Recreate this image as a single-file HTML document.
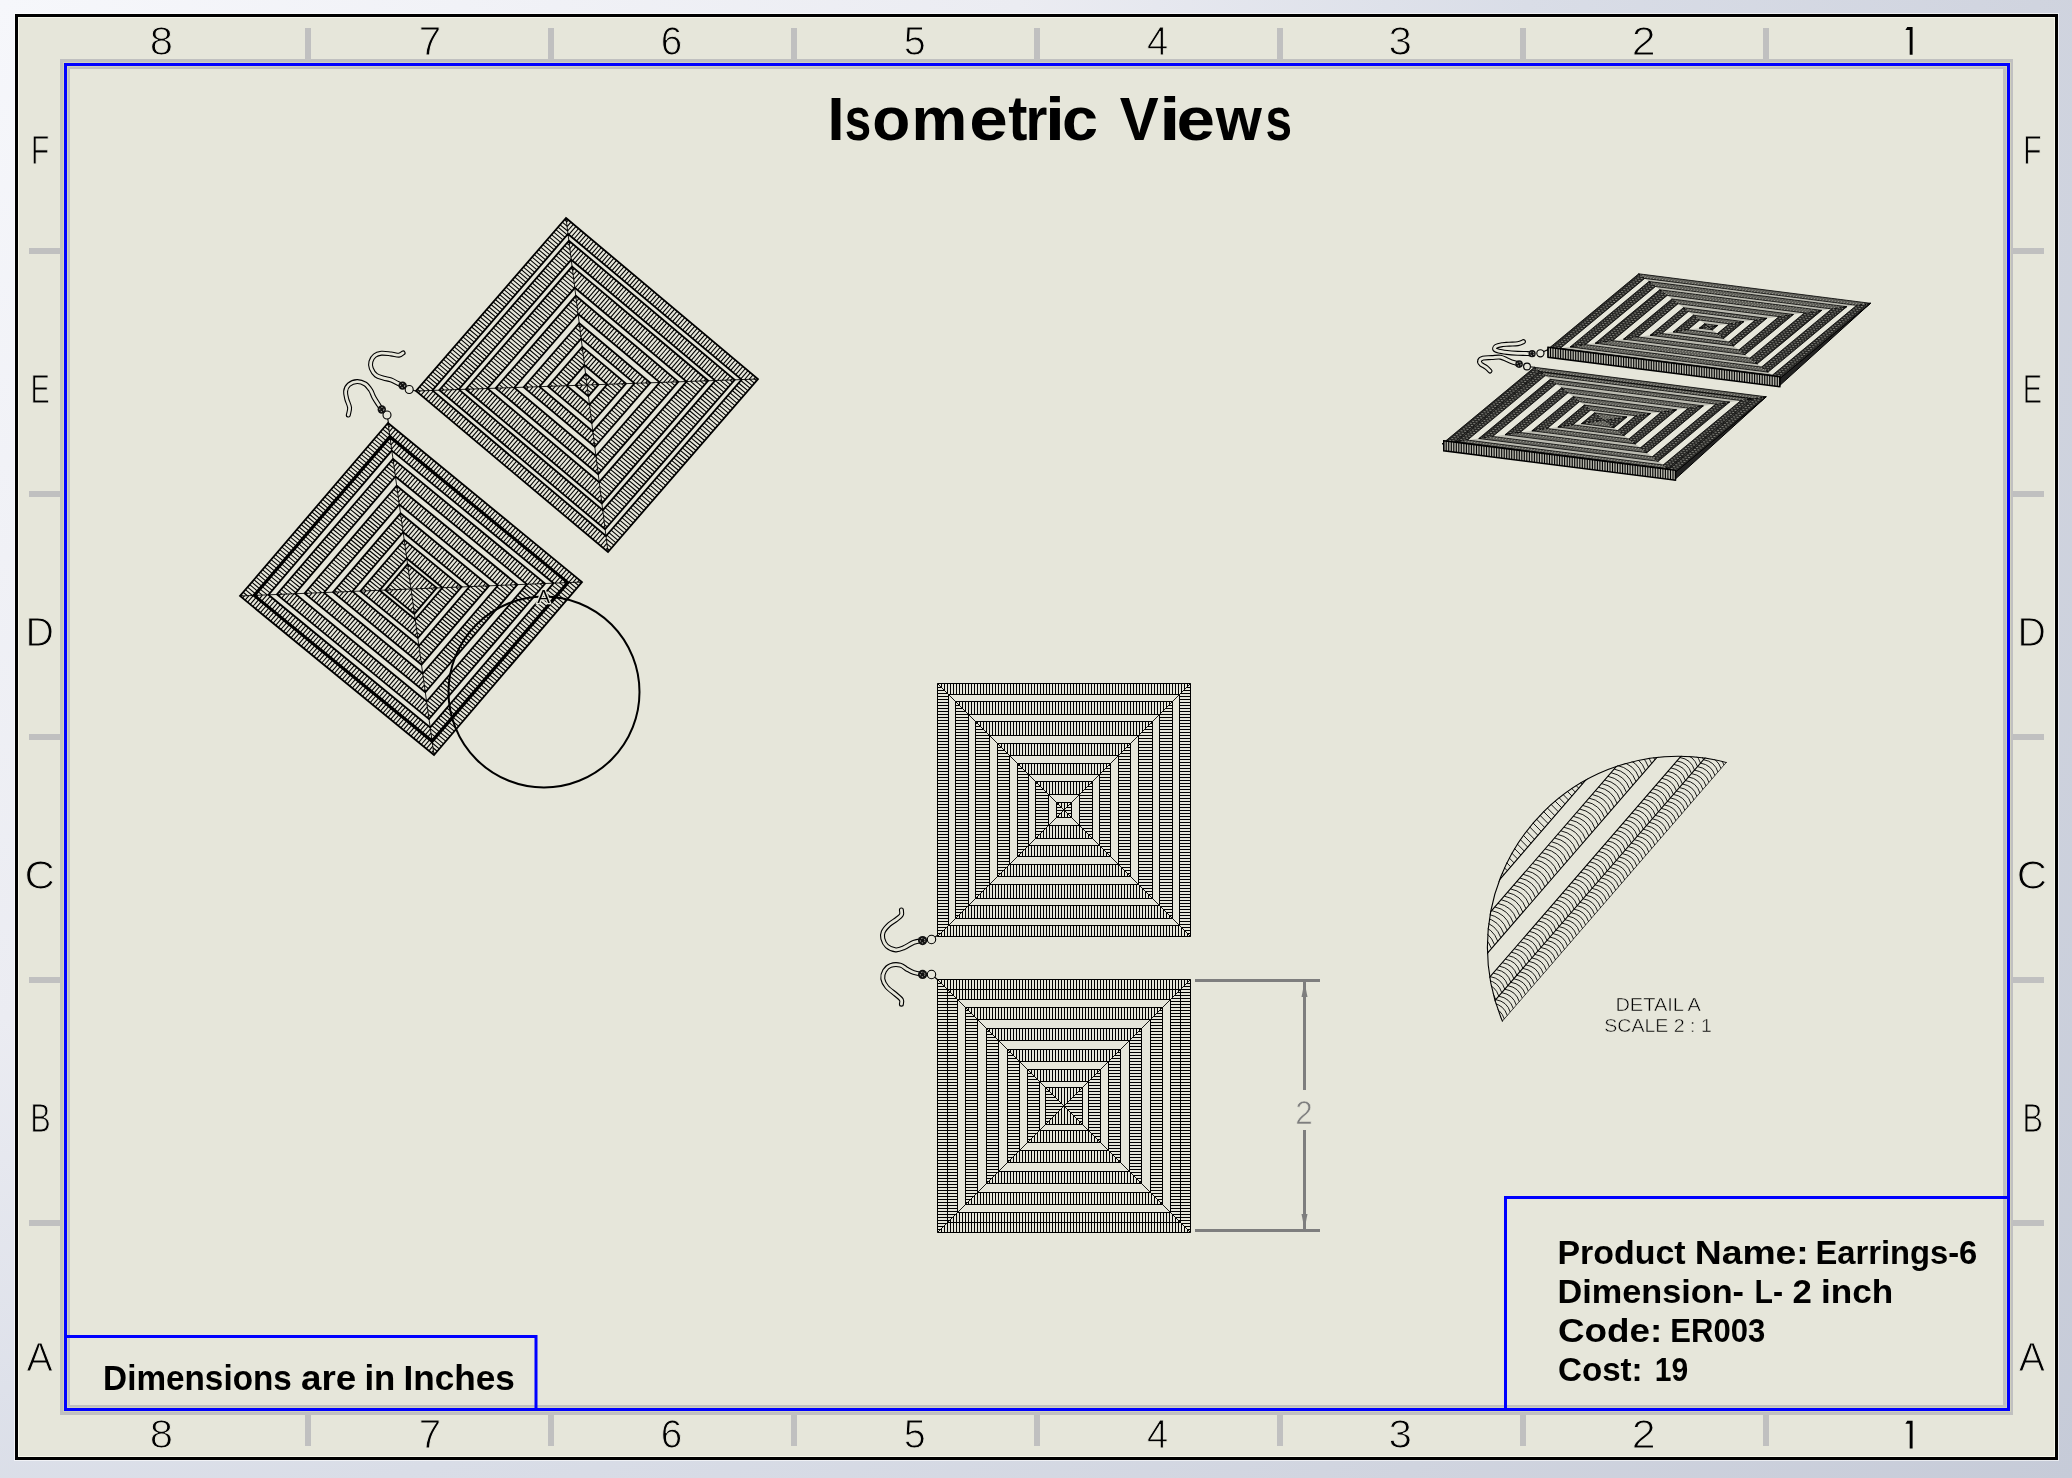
<!DOCTYPE html>
<html><head><meta charset="utf-8"><title>Isometric Views</title>
<style>
html,body{margin:0;padding:0;width:2072px;height:1478px;overflow:hidden}
body{background:radial-gradient(circle farthest-corner at 0 0,#f6f7fb 0%,#ebecf2 40%,#d9dde7 60%,#d0d4df 80%,#c6cbd8 100%)}
svg{position:absolute;left:0;top:0;font-family:"Liberation Sans",sans-serif;will-change:transform}
</style></head><body>
<svg width="2072" height="1478" viewBox="0 0 2072 1478">
<rect x="14" y="13" width="2045" height="1448" fill="#ffffff" opacity="0.6"/>
<rect x="15" y="14" width="2043" height="1446" fill="#000"/>
<rect x="18" y="17" width="2037" height="1440" fill="#f6f6ea"/>
<rect x="19" y="18" width="2035" height="1438" fill="#e6e6da"/>
<rect x="60" y="59" width="1953" height="1356" fill="#c0c0c0"/>
<rect x="63" y="62" width="1948" height="1350" fill="#d0d0bc"/>
<rect x="64" y="63" width="1946" height="1348" fill="#0000ff"/>
<rect x="67" y="66" width="1940" height="1342" fill="#d0d0bc"/>
<rect x="68" y="67" width="1938" height="1340" fill="#c0c0c0"/>
<rect x="70" y="69" width="1933" height="1336" fill="#e6e6da"/>
<rect x="305" y="28" width="6" height="31" fill="#c0c0c0"/>
<rect x="305" y="1415" width="6" height="31" fill="#c0c0c0"/>
<rect x="548" y="28" width="6" height="31" fill="#c0c0c0"/>
<rect x="548" y="1415" width="6" height="31" fill="#c0c0c0"/>
<rect x="791" y="28" width="6" height="31" fill="#c0c0c0"/>
<rect x="791" y="1415" width="6" height="31" fill="#c0c0c0"/>
<rect x="1034" y="28" width="6" height="31" fill="#c0c0c0"/>
<rect x="1034" y="1415" width="6" height="31" fill="#c0c0c0"/>
<rect x="1277" y="28" width="6" height="31" fill="#c0c0c0"/>
<rect x="1277" y="1415" width="6" height="31" fill="#c0c0c0"/>
<rect x="1520" y="28" width="6" height="31" fill="#c0c0c0"/>
<rect x="1520" y="1415" width="6" height="31" fill="#c0c0c0"/>
<rect x="1763" y="28" width="6" height="31" fill="#c0c0c0"/>
<rect x="1763" y="1415" width="6" height="31" fill="#c0c0c0"/>
<rect x="29" y="248" width="31" height="6" fill="#c0c0c0"/>
<rect x="2013" y="248" width="31" height="6" fill="#c0c0c0"/>
<rect x="29" y="491" width="31" height="6" fill="#c0c0c0"/>
<rect x="2013" y="491" width="31" height="6" fill="#c0c0c0"/>
<rect x="29" y="734" width="31" height="6" fill="#c0c0c0"/>
<rect x="2013" y="734" width="31" height="6" fill="#c0c0c0"/>
<rect x="29" y="977" width="31" height="6" fill="#c0c0c0"/>
<rect x="2013" y="977" width="31" height="6" fill="#c0c0c0"/>
<rect x="29" y="1220" width="31" height="6" fill="#c0c0c0"/>
<rect x="2013" y="1220" width="31" height="6" fill="#c0c0c0"/>
<text x="161.3" y="55" font-size="40.5" text-anchor="middle" fill="#000" stroke="#e6e6da" stroke-width="1" transform="translate(161.3 0) scale(1.034 1) translate(-161.3 0)">8</text>
<text x="161.3" y="1448.4" font-size="40.5" text-anchor="middle" fill="#000" stroke="#e6e6da" stroke-width="1" transform="translate(161.3 0) scale(1.034 1) translate(-161.3 0)">8</text>
<text x="430.1" y="55" font-size="40.5" text-anchor="middle" fill="#000" stroke="#e6e6da" stroke-width="1" transform="translate(430.1 0) scale(0.997 1) translate(-430.1 0)">7</text>
<text x="430.1" y="1448.4" font-size="40.5" text-anchor="middle" fill="#000" stroke="#e6e6da" stroke-width="1" transform="translate(430.1 0) scale(0.997 1) translate(-430.1 0)">7</text>
<text x="671.5" y="55" font-size="40.5" text-anchor="middle" fill="#000" stroke="#e6e6da" stroke-width="1" transform="translate(671.5 0) scale(0.954 1) translate(-671.5 0)">6</text>
<text x="671.5" y="1448.4" font-size="40.5" text-anchor="middle" fill="#000" stroke="#e6e6da" stroke-width="1" transform="translate(671.5 0) scale(0.954 1) translate(-671.5 0)">6</text>
<text x="914.7" y="55" font-size="40.5" text-anchor="middle" fill="#000" stroke="#e6e6da" stroke-width="1" transform="translate(914.7 0) scale(0.976 1) translate(-914.7 0)">5</text>
<text x="914.7" y="1448.4" font-size="40.5" text-anchor="middle" fill="#000" stroke="#e6e6da" stroke-width="1" transform="translate(914.7 0) scale(0.976 1) translate(-914.7 0)">5</text>
<text x="1157.5" y="55" font-size="40.5" text-anchor="middle" fill="#000" stroke="#e6e6da" stroke-width="1" transform="translate(1157.5 0) scale(0.941 1) translate(-1157.5 0)">4</text>
<text x="1157.5" y="1448.4" font-size="40.5" text-anchor="middle" fill="#000" stroke="#e6e6da" stroke-width="1" transform="translate(1157.5 0) scale(0.941 1) translate(-1157.5 0)">4</text>
<text x="1400.2" y="55" font-size="40.5" text-anchor="middle" fill="#000" stroke="#e6e6da" stroke-width="1" transform="translate(1400.2 0) scale(1.042 1) translate(-1400.2 0)">3</text>
<text x="1400.2" y="1448.4" font-size="40.5" text-anchor="middle" fill="#000" stroke="#e6e6da" stroke-width="1" transform="translate(1400.2 0) scale(1.042 1) translate(-1400.2 0)">3</text>
<text x="1643.7" y="55" font-size="40.5" text-anchor="middle" fill="#000" stroke="#e6e6da" stroke-width="1" transform="translate(1643.7 0) scale(1.062 1) translate(-1643.7 0)">2</text>
<text x="1643.7" y="1448.4" font-size="40.5" text-anchor="middle" fill="#000" stroke="#e6e6da" stroke-width="1" transform="translate(1643.7 0) scale(1.062 1) translate(-1643.7 0)">2</text>
<path d="M1907.3 27L1912.6 27L1912.6 54.7L1909.7 54.7L1909.7 29.9L1905.4 29.9Z" fill="#000"/>
<path d="M1907.3 1420.8L1912.6 1420.8L1912.6 1448.5L1909.7 1448.5L1909.7 1423.7L1905.4 1423.7Z" fill="#000"/>
<text x="40.1" y="164.2" font-size="40.5" text-anchor="middle" fill="#000" stroke="#e6e6da" stroke-width="1" transform="translate(40.1 0) scale(0.753 1) translate(-40.1 0)">F</text>
<text x="2032.3" y="164.2" font-size="40.5" text-anchor="middle" fill="#000" stroke="#e6e6da" stroke-width="1" transform="translate(2032.3 0) scale(0.753 1) translate(-2032.3 0)">F</text>
<text x="40.2" y="402.6" font-size="40.5" text-anchor="middle" fill="#000" stroke="#e6e6da" stroke-width="1" transform="translate(40.2 0) scale(0.716 1) translate(-40.2 0)">E</text>
<text x="2032.4" y="402.6" font-size="40.5" text-anchor="middle" fill="#000" stroke="#e6e6da" stroke-width="1" transform="translate(2032.4 0) scale(0.716 1) translate(-2032.4 0)">E</text>
<text x="39.6" y="645.6" font-size="40.5" text-anchor="middle" fill="#000" stroke="#e6e6da" stroke-width="1" transform="translate(39.6 0) scale(0.971 1) translate(-39.6 0)">D</text>
<text x="2031.8" y="645.6" font-size="40.5" text-anchor="middle" fill="#000" stroke="#e6e6da" stroke-width="1" transform="translate(2031.8 0) scale(0.971 1) translate(-2031.8 0)">D</text>
<text x="39.7" y="888.6" font-size="40.5" text-anchor="middle" fill="#000" stroke="#e6e6da" stroke-width="1" transform="translate(39.7 0) scale(1.041 1) translate(-39.7 0)">C</text>
<text x="2031.9" y="888.6" font-size="40.5" text-anchor="middle" fill="#000" stroke="#e6e6da" stroke-width="1" transform="translate(2031.9 0) scale(1.041 1) translate(-2031.9 0)">C</text>
<text x="40.6" y="1131.7" font-size="40.5" text-anchor="middle" fill="#000" stroke="#e6e6da" stroke-width="1" transform="translate(40.6 0) scale(0.759 1) translate(-40.6 0)">B</text>
<text x="2032.8" y="1131.7" font-size="40.5" text-anchor="middle" fill="#000" stroke="#e6e6da" stroke-width="1" transform="translate(2032.8 0) scale(0.759 1) translate(-2032.8 0)">B</text>
<text x="39.7" y="1371" font-size="40.5" text-anchor="middle" fill="#000" stroke="#e6e6da" stroke-width="1" transform="translate(39.7 0) scale(0.972 1) translate(-39.7 0)">A</text>
<text x="2031.9" y="1371" font-size="40.5" text-anchor="middle" fill="#000" stroke="#e6e6da" stroke-width="1" transform="translate(2031.9 0) scale(0.972 1) translate(-2031.9 0)">A</text>
<g><path d="M419.4 390.9l-1.9 -1.6M424.3 390.7l-4.7 -3.9M429.3 390.5l-7.5 -6.2M433.2 389.5l-9.2 -7.7M435.4 387l-9.2 -7.7M437.5 384.5l-9.2 -7.7M439.7 382l-9.2 -7.7M441.8 379.5l-9.2 -7.7M444 377.1l-9.2 -7.7M446.2 374.6l-9.2 -7.7M448.3 372.1l-9.2 -7.7M450.5 369.6l-9.2 -7.7M452.7 367.1l-9.2 -7.7M454.8 364.6l-9.2 -7.7M457 362.1l-9.2 -7.7M459.1 359.6l-9.2 -7.7M461.3 357.1l-9.2 -7.7M463.5 354.6l-9.2 -7.7M465.6 352.1l-9.2 -7.7M467.8 349.6l-9.2 -7.7M470 347.1l-9.2 -7.7M472.1 344.6l-9.2 -7.7M474.3 342.1l-9.2 -7.7M476.4 339.7l-9.2 -7.7M478.6 337.2l-9.2 -7.7M480.8 334.7l-9.2 -7.7M482.9 332.2l-9.2 -7.7M485.1 329.7l-9.2 -7.7M487.2 327.2l-9.2 -7.7M489.4 324.7l-9.2 -7.7M491.6 322.2l-9.2 -7.7M493.7 319.7l-9.2 -7.7M495.9 317.2l-9.2 -7.7M498.1 314.7l-9.2 -7.7M500.2 312.2l-9.2 -7.7M502.4 309.7l-9.2 -7.7M504.5 307.2l-9.2 -7.7M506.7 304.7l-9.2 -7.7M508.9 302.3l-9.2 -7.7M511 299.8l-9.2 -7.7M513.2 297.3l-9.2 -7.7M515.3 294.8l-9.2 -7.7M517.5 292.3l-9.2 -7.7M519.7 289.8l-9.2 -7.7M521.8 287.3l-9.2 -7.7M524 284.8l-9.2 -7.7M526.2 282.3l-9.2 -7.7M528.3 279.8l-9.2 -7.7M530.5 277.3l-9.2 -7.7M532.6 274.8l-9.2 -7.7M534.8 272.3l-9.2 -7.7M537 269.8l-9.2 -7.7M539.1 267.3l-9.2 -7.7M541.3 264.9l-9.2 -7.7M543.5 262.4l-9.2 -7.7M545.6 259.9l-9.2 -7.7M547.8 257.4l-9.2 -7.7M549.9 254.9l-9.2 -7.7M552.1 252.4l-9.2 -7.7M554.3 249.9l-9.2 -7.7M556.4 247.4l-9.2 -7.7M558.6 244.9l-9.2 -7.7M560.7 242.4l-9.2 -7.7M562.9 239.9l-9.2 -7.7M565.1 237.4l-9.2 -7.7M567.2 234.9l-9.2 -7.7M567.6 231l-7.5 -6.2M567 226.1l-4.7 -3.9M566.4 221.3l-1.9 -1.6M753.7 379.2l1.9 -2.2M749.1 379.3l3.9 -4.5M744.6 379.5l5.9 -6.8M740.8 378.9l7.2 -8.3M738.2 376.8l7.2 -8.3M735.7 374.7l7.2 -8.3M733.2 372.5l7.2 -8.3M730.7 370.4l7.2 -8.3M728.1 368.3l7.2 -8.3M725.6 366.2l7.2 -8.3M723.1 364.1l7.2 -8.3M720.5 361.9l7.2 -8.3M718 359.8l7.2 -8.3M715.5 357.7l7.2 -8.3M713 355.6l7.2 -8.3M710.4 353.5l7.2 -8.3M707.9 351.3l7.2 -8.3M705.4 349.2l7.2 -8.3M702.8 347.1l7.2 -8.3M700.3 345l7.2 -8.3M697.8 342.9l7.2 -8.3M695.3 340.7l7.2 -8.3M692.7 338.6l7.2 -8.3M690.2 336.5l7.2 -8.3M687.7 334.4l7.2 -8.3M685.1 332.2l7.2 -8.3M682.6 330.1l7.2 -8.3M680.1 328l7.2 -8.3M677.6 325.9l7.2 -8.3M675 323.8l7.2 -8.3M672.5 321.6l7.2 -8.3M670 319.5l7.2 -8.3M667.4 317.4l7.2 -8.3M664.9 315.3l7.2 -8.3M662.4 313.2l7.2 -8.3M659.9 311l7.2 -8.3M657.3 308.9l7.2 -8.3M654.8 306.8l7.2 -8.3M652.3 304.7l7.2 -8.3M649.7 302.6l7.2 -8.3M647.2 300.4l7.2 -8.3M644.7 298.3l7.2 -8.3M642.2 296.2l7.2 -8.3M639.6 294.1l7.2 -8.3M637.1 292l7.2 -8.3M634.6 289.8l7.2 -8.3M632 287.7l7.2 -8.3M629.5 285.6l7.2 -8.3M627 283.5l7.2 -8.3M624.5 281.4l7.2 -8.3M621.9 279.2l7.2 -8.3M619.4 277.1l7.2 -8.3M616.9 275l7.2 -8.3M614.3 272.9l7.2 -8.3M611.8 270.8l7.2 -8.3M609.3 268.6l7.2 -8.3M606.8 266.5l7.2 -8.3M604.2 264.4l7.2 -8.3M601.7 262.3l7.2 -8.3M599.2 260.2l7.2 -8.3M596.6 258l7.2 -8.3M594.1 255.9l7.2 -8.3M591.6 253.8l7.2 -8.3M589.1 251.7l7.2 -8.3M586.5 249.6l7.2 -8.3M584 247.4l7.2 -8.3M581.5 245.3l7.2 -8.3M578.9 243.2l7.2 -8.3M576.4 241.1l7.2 -8.3M573.9 239l7.2 -8.3M571.4 236.8l7.2 -8.3M568.8 234.7l7.2 -8.3M567.6 231l5.9 -6.8M567.1 226.6l3.9 -4.5M566.5 222.2l1.9 -2.2M607.6 548.7l1.9 1.6M607 543.9l4.7 3.9M606.4 539l7.5 6.2M606.8 535.1l9.2 7.7M608.9 532.6l9.2 7.7M611.1 530.1l9.2 7.7M613.3 527.6l9.2 7.7M615.4 525.1l9.2 7.7M617.6 522.6l9.2 7.7M619.7 520.1l9.2 7.7M621.9 517.6l9.2 7.7M624.1 515.1l9.2 7.7M626.2 512.6l9.2 7.7M628.4 510.1l9.2 7.7M630.5 507.6l9.2 7.7M632.7 505.1l9.2 7.7M634.9 502.7l9.2 7.7M637 500.2l9.2 7.7M639.2 497.7l9.2 7.7M641.4 495.2l9.2 7.7M643.5 492.7l9.2 7.7M645.7 490.2l9.2 7.7M647.8 487.7l9.2 7.7M650 485.2l9.2 7.7M652.2 482.7l9.2 7.7M654.3 480.2l9.2 7.7M656.5 477.7l9.2 7.7M658.7 475.2l9.2 7.7M660.8 472.7l9.2 7.7M663 470.2l9.2 7.7M665.1 467.7l9.2 7.7M667.3 465.3l9.2 7.7M669.5 462.8l9.2 7.7M671.6 460.3l9.2 7.7M673.8 457.8l9.2 7.7M675.9 455.3l9.2 7.7M678.1 452.8l9.2 7.7M680.3 450.3l9.2 7.7M682.4 447.8l9.2 7.7M684.6 445.3l9.2 7.7M686.8 442.8l9.2 7.7M688.9 440.3l9.2 7.7M691.1 437.8l9.2 7.7M693.2 435.3l9.2 7.7M695.4 432.8l9.2 7.7M697.6 430.3l9.2 7.7M699.7 427.9l9.2 7.7M701.9 425.4l9.2 7.7M704 422.9l9.2 7.7M706.2 420.4l9.2 7.7M708.4 417.9l9.2 7.7M710.5 415.4l9.2 7.7M712.7 412.9l9.2 7.7M714.9 410.4l9.2 7.7M717 407.9l9.2 7.7M719.2 405.4l9.2 7.7M721.3 402.9l9.2 7.7M723.5 400.4l9.2 7.7M725.7 397.9l9.2 7.7M727.8 395.4l9.2 7.7M730 392.9l9.2 7.7M732.2 390.5l9.2 7.7M734.3 388l9.2 7.7M736.5 385.5l9.2 7.7M738.6 383l9.2 7.7M740.8 380.5l9.2 7.7M744.7 379.5l7.5 6.2M749.7 379.3l4.7 3.9M754.6 379.1l1.9 1.6M607.5 547.8l-1.9 2.2M606.9 543.4l-3.9 4.5M606.4 539l-5.9 6.8M605.2 535.3l-7.2 8.3M602.6 533.2l-7.2 8.3M600.1 531l-7.2 8.3M597.6 528.9l-7.2 8.3M595.1 526.8l-7.2 8.3M592.5 524.7l-7.2 8.3M590 522.6l-7.2 8.3M587.5 520.4l-7.2 8.3M584.9 518.3l-7.2 8.3M582.4 516.2l-7.2 8.3M579.9 514.1l-7.2 8.3M577.4 512l-7.2 8.3M574.8 509.8l-7.2 8.3M572.3 507.7l-7.2 8.3M569.8 505.6l-7.2 8.3M567.2 503.5l-7.2 8.3M564.7 501.4l-7.2 8.3M562.2 499.2l-7.2 8.3M559.7 497.1l-7.2 8.3M557.1 495l-7.2 8.3M554.6 492.9l-7.2 8.3M552.1 490.8l-7.2 8.3M549.5 488.6l-7.2 8.3M547 486.5l-7.2 8.3M544.5 484.4l-7.2 8.3M542 482.3l-7.2 8.3M539.4 480.2l-7.2 8.3M536.9 478l-7.2 8.3M534.4 475.9l-7.2 8.3M531.8 473.8l-7.2 8.3M529.3 471.7l-7.2 8.3M526.8 469.6l-7.2 8.3M524.3 467.4l-7.2 8.3M521.7 465.3l-7.2 8.3M519.2 463.2l-7.2 8.3M516.7 461.1l-7.2 8.3M514.1 459l-7.2 8.3M511.6 456.8l-7.2 8.3M509.1 454.7l-7.2 8.3M506.6 452.6l-7.2 8.3M504 450.5l-7.2 8.3M501.5 448.4l-7.2 8.3M499 446.2l-7.2 8.3M496.4 444.1l-7.2 8.3M493.9 442l-7.2 8.3M491.4 439.9l-7.2 8.3M488.9 437.8l-7.2 8.3M486.3 435.6l-7.2 8.3M483.8 433.5l-7.2 8.3M481.3 431.4l-7.2 8.3M478.7 429.3l-7.2 8.3M476.2 427.1l-7.2 8.3M473.7 425l-7.2 8.3M471.2 422.9l-7.2 8.3M468.6 420.8l-7.2 8.3M466.1 418.7l-7.2 8.3M463.6 416.5l-7.2 8.3M461 414.4l-7.2 8.3M458.5 412.3l-7.2 8.3M456 410.2l-7.2 8.3M453.5 408.1l-7.2 8.3M450.9 405.9l-7.2 8.3M448.4 403.8l-7.2 8.3M445.9 401.7l-7.2 8.3M443.3 399.6l-7.2 8.3M440.8 397.5l-7.2 8.3M438.3 395.3l-7.2 8.3M435.8 393.2l-7.2 8.3M433.2 391.1l-7.2 8.3M429.4 390.5l-5.9 6.8M424.9 390.7l-3.9 4.5M420.3 390.8l-1.9 2.2M444.1 390l-2.7 -2.3M449 389.8l-5.5 -4.6M453.9 389.7l-8.2 -6.9M458.8 389.5l-10.9 -9.2M461 387l-10.9 -9.2M463.1 384.5l-10.9 -9.2M465.3 382l-10.9 -9.2M467.4 379.5l-10.9 -9.2M469.6 377l-10.9 -9.2M471.8 374.5l-10.9 -9.2M473.9 372l-10.9 -9.2M476.1 369.5l-10.9 -9.2M478.2 367l-10.9 -9.2M480.4 364.5l-10.9 -9.2M482.6 362l-10.9 -9.2M484.7 359.5l-10.9 -9.2M486.9 357l-10.9 -9.2M489.1 354.5l-10.9 -9.2M491.2 352.1l-10.9 -9.2M493.4 349.6l-10.9 -9.2M495.5 347.1l-10.9 -9.2M497.7 344.6l-10.9 -9.2M499.9 342.1l-10.9 -9.2M502 339.6l-10.9 -9.2M504.2 337.1l-10.9 -9.2M506.4 334.6l-10.9 -9.2M508.5 332.1l-10.9 -9.2M510.7 329.6l-10.9 -9.2M512.8 327.1l-10.9 -9.2M515 324.6l-10.9 -9.2M517.2 322.1l-10.9 -9.2M519.3 319.6l-10.9 -9.2M521.5 317.1l-10.9 -9.2M523.6 314.7l-10.9 -9.2M525.8 312.2l-10.9 -9.2M528 309.7l-10.9 -9.2M530.1 307.2l-10.9 -9.2M532.3 304.7l-10.9 -9.2M534.5 302.2l-10.9 -9.2M536.6 299.7l-10.9 -9.2M538.8 297.2l-10.9 -9.2M540.9 294.7l-10.9 -9.2M543.1 292.2l-10.9 -9.2M545.3 289.7l-10.9 -9.2M547.4 287.2l-10.9 -9.2M549.6 284.7l-10.9 -9.2M551.8 282.2l-10.9 -9.2M553.9 279.7l-10.9 -9.2M556.1 277.3l-10.9 -9.2M558.2 274.8l-10.9 -9.2M560.4 272.3l-10.9 -9.2M562.6 269.8l-10.9 -9.2M564.7 267.3l-10.9 -9.2M566.9 264.8l-10.9 -9.2M569 262.3l-10.9 -9.2M571.2 259.8l-10.9 -9.2M570.7 255l-8.2 -6.9M570.1 250.2l-5.5 -4.6M569.4 245.4l-2.7 -2.3M731.1 379.9l1.6 -1.8M726.6 380.1l3.6 -4.1M722.1 380.3l5.5 -6.4M717.6 380.4l7.5 -8.7M714.1 379.5l8.5 -9.9M711.5 377.4l8.5 -9.9M709 375.3l8.5 -9.9M706.5 373.1l8.5 -9.9M703.9 371l8.5 -9.9M701.4 368.9l8.5 -9.9M698.9 366.8l8.5 -9.9M696.4 364.7l8.5 -9.9M693.8 362.5l8.5 -9.9M691.3 360.4l8.5 -9.9M688.8 358.3l8.5 -9.9M686.2 356.2l8.5 -9.9M683.7 354.1l8.5 -9.9M681.2 351.9l8.5 -9.9M678.7 349.8l8.5 -9.9M676.1 347.7l8.5 -9.9M673.6 345.6l8.5 -9.9M671.1 343.4l8.5 -9.9M668.5 341.3l8.5 -9.9M666 339.2l8.5 -9.9M663.5 337.1l8.5 -9.9M661 335l8.5 -9.9M658.4 332.8l8.5 -9.9M655.9 330.7l8.5 -9.9M653.4 328.6l8.5 -9.9M650.8 326.5l8.5 -9.9M648.3 324.4l8.5 -9.9M645.8 322.2l8.5 -9.9M643.2 320.1l8.5 -9.9M640.7 318l8.5 -9.9M638.2 315.9l8.5 -9.9M635.7 313.8l8.5 -9.9M633.1 311.6l8.5 -9.9M630.6 309.5l8.5 -9.9M628.1 307.4l8.5 -9.9M625.5 305.3l8.5 -9.9M623 303.2l8.5 -9.9M620.5 301l8.5 -9.9M618 298.9l8.5 -9.9M615.4 296.8l8.5 -9.9M612.9 294.7l8.5 -9.9M610.4 292.6l8.5 -9.9M607.8 290.4l8.5 -9.9M605.3 288.3l8.5 -9.9M602.8 286.2l8.5 -9.9M600.3 284.1l8.5 -9.9M597.7 282l8.5 -9.9M595.2 279.8l8.5 -9.9M592.7 277.7l8.5 -9.9M590.1 275.6l8.5 -9.9M587.6 273.5l8.5 -9.9M585.1 271.4l8.5 -9.9M582.6 269.2l8.5 -9.9M580 267.1l8.5 -9.9M577.5 265l8.5 -9.9M575 262.9l8.5 -9.9M572.4 260.8l8.5 -9.9M571 257.4l7.5 -8.7M570.4 253l5.5 -6.4M569.9 248.6l3.6 -4.1M569.3 244.2l1.6 -1.8M604.6 524.6l2.7 2.3M603.9 519.8l5.5 4.6M603.3 515l8.2 6.9M602.8 510.2l10.9 9.2M605 507.7l10.9 9.2M607.1 505.2l10.9 9.2M609.3 502.7l10.9 9.2M611.4 500.2l10.9 9.2M613.6 497.7l10.9 9.2M615.8 495.2l10.9 9.2M617.9 492.7l10.9 9.2M620.1 490.3l10.9 9.2M622.2 487.8l10.9 9.2M624.4 485.3l10.9 9.2M626.6 482.8l10.9 9.2M628.7 480.3l10.9 9.2M630.9 477.8l10.9 9.2M633.1 475.3l10.9 9.2M635.2 472.8l10.9 9.2M637.4 470.3l10.9 9.2M639.5 467.8l10.9 9.2M641.7 465.3l10.9 9.2M643.9 462.8l10.9 9.2M646 460.3l10.9 9.2M648.2 457.8l10.9 9.2M650.4 455.3l10.9 9.2M652.5 452.9l10.9 9.2M654.7 450.4l10.9 9.2M656.8 447.9l10.9 9.2M659 445.4l10.9 9.2M661.2 442.9l10.9 9.2M663.3 440.4l10.9 9.2M665.5 437.9l10.9 9.2M667.6 435.4l10.9 9.2M669.8 432.9l10.9 9.2M672 430.4l10.9 9.2M674.1 427.9l10.9 9.2M676.3 425.4l10.9 9.2M678.5 422.9l10.9 9.2M680.6 420.4l10.9 9.2M682.8 417.9l10.9 9.2M684.9 415.5l10.9 9.2M687.1 413l10.9 9.2M689.3 410.5l10.9 9.2M691.4 408l10.9 9.2M693.6 405.5l10.9 9.2M695.8 403l10.9 9.2M697.9 400.5l10.9 9.2M700.1 398l10.9 9.2M702.2 395.5l10.9 9.2M704.4 393l10.9 9.2M706.6 390.5l10.9 9.2M708.7 388l10.9 9.2M710.9 385.5l10.9 9.2M713 383l10.9 9.2M715.2 380.5l10.9 9.2M720.1 380.3l8.2 6.9M725 380.2l5.5 4.6M729.9 380l2.7 2.3M604.7 525.8l-1.6 1.8M604.1 521.4l-3.6 4.1M603.6 517l-5.5 6.4M603 512.6l-7.5 8.7M601.6 509.2l-8.5 9.9M599 507.1l-8.5 9.9M596.5 505l-8.5 9.9M594 502.9l-8.5 9.9M591.4 500.8l-8.5 9.9M588.9 498.6l-8.5 9.9M586.4 496.5l-8.5 9.9M583.9 494.4l-8.5 9.9M581.3 492.3l-8.5 9.9M578.8 490.2l-8.5 9.9M576.3 488l-8.5 9.9M573.7 485.9l-8.5 9.9M571.2 483.8l-8.5 9.9M568.7 481.7l-8.5 9.9M566.2 479.6l-8.5 9.9M563.6 477.4l-8.5 9.9M561.1 475.3l-8.5 9.9M558.6 473.2l-8.5 9.9M556 471.1l-8.5 9.9M553.5 469l-8.5 9.9M551 466.8l-8.5 9.9M548.5 464.7l-8.5 9.9M545.9 462.6l-8.5 9.9M543.4 460.5l-8.5 9.9M540.9 458.4l-8.5 9.9M538.3 456.2l-8.5 9.9M535.8 454.1l-8.5 9.9M533.3 452l-8.5 9.9M530.8 449.9l-8.5 9.9M528.2 447.8l-8.5 9.9M525.7 445.6l-8.5 9.9M523.2 443.5l-8.5 9.9M520.6 441.4l-8.5 9.9M518.1 439.3l-8.5 9.9M515.6 437.2l-8.5 9.9M513 435l-8.6 9.9M510.5 432.9l-8.5 9.9M508 430.8l-8.5 9.9M505.5 428.7l-8.5 9.9M502.9 426.6l-8.5 9.9M500.4 424.4l-8.5 9.9M497.9 422.3l-8.5 9.9M495.3 420.2l-8.5 9.9M492.8 418.1l-8.5 9.9M490.3 415.9l-8.5 9.9M487.8 413.8l-8.5 9.9M485.2 411.7l-8.5 9.9M482.7 409.6l-8.5 9.9M480.2 407.5l-8.5 9.9M477.6 405.3l-8.5 9.9M475.1 403.2l-8.5 9.9M472.6 401.1l-8.5 9.9M470.1 399l-8.5 9.9M467.5 396.9l-8.5 9.9M465 394.7l-8.5 9.9M462.5 392.6l-8.5 9.9M459.9 390.5l-8.5 9.9M456.4 389.6l-7.5 8.7M451.9 389.7l-5.5 6.4M447.4 389.9l-3.6 4.1M442.9 390.1l-1.6 1.8M468.7 389.2l-1.7 -1.4M473.6 389l-4.4 -3.7M478.6 388.8l-7.2 -6M483.5 388.6l-10 -8.3M487.9 388l-12.2 -10.2M490.1 385.5l-12.2 -10.2M492.2 383l-12.2 -10.2M494.4 380.5l-12.2 -10.2M496.5 378l-12.2 -10.2M498.7 375.5l-12.2 -10.2M500.9 373.1l-12.2 -10.2M503 370.6l-12.2 -10.2M505.2 368.1l-12.2 -10.2M507.3 365.6l-12.2 -10.2M509.5 363.1l-12.2 -10.2M511.7 360.6l-12.2 -10.2M513.8 358.1l-12.2 -10.2M516 355.6l-12.2 -10.2M518.2 353.1l-12.2 -10.2M520.3 350.6l-12.2 -10.2M522.5 348.1l-12.2 -10.2M524.6 345.6l-12.2 -10.2M526.8 343.1l-12.2 -10.2M529 340.6l-12.2 -10.2M531.1 338.1l-12.2 -10.2M533.3 335.7l-12.2 -10.2M535.5 333.2l-12.2 -10.2M537.6 330.7l-12.2 -10.2M539.8 328.2l-12.2 -10.2M541.9 325.7l-12.2 -10.2M544.1 323.2l-12.2 -10.2M546.3 320.7l-12.2 -10.2M548.4 318.2l-12.2 -10.2M550.6 315.7l-12.2 -10.2M552.7 313.2l-12.2 -10.2M554.9 310.7l-12.2 -10.2M557.1 308.2l-12.2 -10.2M559.2 305.7l-12.2 -10.2M561.4 303.2l-12.2 -10.2M563.6 300.7l-12.2 -10.2M565.7 298.3l-12.2 -10.2M567.9 295.8l-12.2 -10.2M570 293.3l-12.2 -10.2M572.2 290.8l-12.2 -10.2M574.4 288.3l-12.2 -10.2M574.3 283.9l-10 -8.3M573.7 279.1l-7.2 -6M573.1 274.3l-4.4 -3.7M572.5 269.5l-1.7 -1.4M704.1 380.9l1.8 -2.1M699.6 381l3.8 -4.4M695.1 381.2l5.8 -6.6M690.6 381.4l7.7 -8.9M686.3 381.3l9.5 -11M683.8 379.2l9.5 -11M681.2 377.1l9.5 -11M678.7 374.9l9.5 -11M676.2 372.8l9.5 -11M673.6 370.7l9.5 -11M671.1 368.6l9.5 -11M668.6 366.5l9.5 -11M666.1 364.3l9.5 -11M663.5 362.2l9.5 -11M661 360.1l9.5 -11M658.5 358l9.5 -11M655.9 355.9l9.5 -11M653.4 353.7l9.5 -11M650.9 351.6l9.5 -11M648.4 349.5l9.5 -11M645.8 347.4l9.5 -11M643.3 345.3l9.5 -11M640.8 343.1l9.5 -11M638.2 341l9.5 -11M635.7 338.9l9.5 -11M633.2 336.8l9.5 -11M630.6 334.7l9.5 -11M628.1 332.5l9.5 -11M625.6 330.4l9.5 -11M623.1 328.3l9.5 -11M620.5 326.2l9.5 -11M618 324.1l9.5 -11M615.5 321.9l9.5 -11M612.9 319.8l9.5 -11M610.4 317.7l9.5 -11M607.9 315.6l9.5 -11M605.4 313.5l9.5 -11M602.8 311.3l9.5 -11M600.3 309.2l9.5 -11M597.8 307.1l9.5 -11M595.2 305l9.5 -11M592.7 302.9l9.5 -11M590.2 300.7l9.5 -11M587.7 298.6l9.5 -11M585.1 296.5l9.5 -11M582.6 294.4l9.5 -11M580.1 292.2l9.5 -11M577.5 290.1l9.5 -11M575 288l9.5 -11M574.3 283.8l7.7 -8.9M573.7 279.4l5.8 -6.6M573.2 275l3.8 -4.4M572.6 270.6l1.8 -2.1M601.5 500.5l1.7 1.4M600.9 495.7l4.4 3.7M600.3 490.9l7.2 6M599.7 486.1l10 8.3M599.6 481.7l12.2 10.2M601.8 479.2l12.2 10.2M604 476.7l12.2 10.2M606.1 474.2l12.2 10.2M608.3 471.7l12.2 10.2M610.4 469.3l12.2 10.2M612.6 466.8l12.2 10.2M614.8 464.3l12.2 10.2M616.9 461.8l12.2 10.2M619.1 459.3l12.2 10.2M621.3 456.8l12.2 10.2M623.4 454.3l12.2 10.2M625.6 451.8l12.2 10.2M627.7 449.3l12.2 10.2M629.9 446.8l12.2 10.2M632.1 444.3l12.2 10.2M634.2 441.8l12.2 10.2M636.4 439.3l12.2 10.2M638.5 436.8l12.2 10.2M640.7 434.3l12.2 10.2M642.9 431.9l12.2 10.2M645 429.4l12.2 10.2M647.2 426.9l12.2 10.2M649.4 424.4l12.2 10.2M651.5 421.9l12.2 10.2M653.7 419.4l12.2 10.2M655.8 416.9l12.2 10.2M658 414.4l12.2 10.2M660.2 411.9l12.2 10.2M662.3 409.4l12.2 10.2M664.5 406.9l12.2 10.2M666.7 404.4l12.2 10.2M668.8 401.9l12.2 10.2M671 399.4l12.2 10.2M673.1 396.9l12.2 10.2M675.3 394.5l12.2 10.2M677.5 392l12.2 10.2M679.6 389.5l12.2 10.2M681.8 387l12.2 10.2M683.9 384.5l12.2 10.2M686.1 382l12.2 10.2M690.5 381.4l10 8.3M695.4 381.2l7.2 6M700.4 381l4.4 3.7M705.3 380.8l1.7 1.4M601.4 499.4l-1.8 2.1M600.8 495l-3.8 4.4M600.3 490.6l-5.8 6.6M599.7 486.2l-7.7 8.9M599 482l-9.5 11M596.5 479.9l-9.5 11M593.9 477.8l-9.5 11M591.4 475.6l-9.5 11M588.9 473.5l-9.5 11M586.3 471.4l-9.5 11M583.8 469.3l-9.5 11M581.3 467.1l-9.5 11M578.8 465l-9.5 11M576.2 462.9l-9.5 11M573.7 460.8l-9.5 11M571.2 458.7l-9.5 11M568.6 456.5l-9.5 11M566.1 454.4l-9.5 11M563.6 452.3l-9.5 11M561.1 450.2l-9.5 11M558.5 448.1l-9.5 11M556 445.9l-9.5 11M553.5 443.8l-9.5 11M550.9 441.7l-9.5 11M548.4 439.6l-9.5 11M545.9 437.5l-9.5 11M543.4 435.3l-9.5 11M540.8 433.2l-9.5 11M538.3 431.1l-9.5 11M535.8 429l-9.5 11M533.2 426.9l-9.5 11M530.7 424.7l-9.5 11M528.2 422.6l-9.5 11M525.6 420.5l-9.5 11M523.1 418.4l-9.5 11M520.6 416.3l-9.5 11M518.1 414.1l-9.5 11M515.5 412l-9.5 11M513 409.9l-9.5 11M510.5 407.8l-9.5 11M507.9 405.7l-9.5 11M505.4 403.5l-9.5 11M502.9 401.4l-9.5 11M500.4 399.3l-9.5 11M497.8 397.2l-9.5 11M495.3 395.1l-9.5 11M492.8 392.9l-9.5 11M490.2 390.8l-9.5 11M487.7 388.7l-9.5 11M483.4 388.6l-7.7 8.9M478.9 388.8l-5.8 6.6M474.4 389l-3.8 4.4M469.9 389.1l-1.8 2.1M498.3 388.1l-1.5 -1.2M503.2 387.9l-4.2 -3.5M508.1 387.8l-7 -5.9M513.1 387.6l-9.8 -8.2M515.9 385.7l-10.5 -8.8M518.1 383.2l-10.5 -8.8M520.3 380.7l-10.5 -8.8M522.4 378.2l-10.5 -8.8M524.6 375.7l-10.5 -8.8M526.7 373.2l-10.5 -8.8M528.9 370.7l-10.5 -8.8M531.1 368.2l-10.5 -8.8M533.2 365.7l-10.5 -8.8M535.4 363.3l-10.5 -8.8M537.6 360.8l-10.5 -8.8M539.7 358.3l-10.5 -8.8M541.9 355.8l-10.5 -8.8M544 353.3l-10.5 -8.8M546.2 350.8l-10.5 -8.8M548.4 348.3l-10.5 -8.8M550.5 345.8l-10.5 -8.8M552.7 343.3l-10.5 -8.8M554.8 340.8l-10.5 -8.8M557 338.3l-10.5 -8.8M559.2 335.8l-10.5 -8.8M561.3 333.3l-10.5 -8.8M563.5 330.8l-10.5 -8.8M565.7 328.3l-10.5 -8.8M567.8 325.9l-10.5 -8.8M570 323.4l-10.5 -8.8M572.1 320.9l-10.5 -8.8M574.3 318.4l-10.5 -8.8M576.5 315.9l-10.5 -8.8M577.9 312.8l-9.8 -8.2M577.3 308l-7 -5.9M576.7 303.2l-4.2 -3.5M576.1 298.4l-1.5 -1.2M677.1 381.8l0.5 -0.6M672.6 382l2.5 -2.9M668.1 382.2l4.5 -5.2M663.6 382.3l6.5 -7.5M659.3 382.2l8.2 -9.4M656.8 380l8.2 -9.4M654.3 377.9l8.2 -9.4M651.7 375.8l8.2 -9.4M649.2 373.7l8.2 -9.4M646.7 371.6l8.2 -9.4M644.2 369.4l8.2 -9.4M641.6 367.3l8.2 -9.4M639.1 365.2l8.2 -9.4M636.6 363.1l8.2 -9.4M634 361l8.2 -9.4M631.5 358.8l8.2 -9.4M629 356.7l8.2 -9.4M626.5 354.6l8.2 -9.4M623.9 352.5l8.2 -9.4M621.4 350.4l8.2 -9.4M618.9 348.2l8.2 -9.4M616.3 346.1l8.2 -9.4M613.8 344l8.2 -9.4M611.3 341.9l8.2 -9.4M608.8 339.8l8.2 -9.4M606.2 337.6l8.2 -9.4M603.7 335.5l8.2 -9.4M601.2 333.4l8.2 -9.4M598.6 331.3l8.2 -9.4M596.1 329.2l8.2 -9.4M593.6 327l8.2 -9.4M591.1 324.9l8.2 -9.4M588.5 322.8l8.2 -9.4M586 320.7l8.2 -9.4M583.5 318.6l8.2 -9.4M580.9 316.4l8.2 -9.4M578.4 314.3l8.2 -9.4M577.6 310.2l6.5 -7.5M577 305.8l4.5 -5.2M576.5 301.4l2.5 -2.9M575.9 297l0.5 -0.6M597.9 471.6l1.5 1.2M597.3 466.8l4.2 3.5M596.7 462l7 5.9M596.1 457.2l9.8 8.2M597.5 454.1l10.5 8.8M599.7 451.6l10.5 8.8M601.9 449.1l10.5 8.8M604 446.6l10.5 8.8M606.2 444.1l10.5 8.8M608.3 441.7l10.5 8.8M610.5 439.2l10.5 8.8M612.7 436.7l10.5 8.8M614.8 434.2l10.5 8.8M617 431.7l10.5 8.8M619.2 429.2l10.5 8.8M621.3 426.7l10.5 8.8M623.5 424.2l10.5 8.8M625.6 421.7l10.5 8.8M627.8 419.2l10.5 8.8M630 416.7l10.5 8.8M632.1 414.2l10.5 8.8M634.3 411.7l10.5 8.8M636.4 409.2l10.5 8.8M638.6 406.7l10.5 8.8M640.8 404.3l10.5 8.8M642.9 401.8l10.5 8.8M645.1 399.3l10.5 8.8M647.3 396.8l10.5 8.8M649.4 394.3l10.5 8.8M651.6 391.8l10.5 8.8M653.7 389.3l10.5 8.8M655.9 386.8l10.5 8.8M658.1 384.3l10.5 8.8M660.9 382.4l9.8 8.2M665.9 382.2l7 5.9M670.8 382.1l4.2 3.5M675.7 381.9l1.5 1.2M598.1 473l-0.5 0.6M597.5 468.6l-2.5 2.9M597 464.2l-4.5 5.2M596.4 459.8l-6.5 7.5M595.6 455.7l-8.2 9.4M593.1 453.6l-8.2 9.4M590.5 451.4l-8.2 9.4M588 449.3l-8.2 9.4M585.5 447.2l-8.2 9.4M582.9 445.1l-8.2 9.4M580.4 443l-8.2 9.4M577.9 440.8l-8.2 9.4M575.4 438.7l-8.2 9.4M572.8 436.6l-8.2 9.4M570.3 434.5l-8.2 9.4M567.8 432.4l-8.2 9.4M565.2 430.2l-8.2 9.4M562.7 428.1l-8.2 9.4M560.2 426l-8.2 9.4M557.7 423.9l-8.2 9.4M555.1 421.8l-8.2 9.4M552.6 419.6l-8.2 9.4M550.1 417.5l-8.2 9.4M547.5 415.4l-8.2 9.4M545 413.3l-8.2 9.4M542.5 411.2l-8.2 9.4M540 409l-8.2 9.4M537.4 406.9l-8.2 9.4M534.9 404.8l-8.2 9.4M532.4 402.7l-8.2 9.4M529.8 400.6l-8.2 9.4M527.3 398.4l-8.2 9.4M524.8 396.3l-8.2 9.4M522.3 394.2l-8.2 9.4M519.7 392.1l-8.2 9.4M517.2 390l-8.2 9.4M514.7 387.8l-8.2 9.4M510.4 387.7l-6.5 7.5M505.9 387.8l-4.5 5.2M501.4 388l-2.5 2.9M496.9 388.2l-0.5 0.6M527.9 387.1l-2.3 -1.9M532.8 386.9l-5.1 -4.3M537.7 386.7l-7.8 -6.6M540.9 385.1l-8.8 -7.4M543 382.6l-8.8 -7.4M545.2 380.1l-8.8 -7.4M547.3 377.6l-8.8 -7.4M549.5 375.1l-8.8 -7.4M551.7 372.6l-8.8 -7.4M553.8 370.1l-8.8 -7.4M556 367.6l-8.8 -7.4M558.2 365.1l-8.8 -7.4M560.3 362.6l-8.8 -7.4M562.5 360.1l-8.8 -7.4M564.6 357.6l-8.8 -7.4M566.8 355.1l-8.8 -7.4M569 352.6l-8.8 -7.4M571.1 350.2l-8.8 -7.4M573.3 347.7l-8.8 -7.4M575.4 345.2l-8.8 -7.4M577.6 342.7l-8.8 -7.4M579.8 340.2l-8.8 -7.4M580.9 336.9l-7.8 -6.6M580.3 332l-5.1 -4.3M579.7 327.2l-2.3 -1.9M650.1 382.8l0.1 -0.1M645.6 382.9l2.1 -2.4M641 383.1l4 -4.7M636.5 383.3l6 -6.9M633.1 382.2l6.9 -8M630.6 380l6.9 -8M628.1 377.9l6.9 -8M625.6 375.8l6.9 -8M623 373.7l6.9 -8M620.5 371.6l6.9 -8M618 369.4l6.9 -8M615.4 367.3l6.9 -8M612.9 365.2l6.9 -8M610.4 363.1l6.9 -8M607.9 361l6.9 -8M605.3 358.8l6.9 -8M602.8 356.7l6.9 -8M600.3 354.6l6.9 -8M597.7 352.5l6.9 -8M595.2 350.4l6.9 -8M592.7 348.2l6.9 -8M590.1 346.1l6.9 -8M587.6 344l6.9 -8M585.1 341.9l6.9 -8M582.6 339.7l6.9 -8M580.9 336.6l6 -6.9M580.4 332.2l4 -4.7M579.8 327.8l2.1 -2.4M579.3 323.4l0.1 -0.1M594.3 442.8l2.3 1.9M593.7 438l5.1 4.3M593.1 433.1l7.8 6.6M594.2 429.8l8.8 7.4M596.4 427.3l8.8 7.4M598.6 424.8l8.8 7.4M600.7 422.3l8.8 7.4M602.9 419.8l8.8 7.4M605 417.4l8.8 7.4M607.2 414.9l8.8 7.4M609.4 412.4l8.8 7.4M611.5 409.9l8.8 7.4M613.7 407.4l8.8 7.4M615.8 404.9l8.8 7.4M618 402.4l8.8 7.4M620.2 399.9l8.8 7.4M622.3 397.4l8.8 7.4M624.5 394.9l8.8 7.4M626.7 392.4l8.8 7.4M628.8 389.9l8.8 7.4M631 387.4l8.8 7.4M633.1 384.9l8.8 7.4M636.3 383.3l7.8 6.6M641.2 383.1l5.1 4.3M646.1 382.9l2.3 1.9M594.7 446.6l-0.1 0.1M594.2 442.2l-2.1 2.4M593.6 437.8l-4 4.7M593.1 433.4l-6 6.9M591.4 430.3l-6.9 8M588.9 428.1l-6.9 8M586.4 426l-6.9 8M583.9 423.9l-6.9 8M581.3 421.8l-6.9 8M578.8 419.6l-6.9 8M576.3 417.5l-6.9 8M573.7 415.4l-6.9 8M571.2 413.3l-6.9 8M568.7 411.2l-6.9 8M566.1 409l-6.9 8M563.6 406.9l-6.9 8M561.1 404.8l-6.9 8M558.6 402.7l-6.9 8M556 400.6l-6.9 8M553.5 398.4l-6.9 8M551 396.3l-6.9 8M548.4 394.2l-6.9 8M545.9 392.1l-6.9 8M543.4 390l-6.9 8M540.9 387.8l-6.9 8M537.5 386.7l-6 6.9M533 386.9l-4 4.7M528.4 387.1l-2.1 2.4M523.9 387.2l-0.1 0.1M552.5 386.2l-2.5 -2.1M557.4 386l-5.3 -4.4M562.4 385.9l-8.1 -6.8M567 385.5l-10.6 -8.9M569.2 383l-10.6 -8.9M571.3 380.5l-10.6 -8.9M573.5 378l-10.6 -8.9M575.7 375.5l-10.6 -8.9M577.8 373l-10.6 -8.9M580 370.5l-10.6 -8.9M582.2 368l-10.6 -8.9M584.3 365.5l-10.6 -8.9M584 360.9l-8.1 -6.8M583.4 356.1l-5.3 -4.4M582.8 351.3l-2.5 -2.1M623 383.7l1.3 -1.5M618.5 383.9l3.3 -3.8M614 384.1l5.2 -6.1M609.5 384.2l7.2 -8.3M606 383.3l8.2 -9.5M603.4 381.2l8.2 -9.5M600.9 379l8.2 -9.5M598.4 376.9l8.2 -9.5M595.9 374.8l8.2 -9.5M593.3 372.7l8.2 -9.5M590.8 370.6l8.2 -9.5M588.3 368.4l8.2 -9.5M585.7 366.3l8.2 -9.5M584.2 363l7.2 -8.3M583.7 358.6l5.2 -6.1M583.1 354.2l3.3 -3.8M582.6 349.8l1.3 -1.5M591.2 418.7l2.5 2.1M590.6 413.9l5.3 4.4M590 409.1l8.1 6.8M589.7 404.5l10.6 8.9M591.8 402l10.6 8.9M594 399.5l10.6 8.9M596.2 397l10.6 8.9M598.3 394.5l10.6 8.9M600.5 392l10.6 8.9M602.7 389.5l10.6 8.9M604.8 387l10.6 8.9M607 384.5l10.6 8.9M611.6 384.1l8.1 6.8M616.6 384l5.3 4.4M621.5 383.8l2.5 2.1M591.4 420.2l-1.3 1.5M590.9 415.8l-3.3 3.8M590.3 411.4l-5.2 6.1M589.8 407l-7.2 8.3M588.3 403.7l-8.2 9.5M585.7 401.6l-8.2 9.5M583.2 399.4l-8.2 9.5M580.7 397.3l-8.2 9.5M578.1 395.2l-8.2 9.5M575.6 393.1l-8.2 9.5M573.1 391l-8.2 9.5M570.6 388.8l-8.2 9.5M568 386.7l-8.2 9.5M564.5 385.8l-7.2 8.3M560 385.9l-5.2 6.1M555.5 386.1l-3.3 3.8M551 386.3l-1.3 1.5M577.1 385.3l-0.9 -0.8M582.1 385.2l-3.7 -3.1M587 385l-6.4 -5.4M586.4 380.2l-3.7 -3.1M585.8 375.4l-0.9 -0.8M596 384.7l1.1 -1.2M591.5 384.8l3 -3.5M587 385l5 -5.8M586.4 380.6l3 -3.5M585.9 376.2l1.1 -1.2M588.2 394.6l0.9 0.8M587.6 389.8l3.7 3.1M587 385l6.4 5.4M591.9 384.8l3.7 3.1M596.9 384.7l0.9 0.8M588.1 393.8l-1.1 1.2M587.6 389.4l-3 3.5M587 385l-5 5.8M582.5 385.2l-3 3.5M578 385.3l-1.1 1.2" stroke="#000" stroke-width="1.1" fill="none"/><path d="M566 218L758 379L608 552L416 391ZM568 234L741.6 379.6L606 536L432.4 390.4ZM568.9 240.7L734.7 379.8L605.1 529.3L439.3 390.2ZM571.2 259.8L715.2 380.5L602.8 510.2L458.8 389.5ZM572.1 266.6L708.2 380.7L601.9 503.4L465.8 389.3ZM574.8 287.8L686.5 381.5L599.2 482.2L487.5 388.5ZM575.8 295.8L678.3 381.8L598.2 474.2L495.7 388.2ZM578.1 314L659.7 382.4L595.9 456L514.3 387.6ZM579.2 323.2L650.3 382.8L594.8 446.8L523.7 387.2ZM581.2 338.6L634.5 383.3L592.8 431.4L539.5 386.7ZM582.2 346.9L626 383.6L591.8 423.1L548 386.4ZM584.5 365.3L607.2 384.3L589.5 404.7L566.8 385.7ZM585.6 373.8L598.5 384.6L588.4 396.2L575.5 385.4Z" stroke="#000" stroke-width="1.8" fill="none"/><path d="M566 218L587 385M758 379L587 385M608 552L587 385M416 391L587 385" stroke="#000" stroke-width="0.9" fill="none"/></g>
<g><path d="M242.5 595.9l-1.4 -1.1M247.4 595.7l-4.2 -3.4M252.4 595.5l-7 -5.8M256.1 594.3l-8.6 -7.1M258.3 591.8l-8.6 -7.1M260.4 589.3l-8.6 -7.1M262.6 586.8l-8.6 -7.1M264.7 584.3l-8.6 -7.1M266.9 581.8l-8.6 -7.1M269 579.3l-8.6 -7.1M271.1 576.8l-8.6 -7.1M273.3 574.3l-8.6 -7.1M275.4 571.7l-8.6 -7.1M277.6 569.2l-8.6 -7.1M279.7 566.7l-8.6 -7.1M281.9 564.2l-8.6 -7.1M284 561.7l-8.6 -7.1M286.2 559.2l-8.6 -7.1M288.3 556.7l-8.6 -7.1M290.5 554.2l-8.6 -7.1M292.6 551.7l-8.6 -7.1M294.7 549.2l-8.6 -7.1M296.9 546.7l-8.6 -7.1M299 544.2l-8.6 -7.1M301.2 541.7l-8.6 -7.1M303.3 539.1l-8.6 -7.1M305.5 536.6l-8.6 -7.1M307.6 534.1l-8.6 -7.1M309.8 531.6l-8.6 -7.1M311.9 529.1l-8.6 -7.1M314.1 526.6l-8.6 -7.1M316.2 524.1l-8.6 -7.1M318.3 521.6l-8.6 -7.1M320.5 519.1l-8.6 -7.1M322.6 516.6l-8.6 -7.1M324.8 514.1l-8.6 -7.1M326.9 511.6l-8.6 -7.1M329.1 509.1l-8.6 -7.1M331.2 506.5l-8.6 -7.1M333.4 504l-8.6 -7.1M335.5 501.5l-8.6 -7.1M337.6 499l-8.6 -7.1M339.8 496.5l-8.6 -7.1M341.9 494l-8.6 -7.1M344.1 491.5l-8.6 -7.1M346.2 489l-8.6 -7.1M348.4 486.5l-8.6 -7.1M350.5 484l-8.6 -7.1M352.7 481.5l-8.6 -7.1M354.8 479l-8.6 -7.1M357 476.5l-8.6 -7.1M359.1 473.9l-8.6 -7.1M361.2 471.4l-8.6 -7.1M363.4 468.9l-8.6 -7.1M365.5 466.4l-8.6 -7.1M367.7 463.9l-8.6 -7.1M369.8 461.4l-8.6 -7.1M372 458.9l-8.6 -7.1M374.1 456.4l-8.6 -7.1M376.3 453.9l-8.6 -7.1M378.4 451.4l-8.6 -7.1M380.6 448.9l-8.6 -7.1M382.7 446.4l-8.6 -7.1M384.8 443.9l-8.6 -7.1M387 441.3l-8.6 -7.1M389.1 438.8l-8.6 -7.1M389.7 435l-7 -5.8M389 430.2l-4.2 -3.4M388.3 425.4l-1.4 -1.1M582 582l0 0M577.5 582.2l2 -2.3M573 582.4l3.9 -4.6M568.5 582.6l5.9 -6.8M565.2 581.3l6.6 -7.7M562.6 579.2l6.6 -7.7M560.1 577.1l6.6 -7.7M557.5 575l6.6 -7.7M555 573l6.6 -7.7M552.4 570.9l6.6 -7.7M549.9 568.8l6.6 -7.7M547.3 566.7l6.6 -7.7M544.8 564.6l6.6 -7.7M542.2 562.5l6.6 -7.7M539.7 560.4l6.6 -7.7M537.1 558.3l6.6 -7.7M534.6 556.2l6.6 -7.7M532 554.1l6.6 -7.7M529.5 552l6.6 -7.7M526.9 549.9l6.6 -7.7M524.4 547.9l6.6 -7.7M521.8 545.8l6.6 -7.7M519.3 543.7l6.6 -7.7M516.7 541.6l6.6 -7.7M514.1 539.5l6.6 -7.7M511.6 537.4l6.6 -7.7M509 535.3l6.6 -7.7M506.5 533.2l6.6 -7.7M503.9 531.1l6.6 -7.7M501.4 529l6.6 -7.7M498.8 526.9l6.6 -7.7M496.3 524.8l6.6 -7.7M493.7 522.7l6.6 -7.7M491.2 520.7l6.6 -7.7M488.6 518.6l6.6 -7.7M486.1 516.5l6.6 -7.7M483.5 514.4l6.6 -7.7M481 512.3l6.6 -7.7M478.4 510.2l6.6 -7.7M475.9 508.1l6.6 -7.7M473.3 506l6.6 -7.7M470.8 503.9l6.6 -7.7M468.2 501.8l6.6 -7.7M465.7 499.7l6.6 -7.7M463.1 497.6l6.6 -7.7M460.5 495.6l6.6 -7.7M458 493.5l6.6 -7.7M455.4 491.4l6.6 -7.7M452.9 489.3l6.6 -7.7M450.3 487.2l6.6 -7.7M447.8 485.1l6.6 -7.7M445.2 483l6.6 -7.7M442.7 480.9l6.6 -7.7M440.1 478.8l6.6 -7.7M437.6 476.7l6.6 -7.7M435 474.6l6.6 -7.7M432.5 472.5l6.6 -7.7M429.9 470.5l6.6 -7.7M427.4 468.4l6.6 -7.7M424.8 466.3l6.6 -7.7M422.3 464.2l6.6 -7.7M419.7 462.1l6.6 -7.7M417.2 460l6.6 -7.7M414.6 457.9l6.6 -7.7M412.1 455.8l6.6 -7.7M409.5 453.7l6.6 -7.7M406.9 451.6l6.6 -7.7M404.4 449.5l6.6 -7.7M401.8 447.4l6.6 -7.7M399.3 445.4l6.6 -7.7M396.7 443.3l6.6 -7.7M394.2 441.2l6.6 -7.7M391.6 439.1l6.6 -7.7M389.8 436.1l5.9 -6.8M389.2 431.8l3.9 -4.6M388.6 427.4l2 -2.3M388 423l0 0M433.7 752.6l1.4 1.1M433 747.8l4.2 3.4M432.3 743l7 5.8M432.9 739.2l8.6 7.1M435 736.7l8.6 7.1M437.2 734.1l8.6 7.1M439.3 731.6l8.6 7.1M441.4 729.1l8.6 7.1M443.6 726.6l8.6 7.1M445.7 724.1l8.6 7.1M447.9 721.6l8.6 7.1M450 719.1l8.6 7.1M452.2 716.6l8.6 7.1M454.3 714.1l8.6 7.1M456.5 711.6l8.6 7.1M458.6 709.1l8.6 7.1M460.8 706.6l8.6 7.1M462.9 704.1l8.6 7.1M465 701.5l8.6 7.1M467.2 699l8.6 7.1M469.3 696.5l8.6 7.1M471.5 694l8.6 7.1M473.6 691.5l8.6 7.1M475.8 689l8.6 7.1M477.9 686.5l8.6 7.1M480.1 684l8.6 7.1M482.2 681.5l8.6 7.1M484.4 679l8.6 7.1M486.5 676.5l8.6 7.1M488.6 674l8.6 7.1M490.8 671.5l8.6 7.1M492.9 668.9l8.6 7.1M495.1 666.4l8.6 7.1M497.2 663.9l8.6 7.1M499.4 661.4l8.6 7.1M501.5 658.9l8.6 7.1M503.7 656.4l8.6 7.1M505.8 653.9l8.6 7.1M507.9 651.4l8.6 7.1M510.1 648.9l8.6 7.1M512.2 646.4l8.6 7.1M514.4 643.9l8.6 7.1M516.5 641.4l8.6 7.1M518.7 638.9l8.6 7.1M520.8 636.3l8.6 7.1M523 633.8l8.6 7.1M525.1 631.3l8.6 7.1M527.3 628.8l8.6 7.1M529.4 626.3l8.6 7.1M531.5 623.8l8.6 7.1M533.7 621.3l8.6 7.1M535.8 618.8l8.6 7.1M538 616.3l8.6 7.1M540.1 613.8l8.6 7.1M542.3 611.3l8.6 7.1M544.4 608.8l8.6 7.1M546.6 606.3l8.6 7.1M548.7 603.7l8.6 7.1M550.9 601.2l8.6 7.1M553 598.7l8.6 7.1M555.1 596.2l8.6 7.1M557.3 593.7l8.6 7.1M559.4 591.2l8.6 7.1M561.6 588.7l8.6 7.1M563.7 586.2l8.6 7.1M565.9 583.7l8.6 7.1M569.6 582.5l7 5.8M574.6 582.3l4.2 3.4M579.5 582.1l1.4 1.1M434 755l0 0M433.4 750.6l-2 2.3M432.8 746.2l-3.9 4.6M432.2 741.9l-5.9 6.8M430.4 738.9l-6.6 7.7M427.8 736.8l-6.6 7.7M425.3 734.7l-6.6 7.7M422.7 732.6l-6.6 7.7M420.2 730.6l-6.6 7.7M417.6 728.5l-6.6 7.7M415.1 726.4l-6.6 7.7M412.5 724.3l-6.6 7.7M409.9 722.2l-6.6 7.7M407.4 720.1l-6.6 7.7M404.8 718l-6.6 7.7M402.3 715.9l-6.6 7.7M399.7 713.8l-6.6 7.7M397.2 711.7l-6.6 7.7M394.6 709.6l-6.6 7.7M392.1 707.5l-6.6 7.7M389.5 705.5l-6.6 7.7M387 703.4l-6.6 7.7M384.4 701.3l-6.6 7.7M381.9 699.2l-6.6 7.7M379.3 697.1l-6.6 7.7M376.8 695l-6.6 7.7M374.2 692.9l-6.6 7.7M371.7 690.8l-6.6 7.7M369.1 688.7l-6.6 7.7M366.6 686.6l-6.6 7.7M364 684.5l-6.6 7.7M361.5 682.4l-6.6 7.7M358.9 680.4l-6.6 7.7M356.3 678.3l-6.6 7.7M353.8 676.2l-6.6 7.7M351.2 674.1l-6.6 7.7M348.7 672l-6.6 7.7M346.1 669.9l-6.6 7.7M343.6 667.8l-6.6 7.7M341 665.7l-6.6 7.7M338.5 663.6l-6.6 7.7M335.9 661.5l-6.6 7.7M333.4 659.4l-6.6 7.7M330.8 657.3l-6.6 7.7M328.3 655.3l-6.6 7.7M325.7 653.2l-6.6 7.7M323.2 651.1l-6.6 7.7M320.6 649l-6.6 7.7M318.1 646.9l-6.6 7.7M315.5 644.8l-6.6 7.7M313 642.7l-6.6 7.7M310.4 640.6l-6.6 7.7M307.9 638.5l-6.6 7.7M305.3 636.4l-6.6 7.7M302.7 634.3l-6.6 7.7M300.2 632.2l-6.6 7.7M297.6 630.1l-6.6 7.7M295.1 628.1l-6.6 7.7M292.5 626l-6.6 7.7M290 623.9l-6.6 7.7M287.4 621.8l-6.6 7.7M284.9 619.7l-6.6 7.7M282.3 617.6l-6.6 7.7M279.8 615.5l-6.6 7.7M277.2 613.4l-6.6 7.7M274.7 611.3l-6.6 7.7M272.1 609.2l-6.6 7.7M269.6 607.1l-6.6 7.7M267 605l-6.6 7.7M264.5 603l-6.6 7.7M261.9 600.9l-6.6 7.7M259.4 598.8l-6.6 7.7M256.8 596.7l-6.6 7.7M253.5 595.4l-5.9 6.8M249 595.6l-3.9 4.6M244.5 595.8l-2 2.3M240 596l0 0M257.3 595.3l-2.4 -1.9M262.3 595.1l-5.2 -4.2M267.2 594.9l-8 -6.5M270 592.9l-8.6 -7.1M272.2 590.4l-8.6 -7.1M274.3 587.9l-8.6 -7.1M276.5 585.4l-8.6 -7.1M278.6 582.9l-8.6 -7.1M280.8 580.4l-8.6 -7.1M282.9 577.9l-8.6 -7.1M285.1 575.4l-8.6 -7.1M287.2 572.8l-8.6 -7.1M289.3 570.3l-8.6 -7.1M291.5 567.8l-8.6 -7.1M293.6 565.3l-8.6 -7.1M295.8 562.8l-8.6 -7.1M297.9 560.3l-8.6 -7.1M300.1 557.8l-8.6 -7.1M302.2 555.3l-8.6 -7.1M304.4 552.8l-8.6 -7.1M306.5 550.3l-8.6 -7.1M308.6 547.8l-8.6 -7.1M310.8 545.3l-8.6 -7.1M312.9 542.8l-8.6 -7.1M315.1 540.3l-8.6 -7.1M317.2 537.7l-8.6 -7.1M319.4 535.2l-8.6 -7.1M321.5 532.7l-8.6 -7.1M323.7 530.2l-8.6 -7.1M325.8 527.7l-8.6 -7.1M328 525.2l-8.6 -7.1M330.1 522.7l-8.6 -7.1M332.2 520.2l-8.6 -7.1M334.4 517.7l-8.6 -7.1M336.5 515.2l-8.6 -7.1M338.7 512.7l-8.6 -7.1M340.8 510.2l-8.6 -7.1M343 507.7l-8.6 -7.1M345.1 505.1l-8.6 -7.1M347.3 502.6l-8.6 -7.1M349.4 500.1l-8.6 -7.1M351.6 497.6l-8.6 -7.1M353.7 495.1l-8.6 -7.1M355.8 492.6l-8.6 -7.1M358 490.1l-8.6 -7.1M360.1 487.6l-8.6 -7.1M362.3 485.1l-8.6 -7.1M364.4 482.6l-8.6 -7.1M366.6 480.1l-8.6 -7.1M368.7 477.6l-8.6 -7.1M370.9 475.1l-8.6 -7.1M373 472.5l-8.6 -7.1M375.2 470l-8.6 -7.1M377.3 467.5l-8.6 -7.1M379.4 465l-8.6 -7.1M381.6 462.5l-8.6 -7.1M383.7 460l-8.6 -7.1M385.9 457.5l-8.6 -7.1M388 455l-8.6 -7.1M390.2 452.5l-8.6 -7.1M391.7 449.4l-8 -6.5M391 444.6l-5.2 -4.2M390.3 439.8l-2.4 -1.9M568.5 582.6l0.2 -0.2M564 582.7l2.1 -2.5M559.5 582.9l4 -4.7M555 583.1l6 -7M551.8 581.7l6.6 -7.7M549.3 579.6l6.6 -7.7M546.7 577.5l6.6 -7.7M544.2 575.4l6.6 -7.7M541.6 573.3l6.6 -7.7M539.1 571.2l6.6 -7.7M536.5 569.2l6.6 -7.7M534 567.1l6.6 -7.7M531.4 565l6.6 -7.7M528.9 562.9l6.6 -7.7M526.3 560.8l6.6 -7.7M523.8 558.7l6.6 -7.7M521.2 556.6l6.6 -7.7M518.7 554.5l6.6 -7.7M516.1 552.4l6.6 -7.7M513.6 550.3l6.6 -7.7M511 548.2l6.6 -7.7M508.4 546.1l6.6 -7.7M505.9 544.1l6.6 -7.7M503.3 542l6.6 -7.7M500.8 539.9l6.6 -7.7M498.2 537.8l6.6 -7.7M495.7 535.7l6.6 -7.7M493.1 533.6l6.6 -7.7M490.6 531.5l6.6 -7.7M488 529.4l6.6 -7.7M485.5 527.3l6.6 -7.7M482.9 525.2l6.6 -7.7M480.4 523.1l6.6 -7.7M477.8 521l6.6 -7.7M475.3 519l6.6 -7.7M472.7 516.9l6.6 -7.7M470.2 514.8l6.6 -7.7M467.6 512.7l6.6 -7.7M465.1 510.6l6.6 -7.7M462.5 508.5l6.6 -7.7M460 506.4l6.6 -7.7M457.4 504.3l6.6 -7.7M454.8 502.2l6.6 -7.7M452.3 500.1l6.6 -7.7M449.7 498l6.6 -7.7M447.2 495.9l6.6 -7.7M444.6 493.8l6.6 -7.7M442.1 491.8l6.6 -7.7M439.5 489.7l6.6 -7.7M437 487.6l6.6 -7.7M434.4 485.5l6.6 -7.7M431.9 483.4l6.6 -7.7M429.3 481.3l6.6 -7.7M426.8 479.2l6.6 -7.7M424.2 477.1l6.6 -7.7M421.7 475l6.6 -7.7M419.1 472.9l6.6 -7.7M416.6 470.8l6.6 -7.7M414 468.7l6.6 -7.7M411.5 466.7l6.6 -7.7M408.9 464.6l6.6 -7.7M406.4 462.5l6.6 -7.7M403.8 460.4l6.6 -7.7M401.3 458.3l6.6 -7.7M398.7 456.2l6.6 -7.7M396.1 454.1l6.6 -7.7M393.6 452l6.6 -7.7M391.6 449.2l6 -7M391 444.9l4 -4.7M390.4 440.5l2.1 -2.5M389.8 436.1l0.2 -0.2M431.7 738.2l2.4 1.9M431 733.4l5.2 4.2M430.3 728.6l8 6.5M431.8 725.5l8.6 7.1M434 723l8.6 7.1M436.1 720.5l8.6 7.1M438.3 718l8.6 7.1M440.4 715.5l8.6 7.1M442.6 713l8.6 7.1M444.7 710.5l8.6 7.1M446.8 708l8.6 7.1M449 705.5l8.6 7.1M451.1 702.9l8.6 7.1M453.3 700.4l8.6 7.1M455.4 697.9l8.6 7.1M457.6 695.4l8.6 7.1M459.7 692.9l8.6 7.1M461.9 690.4l8.6 7.1M464 687.9l8.6 7.1M466.2 685.4l8.6 7.1M468.3 682.9l8.6 7.1M470.4 680.4l8.6 7.1M472.6 677.9l8.6 7.1M474.7 675.4l8.6 7.1M476.9 672.9l8.6 7.1M479 670.3l8.6 7.1M481.2 667.8l8.6 7.1M483.3 665.3l8.6 7.1M485.5 662.8l8.6 7.1M487.6 660.3l8.6 7.1M489.8 657.8l8.6 7.1M491.9 655.3l8.6 7.1M494 652.8l8.6 7.1M496.2 650.3l8.6 7.1M498.3 647.8l8.6 7.1M500.5 645.3l8.6 7.1M502.6 642.8l8.6 7.1M504.8 640.3l8.6 7.1M506.9 637.7l8.6 7.1M509.1 635.2l8.6 7.1M511.2 632.7l8.6 7.1M513.4 630.2l8.6 7.1M515.5 627.7l8.6 7.1M517.6 625.2l8.6 7.1M519.8 622.7l8.6 7.1M521.9 620.2l8.6 7.1M524.1 617.7l8.6 7.1M526.2 615.2l8.6 7.1M528.4 612.7l8.6 7.1M530.5 610.2l8.6 7.1M532.7 607.7l8.6 7.1M534.8 605.2l8.6 7.1M536.9 602.6l8.6 7.1M539.1 600.1l8.6 7.1M541.2 597.6l8.6 7.1M543.4 595.1l8.6 7.1M545.5 592.6l8.6 7.1M547.7 590.1l8.6 7.1M549.8 587.6l8.6 7.1M552 585.1l8.6 7.1M554.8 583.1l8 6.5M559.7 582.9l5.2 4.2M564.7 582.7l2.4 1.9M432.2 741.9l-0.2 0.2M431.6 737.5l-2.1 2.5M431 733.1l-4 4.7M430.4 728.8l-6 7M428.4 726l-6.6 7.7M425.9 723.9l-6.6 7.7M423.3 721.8l-6.6 7.7M420.7 719.7l-6.6 7.7M418.2 717.6l-6.6 7.7M415.6 715.5l-6.6 7.7M413.1 713.4l-6.6 7.7M410.5 711.3l-6.6 7.7M408 709.3l-6.6 7.7M405.4 707.2l-6.6 7.7M402.9 705.1l-6.6 7.7M400.3 703l-6.6 7.7M397.8 700.9l-6.6 7.7M395.2 698.8l-6.6 7.7M392.7 696.7l-6.6 7.7M390.1 694.6l-6.6 7.7M387.6 692.5l-6.6 7.7M385 690.4l-6.6 7.7M382.5 688.3l-6.6 7.7M379.9 686.2l-6.6 7.7M377.4 684.2l-6.6 7.7M374.8 682.1l-6.6 7.7M372.3 680l-6.6 7.7M369.7 677.9l-6.6 7.7M367.2 675.8l-6.6 7.7M364.6 673.7l-6.6 7.7M362 671.6l-6.6 7.7M359.5 669.5l-6.6 7.7M356.9 667.4l-6.6 7.7M354.4 665.3l-6.6 7.7M351.8 663.2l-6.6 7.7M349.3 661.1l-6.6 7.7M346.7 659l-6.6 7.7M344.2 657l-6.6 7.7M341.6 654.9l-6.6 7.7M339.1 652.8l-6.6 7.7M336.5 650.7l-6.6 7.7M334 648.6l-6.6 7.7M331.4 646.5l-6.6 7.7M328.9 644.4l-6.6 7.7M326.3 642.3l-6.6 7.7M323.8 640.2l-6.6 7.7M321.2 638.1l-6.6 7.7M318.7 636l-6.6 7.7M316.1 633.9l-6.6 7.7M313.6 631.9l-6.6 7.7M311 629.8l-6.6 7.7M308.4 627.7l-6.6 7.7M305.9 625.6l-6.6 7.7M303.3 623.5l-6.6 7.7M300.8 621.4l-6.6 7.7M298.2 619.3l-6.6 7.7M295.7 617.2l-6.6 7.7M293.1 615.1l-6.6 7.7M290.6 613l-6.6 7.7M288 610.9l-6.6 7.7M285.5 608.8l-6.6 7.7M282.9 606.8l-6.6 7.7M280.4 604.7l-6.6 7.7M277.8 602.6l-6.6 7.7M275.3 600.5l-6.6 7.7M272.7 598.4l-6.6 7.7M270.2 596.3l-6.6 7.7M267 594.9l-6 7M262.5 595.1l-4 4.7M258 595.3l-2.1 2.5M253.5 595.4l-0.2 0.2M277.2 594.5l-0.1 -0.1M282.1 594.3l-2.9 -2.4M287.1 594.1l-5.7 -4.7M292 593.9l-8.6 -7M295.9 592.8l-10.3 -8.4M298 590.3l-10.3 -8.4M300.2 587.8l-10.3 -8.4M302.3 585.3l-10.3 -8.4M304.5 582.7l-10.3 -8.4M306.6 580.2l-10.3 -8.4M308.8 577.7l-10.3 -8.4M310.9 575.2l-10.3 -8.4M313.1 572.7l-10.3 -8.4M315.2 570.2l-10.3 -8.4M317.3 567.7l-10.3 -8.4M319.5 565.2l-10.3 -8.4M321.6 562.7l-10.3 -8.4M323.8 560.2l-10.3 -8.4M325.9 557.7l-10.3 -8.4M328.1 555.2l-10.3 -8.4M330.2 552.7l-10.3 -8.4M332.4 550.1l-10.3 -8.4M334.5 547.6l-10.3 -8.4M336.7 545.1l-10.3 -8.4M338.8 542.6l-10.3 -8.4M340.9 540.1l-10.3 -8.4M343.1 537.6l-10.3 -8.4M345.2 535.1l-10.3 -8.4M347.4 532.6l-10.3 -8.4M349.5 530.1l-10.3 -8.4M351.7 527.6l-10.3 -8.4M353.8 525.1l-10.3 -8.4M356 522.6l-10.3 -8.4M358.1 520.1l-10.3 -8.4M360.3 517.5l-10.3 -8.4M362.4 515l-10.3 -8.4M364.5 512.5l-10.3 -8.4M366.7 510l-10.3 -8.4M368.8 507.5l-10.3 -8.4M371 505l-10.3 -8.4M373.1 502.5l-10.3 -8.4M375.3 500l-10.3 -8.4M377.4 497.5l-10.3 -8.4M379.6 495l-10.3 -8.4M381.7 492.5l-10.3 -8.4M383.8 490l-10.3 -8.4M386 487.5l-10.3 -8.4M388.1 484.9l-10.3 -8.4M390.3 482.4l-10.3 -8.4M392.4 479.9l-10.3 -8.4M394.6 477.4l-10.3 -8.4M395 473.5l-8.6 -7M394.3 468.7l-5.7 -4.7M393.7 463.9l-2.9 -2.4M393 459.1l-0.1 -0.1M541.5 583.7l1.5 -1.8M537 583.8l3.5 -4.1M532.5 584l5.4 -6.4M528 584.2l7.4 -8.6M525 582.6l7.8 -9.2M522.4 580.6l7.8 -9.2M519.9 578.5l7.8 -9.2M517.3 576.4l7.8 -9.2M514.8 574.3l7.8 -9.2M512.2 572.2l7.8 -9.2M509.7 570.1l7.8 -9.2M507.1 568l7.8 -9.2M504.6 565.9l7.8 -9.2M502 563.8l7.8 -9.2M499.5 561.7l7.8 -9.2M496.9 559.6l7.8 -9.2M494.4 557.5l7.8 -9.2M491.8 555.5l7.8 -9.2M489.2 553.4l7.8 -9.2M486.7 551.3l7.8 -9.2M484.1 549.2l7.8 -9.2M481.6 547.1l7.8 -9.2M479 545l7.8 -9.2M476.5 542.9l7.8 -9.2M473.9 540.8l7.8 -9.2M471.4 538.7l7.8 -9.2M468.8 536.6l7.8 -9.2M466.3 534.5l7.8 -9.2M463.7 532.4l7.8 -9.2M461.2 530.4l7.8 -9.2M458.6 528.3l7.8 -9.2M456.1 526.2l7.8 -9.2M453.5 524.1l7.8 -9.2M451 522l7.8 -9.2M448.4 519.9l7.8 -9.2M445.9 517.8l7.8 -9.2M443.3 515.7l7.8 -9.2M440.8 513.6l7.8 -9.2M438.2 511.5l7.8 -9.2M435.6 509.4l7.8 -9.2M433.1 507.3l7.8 -9.2M430.5 505.3l7.8 -9.2M428 503.2l7.8 -9.2M425.4 501.1l7.8 -9.2M422.9 499l7.8 -9.2M420.3 496.9l7.8 -9.2M417.8 494.8l7.8 -9.2M415.2 492.7l7.8 -9.2M412.7 490.6l7.8 -9.2M410.1 488.5l7.8 -9.2M407.6 486.4l7.8 -9.2M405 484.3l7.8 -9.2M402.5 482.2l7.8 -9.2M399.9 480.1l7.8 -9.2M397.4 478.1l7.8 -9.2M395.3 475.4l7.4 -8.6M394.7 471.1l5.4 -6.4M394.1 466.7l3.5 -4.1M393.4 462.3l1.5 -1.8M429 718.9l0.1 0.1M428.3 714.1l2.9 2.4M427.7 709.3l5.7 4.7M427 704.5l8.6 7M427.4 700.6l10.3 8.4M429.6 698.1l10.3 8.4M431.7 695.6l10.3 8.4M433.9 693.1l10.3 8.4M436 690.5l10.3 8.4M438.2 688l10.3 8.4M440.3 685.5l10.3 8.4M442.4 683l10.3 8.4M444.6 680.5l10.3 8.4M446.7 678l10.3 8.4M448.9 675.5l10.3 8.4M451 673l10.3 8.4M453.2 670.5l10.3 8.4M455.3 668l10.3 8.4M457.5 665.5l10.3 8.4M459.6 663l10.3 8.4M461.7 660.5l10.3 8.4M463.9 657.9l10.3 8.4M466 655.4l10.3 8.4M468.2 652.9l10.3 8.4M470.3 650.4l10.3 8.4M472.5 647.9l10.3 8.4M474.6 645.4l10.3 8.4M476.8 642.9l10.3 8.4M478.9 640.4l10.3 8.4M481.1 637.9l10.3 8.4M483.2 635.4l10.3 8.4M485.3 632.9l10.3 8.4M487.5 630.4l10.3 8.4M489.6 627.9l10.3 8.4M491.8 625.3l10.3 8.4M493.9 622.8l10.3 8.4M496.1 620.3l10.3 8.4M498.2 617.8l10.3 8.4M500.4 615.3l10.3 8.4M502.5 612.8l10.3 8.4M504.7 610.3l10.3 8.4M506.8 607.8l10.3 8.4M508.9 605.3l10.3 8.4M511.1 602.8l10.3 8.4M513.2 600.3l10.3 8.4M515.4 597.8l10.3 8.4M517.5 595.3l10.3 8.4M519.7 592.7l10.3 8.4M521.8 590.2l10.3 8.4M524 587.7l10.3 8.4M526.1 585.2l10.3 8.4M530 584.1l8.6 7M534.9 583.9l5.7 4.7M539.9 583.7l2.9 2.4M544.8 583.5l0.1 0.1M428.6 715.7l-1.5 1.8M427.9 711.3l-3.5 4.1M427.3 706.9l-5.4 6.4M426.7 702.6l-7.4 8.6M424.6 699.9l-7.8 9.2M422.1 697.9l-7.8 9.2M419.5 695.8l-7.8 9.2M417 693.7l-7.8 9.2M414.4 691.6l-7.8 9.2M411.9 689.5l-7.8 9.2M409.3 687.4l-7.8 9.2M406.8 685.3l-7.8 9.2M404.2 683.2l-7.8 9.2M401.7 681.1l-7.8 9.2M399.1 679l-7.8 9.2M396.6 676.9l-7.8 9.2M394 674.8l-7.8 9.2M391.5 672.7l-7.8 9.2M388.9 670.7l-7.8 9.2M386.4 668.6l-7.8 9.2M383.8 666.5l-7.8 9.2M381.2 664.4l-7.8 9.2M378.7 662.3l-7.8 9.2M376.1 660.2l-7.8 9.2M373.6 658.1l-7.8 9.2M371 656l-7.8 9.2M368.5 653.9l-7.8 9.2M365.9 651.8l-7.8 9.2M363.4 649.7l-7.8 9.2M360.8 647.6l-7.8 9.2M358.3 645.6l-7.8 9.2M355.7 643.5l-7.8 9.2M353.2 641.4l-7.8 9.2M350.6 639.3l-7.8 9.2M348.1 637.2l-7.8 9.2M345.5 635.1l-7.8 9.2M343 633l-7.8 9.2M340.4 630.9l-7.8 9.2M337.9 628.8l-7.8 9.2M335.3 626.7l-7.8 9.2M332.8 624.6l-7.8 9.2M330.2 622.5l-7.8 9.2M327.6 620.5l-7.8 9.2M325.1 618.4l-7.8 9.2M322.5 616.3l-7.8 9.2M320 614.2l-7.8 9.2M317.4 612.1l-7.8 9.2M314.9 610l-7.8 9.2M312.3 607.9l-7.8 9.2M309.8 605.8l-7.8 9.2M307.2 603.7l-7.8 9.2M304.7 601.6l-7.8 9.2M302.1 599.5l-7.8 9.2M299.6 597.4l-7.8 9.2M297 595.4l-7.8 9.2M294 593.8l-7.4 8.6M289.5 594l-5.4 6.4M285 594.2l-3.5 4.1M280.5 594.3l-1.5 1.8M306.9 593.3l-1.3 -1.1M311.9 593.1l-4.1 -3.4M316.8 592.9l-6.9 -5.7M321.8 592.7l-9.7 -8M325.2 591.2l-11 -9M327.3 588.7l-11 -9M329.4 586.1l-11 -9M331.6 583.6l-11 -9M333.7 581.1l-11 -9M335.9 578.6l-11 -9M338 576.1l-11 -9M340.2 573.6l-11 -9M342.3 571.1l-11 -9M344.5 568.6l-11 -9M346.6 566.1l-11 -9M348.8 563.6l-11 -9M350.9 561.1l-11 -9M353 558.6l-11 -9M355.2 556.1l-11 -9M357.3 553.5l-11 -9M359.5 551l-11 -9M361.6 548.5l-11 -9M363.8 546l-11 -9M365.9 543.5l-11 -9M368.1 541l-11 -9M370.2 538.5l-11 -9M372.4 536l-11 -9M374.5 533.5l-11 -9M376.6 531l-11 -9M378.8 528.5l-11 -9M380.9 526l-11 -9M383.1 523.5l-11 -9M385.2 521l-11 -9M387.4 518.4l-11 -9M389.5 515.9l-11 -9M391.7 513.4l-11 -9M393.8 510.9l-11 -9M396 508.4l-11 -9M398.1 505.9l-11 -9M399 502.4l-9.7 -8M398.3 497.6l-6.9 -5.7M397.7 492.8l-4.1 -3.4M397 487.9l-1.3 -1.1M514.5 584.8l1.2 -1.5M510 584.9l3.2 -3.7M505.5 585.1l5.1 -6M501 585.3l7.1 -8.3M497.2 584.7l8.4 -9.8M494.6 582.6l8.4 -9.8M492.1 580.5l8.4 -9.8M489.5 578.4l8.4 -9.8M487 576.3l8.4 -9.8M484.4 574.3l8.4 -9.8M481.8 572.2l8.4 -9.8M479.3 570.1l8.4 -9.8M476.7 568l8.4 -9.8M474.2 565.9l8.4 -9.8M471.6 563.8l8.4 -9.8M469.1 561.7l8.4 -9.8M466.5 559.6l8.4 -9.8M464 557.5l8.4 -9.8M461.4 555.4l8.4 -9.8M458.9 553.3l8.4 -9.8M456.3 551.2l8.4 -9.8M453.8 549.2l8.4 -9.8M451.2 547.1l8.4 -9.8M448.7 545l8.4 -9.8M446.1 542.9l8.4 -9.8M443.6 540.8l8.4 -9.8M441 538.7l8.4 -9.8M438.5 536.6l8.4 -9.8M435.9 534.5l8.4 -9.8M433.4 532.4l8.4 -9.8M430.8 530.3l8.4 -9.8M428.2 528.2l8.4 -9.8M425.7 526.1l8.4 -9.8M423.1 524.1l8.4 -9.8M420.6 522l8.4 -9.8M418 519.9l8.4 -9.8M415.5 517.8l8.4 -9.8M412.9 515.7l8.4 -9.8M410.4 513.6l8.4 -9.8M407.8 511.5l8.4 -9.8M405.3 509.4l8.4 -9.8M402.7 507.3l8.4 -9.8M400.2 505.2l8.4 -9.8M398.9 501.6l7.1 -8.3M398.3 497.3l5.1 -6M397.7 492.9l3.2 -3.7M397.1 488.5l1.2 -1.5M425 690.1l1.3 1.1M424.3 685.2l4.1 3.4M423.7 680.4l6.9 5.7M423 675.6l9.7 8M423.9 672.1l11 9M426 669.6l11 9M428.2 667.1l11 9M430.3 664.6l11 9M432.5 662.1l11 9M434.6 659.6l11 9M436.8 657l11 9M438.9 654.5l11 9M441.1 652l11 9M443.2 649.5l11 9M445.4 647l11 9M447.5 644.5l11 9M449.6 642l11 9M451.8 639.5l11 9M453.9 637l11 9M456.1 634.5l11 9M458.2 632l11 9M460.4 629.5l11 9M462.5 627l11 9M464.7 624.5l11 9M466.8 621.9l11 9M469 619.4l11 9M471.1 616.9l11 9M473.2 614.4l11 9M475.4 611.9l11 9M477.5 609.4l11 9M479.7 606.9l11 9M481.8 604.4l11 9M484 601.9l11 9M486.1 599.4l11 9M488.3 596.9l11 9M490.4 594.4l11 9M492.6 591.9l11 9M494.7 589.3l11 9M496.8 586.8l11 9M500.2 585.3l9.7 8M505.2 585.1l6.9 5.7M510.1 584.9l4.1 3.4M515.1 584.7l1.3 1.1M424.9 689.5l-1.2 1.5M424.3 685.1l-3.2 3.7M423.7 680.7l-5.1 6M423.1 676.4l-7.1 8.3M421.8 672.8l-8.4 9.8M419.3 670.7l-8.4 9.8M416.7 668.6l-8.4 9.8M414.2 666.5l-8.4 9.8M411.6 664.4l-8.4 9.8M409.1 662.3l-8.4 9.8M406.5 660.2l-8.4 9.8M404 658.1l-8.4 9.8M401.4 656l-8.4 9.8M398.9 653.9l-8.4 9.8M396.3 651.9l-8.4 9.8M393.8 649.8l-8.4 9.8M391.2 647.7l-8.4 9.8M388.6 645.6l-8.4 9.8M386.1 643.5l-8.4 9.8M383.5 641.4l-8.4 9.8M381 639.3l-8.4 9.8M378.4 637.2l-8.4 9.8M375.9 635.1l-8.4 9.8M373.3 633l-8.4 9.8M370.8 630.9l-8.4 9.8M368.2 628.8l-8.4 9.8M365.7 626.8l-8.4 9.8M363.1 624.7l-8.4 9.8M360.6 622.6l-8.4 9.8M358 620.5l-8.4 9.8M355.5 618.4l-8.4 9.8M352.9 616.3l-8.4 9.8M350.4 614.2l-8.4 9.8M347.8 612.1l-8.4 9.8M345.3 610l-8.4 9.8M342.7 607.9l-8.4 9.8M340.2 605.8l-8.4 9.8M337.6 603.7l-8.4 9.8M335 601.7l-8.4 9.8M332.5 599.6l-8.4 9.8M329.9 597.5l-8.4 9.8M327.4 595.4l-8.4 9.8M324.8 593.3l-8.4 9.8M321 592.7l-7.1 8.3M316.5 592.9l-5.1 6M312 593.1l-3.2 3.7M307.5 593.2l-1.2 1.5M336.6 592l-2.1 -1.7M341.6 591.8l-4.9 -4M346.6 591.6l-7.7 -6.3M351.5 591.4l-10.5 -8.6M354.2 589.4l-11.1 -9.1M356.4 586.9l-11.1 -9.1M358.5 584.4l-11.1 -9.1M360.7 581.9l-11.1 -9.1M362.8 579.4l-11.1 -9.1M365 576.9l-11.1 -9.1M367.1 574.3l-11.1 -9.1M369.2 571.8l-11.1 -9.1M371.4 569.3l-11.1 -9.1M373.5 566.8l-11.1 -9.1M375.7 564.3l-11.1 -9.1M377.8 561.8l-11.1 -9.1M380 559.3l-11.1 -9.1M382.1 556.8l-11.1 -9.1M384.3 554.3l-11.1 -9.1M386.4 551.8l-11.1 -9.1M388.6 549.3l-11.1 -9.1M390.7 546.8l-11.1 -9.1M392.8 544.3l-11.1 -9.1M395 541.8l-11.1 -9.1M397.1 539.2l-11.1 -9.1M399.3 536.7l-11.1 -9.1M401.4 534.2l-11.1 -9.1M403 531.3l-10.5 -8.6M402.3 526.4l-7.7 -6.3M401.7 521.6l-4.9 -4M401 516.8l-2.1 -1.7M487.5 585.9l0.6 -0.8M483 586.1l2.6 -3M478.5 586.2l4.5 -5.3M474 586.4l6.5 -7.6M469.5 586.6l8.4 -9.9M466.9 584.5l8.4 -9.9M464.4 582.4l8.4 -9.9M461.8 580.3l8.4 -9.9M459.3 578.2l8.4 -9.9M456.7 576.2l8.4 -9.9M454.2 574.1l8.4 -9.9M451.6 572l8.4 -9.9M449.1 569.9l8.4 -9.9M446.5 567.8l8.4 -9.9M444 565.7l8.4 -9.9M441.4 563.6l8.4 -9.9M438.9 561.5l8.4 -9.9M436.3 559.4l8.4 -9.9M433.8 557.3l8.4 -9.9M431.2 555.2l8.4 -9.9M428.7 553.1l8.4 -9.9M426.1 551l8.4 -9.9M423.5 549l8.4 -9.9M421 546.9l8.4 -9.9M418.4 544.8l8.4 -9.9M415.9 542.7l8.4 -9.9M413.3 540.6l8.4 -9.9M410.8 538.5l8.4 -9.9M408.2 536.4l8.4 -9.9M405.7 534.3l8.4 -9.9M403.1 532.2l8.4 -9.9M402.5 527.9l6.5 -7.6M401.9 523.5l4.5 -5.3M401.3 519.1l2.6 -3M400.7 514.7l0.6 -0.8M421 661.2l2.1 1.7M420.3 656.4l4.9 4M419.7 651.6l7.7 6.3M419 646.7l10.5 8.6M420.6 643.8l11.1 9.1M422.7 641.3l11.1 9.1M424.9 638.8l11.1 9.1M427 636.2l11.1 9.1M429.2 633.7l11.1 9.1M431.3 631.2l11.1 9.1M433.4 628.7l11.1 9.1M435.6 626.2l11.1 9.1M437.7 623.7l11.1 9.1M439.9 621.2l11.1 9.1M442 618.7l11.1 9.1M444.2 616.2l11.1 9.1M446.3 613.7l11.1 9.1M448.5 611.2l11.1 9.1M450.6 608.7l11.1 9.1M452.8 606.2l11.1 9.1M454.9 603.7l11.1 9.1M457 601.1l11.1 9.1M459.2 598.6l11.1 9.1M461.3 596.1l11.1 9.1M463.5 593.6l11.1 9.1M465.6 591.1l11.1 9.1M467.8 588.6l11.1 9.1M470.5 586.6l10.5 8.6M475.4 586.4l7.7 6.3M480.4 586.2l4.9 4M485.4 586l2.1 1.7M421.3 663.3l-0.6 0.8M420.7 658.9l-2.6 3M420.1 654.5l-4.5 5.3M419.5 650.1l-6.5 7.6M418.9 645.8l-8.4 9.9M416.3 643.7l-8.4 9.9M413.8 641.6l-8.4 9.9M411.2 639.5l-8.4 9.9M408.7 637.4l-8.4 9.9M406.1 635.3l-8.4 9.9M403.6 633.2l-8.4 9.9M401 631.1l-8.4 9.9M398.5 629l-8.4 9.9M395.9 627l-8.4 9.9M393.3 624.9l-8.4 9.9M390.8 622.8l-8.4 9.9M388.2 620.7l-8.4 9.9M385.7 618.6l-8.4 9.9M383.1 616.5l-8.4 9.9M380.6 614.4l-8.4 9.9M378 612.3l-8.4 9.9M375.5 610.2l-8.4 9.9M372.9 608.1l-8.4 9.9M370.4 606l-8.4 9.9M367.8 603.9l-8.4 9.9M365.3 601.8l-8.4 9.9M362.7 599.8l-8.4 9.9M360.2 597.7l-8.4 9.9M357.6 595.6l-8.4 9.9M355.1 593.5l-8.4 9.9M352.5 591.4l-8.4 9.9M348 591.6l-6.5 7.6M343.5 591.8l-4.5 5.3M339 591.9l-2.6 3M334.5 592.1l-0.6 0.8M361.4 591l-0.6 -0.5M366.4 590.8l-3.4 -2.8M371.3 590.6l-6.2 -5.1M376.3 590.4l-9 -7.4M380.3 589.4l-10.9 -8.9M382.4 586.9l-10.9 -8.9M384.6 584.4l-10.9 -8.9M386.7 581.9l-10.9 -8.9M388.9 579.4l-10.9 -8.9M391 576.9l-10.9 -8.9M393.2 574.4l-10.9 -8.9M395.3 571.9l-10.9 -8.9M397.4 569.4l-10.9 -8.9M399.6 566.8l-10.9 -8.9M401.7 564.3l-10.9 -8.9M403.9 561.8l-10.9 -8.9M406 559.3l-10.9 -8.9M406.3 555.3l-9 -7.4M405.7 550.5l-6.2 -5.1M405 545.7l-3.4 -2.8M404.3 540.9l-0.6 -0.5M460.5 587l0.5 -0.6M456 587.2l2.4 -2.8M451.5 587.3l4.4 -5.1M447 587.5l6.3 -7.4M442.5 587.7l8.3 -9.7M439.9 585.6l8.3 -9.7M437.4 583.5l8.3 -9.7M434.8 581.5l8.3 -9.7M432.3 579.4l8.3 -9.7M429.7 577.3l8.3 -9.7M427.2 575.2l8.3 -9.7M424.6 573.1l8.3 -9.7M422.1 571l8.3 -9.7M419.5 568.9l8.3 -9.7M417 566.8l8.3 -9.7M414.4 564.7l8.3 -9.7M411.9 562.6l8.3 -9.7M409.3 560.5l8.3 -9.7M406.8 558.4l8.3 -9.7M406.2 554.1l6.3 -7.4M405.6 549.7l4.4 -5.1M404.9 545.3l2.4 -2.8M404.3 541l0.5 -0.6M417.7 637.1l0.6 0.5M417 632.3l3.4 2.8M416.3 627.5l6.2 5.1M415.7 622.7l9 7.4M416 618.7l10.9 8.9M418.1 616.2l10.9 8.9M420.3 613.7l10.9 8.9M422.4 611.2l10.9 8.9M424.6 608.6l10.9 8.9M426.7 606.1l10.9 8.9M428.8 603.6l10.9 8.9M431 601.1l10.9 8.9M433.1 598.6l10.9 8.9M435.3 596.1l10.9 8.9M437.4 593.6l10.9 8.9M439.6 591.1l10.9 8.9M441.7 588.6l10.9 8.9M445.7 587.6l9 7.4M450.7 587.4l6.2 5.1M455.6 587.2l3.4 2.8M460.6 587l0.6 0.5M417.7 637l-0.5 0.6M417.1 632.7l-2.4 2.8M416.4 628.3l-4.4 5.1M415.8 623.9l-6.3 7.4M415.2 619.6l-8.3 9.7M412.7 617.5l-8.3 9.7M410.1 615.4l-8.3 9.7M407.6 613.3l-8.3 9.7M405 611.2l-8.3 9.7M402.5 609.1l-8.3 9.7M399.9 607l-8.3 9.7M397.4 604.9l-8.3 9.7M394.8 602.8l-8.3 9.7M392.3 600.7l-8.3 9.7M389.7 598.6l-8.3 9.7M387.2 596.5l-8.3 9.7M384.6 594.5l-8.3 9.7M382.1 592.4l-8.3 9.7M379.5 590.3l-8.3 9.7M375 590.5l-6.3 7.4M370.5 590.7l-4.4 5.1M366 590.8l-2.4 2.8M361.5 591l-0.5 0.6M386.2 590l-0.5 -0.4M391.2 589.8l-3.3 -2.7M396.1 589.6l-6.1 -5M401.1 589.4l-8.9 -7.3M406 589.2l-11.7 -9.6M411 589l-14.6 -11.9M410.3 584.2l-11.7 -9.6M409.7 579.4l-8.9 -7.3M409 574.6l-6.1 -5M408.3 569.8l-3.3 -2.7M407.7 564.9l-0.5 -0.4M433.5 588.1l1.4 -1.6M429 588.3l3.3 -3.9M424.5 588.4l5.3 -6.1M420 588.6l7.2 -8.4M415.5 588.8l9.2 -10.7M411 589l11.1 -13M410.4 584.6l9.2 -10.7M409.8 580.3l7.2 -8.4M409.2 575.9l5.3 -6.1M408.6 571.5l3.3 -3.9M408 567.2l1.4 -1.6M414.3 613.1l0.5 0.4M413.7 608.2l3.3 2.7M413 603.4l6.1 5M412.3 598.6l8.9 7.3M411.7 593.8l11.7 9.6M411 589l14.6 11.9M416 588.8l11.7 9.6M420.9 588.6l8.9 7.3M425.9 588.4l6.1 5M430.8 588.2l3.3 2.7M435.8 588l0.5 0.4M414 610.8l-1.4 1.6M413.4 606.5l-3.3 3.9M412.8 602.1l-5.3 6.1M412.2 597.7l-7.2 8.4M411.6 593.4l-9.2 10.7M411 589l-11.1 13M406.5 589.2l-9.2 10.7M402 589.4l-7.2 8.4M397.5 589.6l-5.3 6.1M393 589.7l-3.3 3.9M388.5 589.9l-1.4 1.6" stroke="#000" stroke-width="1.1" fill="none"/><path d="M388 423L582 582L434 755L240 596ZM390 437.8L566.8 582.6L432 740.2L255.2 595.4ZM389.8 435.8L568.8 582.5L432.2 742.2L253.2 595.5ZM391.8 450.6L553.6 583.2L430.2 727.4L268.4 594.8ZM393 458.9L545.1 583.5L429 719.1L276.9 594.5ZM395.4 476.5L526.9 584.3L426.6 701.5L295.1 593.7ZM396.7 485.7L517.4 584.6L425.3 692.3L304.6 593.4ZM399.3 504.5L498 585.4L422.7 673.5L324 592.6ZM400.5 513.3L489 585.8L421.5 664.7L333 592.2ZM403.1 532.2L469.5 586.6L418.9 645.8L352.5 591.4ZM404.2 539.9L461.6 586.9L417.8 638.1L360.4 591.1ZM406.8 558.5L442.5 587.7L415.2 619.5L379.5 590.3ZM407.6 564.1L436.7 587.9L414.4 613.9L385.3 590.1Z" stroke="#000" stroke-width="1.8" fill="none"/><path d="M388 423L411 589M582 582L411 589M434 755L411 589M240 596L411 589" stroke="#000" stroke-width="0.9" fill="none"/></g>
<circle cx="544" cy="692" r="95.5" fill="none" stroke="#000" stroke-width="2"/>
<text x="543.5" y="602.5" font-size="19" text-anchor="middle" fill="#000" stroke="#e6e6da" stroke-width="2.5" paint-order="stroke">A</text>
<path d="M403.1 352.9C402.4 353.3 401 355 399 355.2C397 355.4 393.8 354.2 390.9 353.9C388 353.6 384.1 352.9 381.4 353.2C378.7 353.5 376.4 354.2 374.7 355.6C372.9 357 371.5 359.5 370.9 361.6C370.3 363.7 370.4 366.1 371.3 368.4C372.2 370.7 374 373.6 376 375.2C378 376.8 381 377.4 383.5 378.2C386 379 388.5 379 390.9 379.9C393.3 380.8 395.8 382.4 397.7 383.3C399.6 384.2 401.8 385.2 402.6 385.6" stroke="#000" stroke-width="5" fill="none" stroke-linecap="round"/>
<path d="M403.1 352.9C402.4 353.3 401 355 399 355.2C397 355.4 393.8 354.2 390.9 353.9C388 353.6 384.1 352.9 381.4 353.2C378.7 353.5 376.4 354.2 374.7 355.6C372.9 357 371.5 359.5 370.9 361.6C370.3 363.7 370.4 366.1 371.3 368.4C372.2 370.7 374 373.6 376 375.2C378 376.8 381 377.4 383.5 378.2C386 379 388.5 379 390.9 379.9C393.3 380.8 395.8 382.4 397.7 383.3C399.6 384.2 401.8 385.2 402.6 385.6" stroke="#e6e6da" stroke-width="2.8" fill="none" stroke-linecap="round"/>
<path d="M409.2 389.5L416 391" stroke="#000" stroke-width="1.1" fill="none"/>
<circle cx="409.2" cy="389.5" r="4" fill="#e6e6da" stroke="#000" stroke-width="1.1"/>
<circle cx="402.6" cy="385.6" r="4.2" fill="#111"/>
<circle cx="402.6" cy="385.6" r="2.1" fill="none" stroke="#e6e6da" stroke-width="0.8" stroke-dasharray="1.2 1.6"/>
<path d="M348.3 415.1C348.5 413.9 349.8 410.3 349.6 407.7C349.4 405.1 347.6 402.2 346.9 399.5C346.2 396.8 345.3 393.9 345.6 391.4C345.9 388.9 347 386.3 348.9 384.7C350.8 383.1 354.4 381.7 357.1 381.6C359.8 381.5 362.9 382.6 365.2 384C367.4 385.4 369.1 387.9 370.6 390.1C372.1 392.4 372.6 395 374 397.5C375.4 400 377.4 403 378.7 405C380 407 381.3 408.8 381.8 409.5" stroke="#000" stroke-width="5" fill="none" stroke-linecap="round"/>
<path d="M348.3 415.1C348.5 413.9 349.8 410.3 349.6 407.7C349.4 405.1 347.6 402.2 346.9 399.5C346.2 396.8 345.3 393.9 345.6 391.4C345.9 388.9 347 386.3 348.9 384.7C350.8 383.1 354.4 381.7 357.1 381.6C359.8 381.5 362.9 382.6 365.2 384C367.4 385.4 369.1 387.9 370.6 390.1C372.1 392.4 372.6 395 374 397.5C375.4 400 377.4 403 378.7 405C380 407 381.3 408.8 381.8 409.5" stroke="#e6e6da" stroke-width="2.8" fill="none" stroke-linecap="round"/>
<path d="M387 415L388.5 423" stroke="#000" stroke-width="1.1" fill="none"/>
<circle cx="387" cy="415" r="4" fill="#e6e6da" stroke="#000" stroke-width="1.1"/>
<circle cx="381.8" cy="409.5" r="4.2" fill="#111"/>
<circle cx="381.8" cy="409.5" r="2.1" fill="none" stroke="#e6e6da" stroke-width="0.8" stroke-dasharray="1.2 1.6"/>
<g><path d="M938.5 935.5l0 1M941.5 932.5l0 4M944.5 929.5l0 7M947.5 926.5l0 10M950.5 925.1l0 11.4M953.5 925.1l0 11.4M956.5 925.1l0 11.4M959.5 925.1l0 11.4M962.5 925.1l0 11.4M965.5 925.1l0 11.4M968.5 925.1l0 11.4M971.5 925.1l0 11.4M974.5 925.1l0 11.4M977.5 925.1l0 11.4M980.5 925.1l0 11.4M983.5 925.1l0 11.4M986.5 925.1l0 11.4M989.5 925.1l0 11.4M992.5 925.1l0 11.4M995.5 925.1l0 11.4M998.5 925.1l0 11.4M1001.5 925.1l0 11.4M1004.5 925.1l0 11.4M1007.5 925.1l0 11.4M1010.5 925.1l0 11.4M1013.5 925.1l0 11.4M1016.5 925.1l0 11.4M1019.5 925.1l0 11.4M1022.5 925.1l0 11.4M1025.5 925.1l0 11.4M1028.5 925.1l0 11.4M1031.5 925.1l0 11.4M1034.5 925.1l0 11.4M1037.5 925.1l0 11.4M1040.5 925.1l0 11.4M1043.5 925.1l0 11.4M1046.5 925.1l0 11.4M1049.5 925.1l0 11.4M1052.5 925.1l0 11.4M1055.5 925.1l0 11.4M1058.5 925.1l0 11.4M1061.5 925.1l0 11.4M1064.5 925.1l0 11.4M1067.5 925.1l0 11.4M1070.5 925.1l0 11.4M1073.5 925.1l0 11.4M1076.5 925.1l0 11.4M1079.5 925.1l0 11.4M1082.5 925.1l0 11.4M1085.5 925.1l0 11.4M1088.5 925.1l0 11.4M1091.5 925.1l0 11.4M1094.5 925.1l0 11.4M1097.5 925.1l0 11.4M1100.5 925.1l0 11.4M1103.5 925.1l0 11.4M1106.5 925.1l0 11.4M1109.5 925.1l0 11.4M1112.5 925.1l0 11.4M1115.5 925.1l0 11.4M1118.5 925.1l0 11.4M1121.5 925.1l0 11.4M1124.5 925.1l0 11.4M1127.5 925.1l0 11.4M1130.5 925.1l0 11.4M1133.5 925.1l0 11.4M1136.5 925.1l0 11.4M1139.5 925.1l0 11.4M1142.5 925.1l0 11.4M1145.5 925.1l0 11.4M1148.5 925.1l0 11.4M1151.5 925.1l0 11.4M1154.5 925.1l0 11.4M1157.5 925.1l0 11.4M1160.5 925.1l0 11.4M1163.5 925.1l0 11.4M1166.5 925.1l0 11.4M1169.5 925.1l0 11.4M1172.5 925.1l0 11.4M1175.5 925.1l0 11.4M1178.5 925.1l0 11.4M1181.5 927.5l0 9M1184.5 930.5l0 6M1187.5 933.5l0 3M1190.5 936.5l0 0M1189.5 684.5l1 0M1186.5 687.5l4 0M1183.5 690.5l7 0M1180.5 693.5l10 0M1179.1 696.5l11.4 0M1179.1 699.5l11.4 0M1179.1 702.5l11.4 0M1179.1 705.5l11.4 0M1179.1 708.5l11.4 0M1179.1 711.5l11.4 0M1179.1 714.5l11.4 0M1179.1 717.5l11.4 0M1179.1 720.5l11.4 0M1179.1 723.5l11.4 0M1179.1 726.5l11.4 0M1179.1 729.5l11.4 0M1179.1 732.5l11.4 0M1179.1 735.5l11.4 0M1179.1 738.5l11.4 0M1179.1 741.5l11.4 0M1179.1 744.5l11.4 0M1179.1 747.5l11.4 0M1179.1 750.5l11.4 0M1179.1 753.5l11.4 0M1179.1 756.5l11.4 0M1179.1 759.5l11.4 0M1179.1 762.5l11.4 0M1179.1 765.5l11.4 0M1179.1 768.5l11.4 0M1179.1 771.5l11.4 0M1179.1 774.5l11.4 0M1179.1 777.5l11.4 0M1179.1 780.5l11.4 0M1179.1 783.5l11.4 0M1179.1 786.5l11.4 0M1179.1 789.5l11.4 0M1179.1 792.5l11.4 0M1179.1 795.5l11.4 0M1179.1 798.5l11.4 0M1179.1 801.5l11.4 0M1179.1 804.5l11.4 0M1179.1 807.5l11.4 0M1179.1 810.5l11.4 0M1179.1 813.5l11.4 0M1179.1 816.5l11.4 0M1179.1 819.5l11.4 0M1179.1 822.5l11.4 0M1179.1 825.5l11.4 0M1179.1 828.5l11.4 0M1179.1 831.5l11.4 0M1179.1 834.5l11.4 0M1179.1 837.5l11.4 0M1179.1 840.5l11.4 0M1179.1 843.5l11.4 0M1179.1 846.5l11.4 0M1179.1 849.5l11.4 0M1179.1 852.5l11.4 0M1179.1 855.5l11.4 0M1179.1 858.5l11.4 0M1179.1 861.5l11.4 0M1179.1 864.5l11.4 0M1179.1 867.5l11.4 0M1179.1 870.5l11.4 0M1179.1 873.5l11.4 0M1179.1 876.5l11.4 0M1179.1 879.5l11.4 0M1179.1 882.5l11.4 0M1179.1 885.5l11.4 0M1179.1 888.5l11.4 0M1179.1 891.5l11.4 0M1179.1 894.5l11.4 0M1179.1 897.5l11.4 0M1179.1 900.5l11.4 0M1179.1 903.5l11.4 0M1179.1 906.5l11.4 0M1179.1 909.5l11.4 0M1179.1 912.5l11.4 0M1179.1 915.5l11.4 0M1179.1 918.5l11.4 0M1179.1 921.5l11.4 0M1179.1 924.5l11.4 0M1181.5 927.5l9 0M1184.5 930.5l6 0M1187.5 933.5l3 0M1190.5 936.5l0 0M938.5 684.5l0 -1M941.5 687.5l0 -4M944.5 690.5l0 -7M947.5 693.5l0 -10M950.5 694.9l0 -11.4M953.5 694.9l0 -11.4M956.5 694.9l0 -11.4M959.5 694.9l0 -11.4M962.5 694.9l0 -11.4M965.5 694.9l0 -11.4M968.5 694.9l0 -11.4M971.5 694.9l0 -11.4M974.5 694.9l0 -11.4M977.5 694.9l0 -11.4M980.5 694.9l0 -11.4M983.5 694.9l0 -11.4M986.5 694.9l0 -11.4M989.5 694.9l0 -11.4M992.5 694.9l0 -11.4M995.5 694.9l0 -11.4M998.5 694.9l0 -11.4M1001.5 694.9l0 -11.4M1004.5 694.9l0 -11.4M1007.5 694.9l0 -11.4M1010.5 694.9l0 -11.4M1013.5 694.9l0 -11.4M1016.5 694.9l0 -11.4M1019.5 694.9l0 -11.4M1022.5 694.9l0 -11.4M1025.5 694.9l0 -11.4M1028.5 694.9l0 -11.4M1031.5 694.9l0 -11.4M1034.5 694.9l0 -11.4M1037.5 694.9l0 -11.4M1040.5 694.9l0 -11.4M1043.5 694.9l0 -11.4M1046.5 694.9l0 -11.4M1049.5 694.9l0 -11.4M1052.5 694.9l0 -11.4M1055.5 694.9l0 -11.4M1058.5 694.9l0 -11.4M1061.5 694.9l0 -11.4M1064.5 694.9l0 -11.4M1067.5 694.9l0 -11.4M1070.5 694.9l0 -11.4M1073.5 694.9l0 -11.4M1076.5 694.9l0 -11.4M1079.5 694.9l0 -11.4M1082.5 694.9l0 -11.4M1085.5 694.9l0 -11.4M1088.5 694.9l0 -11.4M1091.5 694.9l0 -11.4M1094.5 694.9l0 -11.4M1097.5 694.9l0 -11.4M1100.5 694.9l0 -11.4M1103.5 694.9l0 -11.4M1106.5 694.9l0 -11.4M1109.5 694.9l0 -11.4M1112.5 694.9l0 -11.4M1115.5 694.9l0 -11.4M1118.5 694.9l0 -11.4M1121.5 694.9l0 -11.4M1124.5 694.9l0 -11.4M1127.5 694.9l0 -11.4M1130.5 694.9l0 -11.4M1133.5 694.9l0 -11.4M1136.5 694.9l0 -11.4M1139.5 694.9l0 -11.4M1142.5 694.9l0 -11.4M1145.5 694.9l0 -11.4M1148.5 694.9l0 -11.4M1151.5 694.9l0 -11.4M1154.5 694.9l0 -11.4M1157.5 694.9l0 -11.4M1160.5 694.9l0 -11.4M1163.5 694.9l0 -11.4M1166.5 694.9l0 -11.4M1169.5 694.9l0 -11.4M1172.5 694.9l0 -11.4M1175.5 694.9l0 -11.4M1178.5 694.9l0 -11.4M1181.5 692.5l0 -9M1184.5 689.5l0 -6M1187.5 686.5l0 -3M1190.5 683.5l0 0M938.5 684.5l-1 0M941.5 687.5l-4 0M944.5 690.5l-7 0M947.5 693.5l-10 0M948.9 696.5l-11.4 0M948.9 699.5l-11.4 0M948.9 702.5l-11.4 0M948.9 705.5l-11.4 0M948.9 708.5l-11.4 0M948.9 711.5l-11.4 0M948.9 714.5l-11.4 0M948.9 717.5l-11.4 0M948.9 720.5l-11.4 0M948.9 723.5l-11.4 0M948.9 726.5l-11.4 0M948.9 729.5l-11.4 0M948.9 732.5l-11.4 0M948.9 735.5l-11.4 0M948.9 738.5l-11.4 0M948.9 741.5l-11.4 0M948.9 744.5l-11.4 0M948.9 747.5l-11.4 0M948.9 750.5l-11.4 0M948.9 753.5l-11.4 0M948.9 756.5l-11.4 0M948.9 759.5l-11.4 0M948.9 762.5l-11.4 0M948.9 765.5l-11.4 0M948.9 768.5l-11.4 0M948.9 771.5l-11.4 0M948.9 774.5l-11.4 0M948.9 777.5l-11.4 0M948.9 780.5l-11.4 0M948.9 783.5l-11.4 0M948.9 786.5l-11.4 0M948.9 789.5l-11.4 0M948.9 792.5l-11.4 0M948.9 795.5l-11.4 0M948.9 798.5l-11.4 0M948.9 801.5l-11.4 0M948.9 804.5l-11.4 0M948.9 807.5l-11.4 0M948.9 810.5l-11.4 0M948.9 813.5l-11.4 0M948.9 816.5l-11.4 0M948.9 819.5l-11.4 0M948.9 822.5l-11.4 0M948.9 825.5l-11.4 0M948.9 828.5l-11.4 0M948.9 831.5l-11.4 0M948.9 834.5l-11.4 0M948.9 837.5l-11.4 0M948.9 840.5l-11.4 0M948.9 843.5l-11.4 0M948.9 846.5l-11.4 0M948.9 849.5l-11.4 0M948.9 852.5l-11.4 0M948.9 855.5l-11.4 0M948.9 858.5l-11.4 0M948.9 861.5l-11.4 0M948.9 864.5l-11.4 0M948.9 867.5l-11.4 0M948.9 870.5l-11.4 0M948.9 873.5l-11.4 0M948.9 876.5l-11.4 0M948.9 879.5l-11.4 0M948.9 882.5l-11.4 0M948.9 885.5l-11.4 0M948.9 888.5l-11.4 0M948.9 891.5l-11.4 0M948.9 894.5l-11.4 0M948.9 897.5l-11.4 0M948.9 900.5l-11.4 0M948.9 903.5l-11.4 0M948.9 906.5l-11.4 0M948.9 909.5l-11.4 0M948.9 912.5l-11.4 0M948.9 915.5l-11.4 0M948.9 918.5l-11.4 0M948.9 921.5l-11.4 0M948.9 924.5l-11.4 0M946.5 927.5l-9 0M943.5 930.5l-6 0M940.5 933.5l-3 0M937.5 936.5l0 0M956.5 917.5l0 1M959.5 914.5l0 4M962.5 911.5l0 7M965.5 908.5l0 10M968.5 905.6l0 12.9M971.5 905.6l0 12.9M974.5 905.6l0 12.9M977.5 905.6l0 12.9M980.5 905.6l0 12.9M983.5 905.6l0 12.9M986.5 905.6l0 12.9M989.5 905.6l0 12.9M992.5 905.6l0 12.9M995.5 905.6l0 12.9M998.5 905.6l0 12.9M1001.5 905.6l0 12.9M1004.5 905.6l0 12.9M1007.5 905.6l0 12.9M1010.5 905.6l0 12.9M1013.5 905.6l0 12.9M1016.5 905.6l0 12.9M1019.5 905.6l0 12.9M1022.5 905.6l0 12.9M1025.5 905.6l0 12.9M1028.5 905.6l0 12.9M1031.5 905.6l0 12.9M1034.5 905.6l0 12.9M1037.5 905.6l0 12.9M1040.5 905.6l0 12.9M1043.5 905.6l0 12.9M1046.5 905.6l0 12.9M1049.5 905.6l0 12.9M1052.5 905.6l0 12.9M1055.5 905.6l0 12.9M1058.5 905.6l0 12.9M1061.5 905.6l0 12.9M1064.5 905.6l0 12.9M1067.5 905.6l0 12.9M1070.5 905.6l0 12.9M1073.5 905.6l0 12.9M1076.5 905.6l0 12.9M1079.5 905.6l0 12.9M1082.5 905.6l0 12.9M1085.5 905.6l0 12.9M1088.5 905.6l0 12.9M1091.5 905.6l0 12.9M1094.5 905.6l0 12.9M1097.5 905.6l0 12.9M1100.5 905.6l0 12.9M1103.5 905.6l0 12.9M1106.5 905.6l0 12.9M1109.5 905.6l0 12.9M1112.5 905.6l0 12.9M1115.5 905.6l0 12.9M1118.5 905.6l0 12.9M1121.5 905.6l0 12.9M1124.5 905.6l0 12.9M1127.5 905.6l0 12.9M1130.5 905.6l0 12.9M1133.5 905.6l0 12.9M1136.5 905.6l0 12.9M1139.5 905.6l0 12.9M1142.5 905.6l0 12.9M1145.5 905.6l0 12.9M1148.5 905.6l0 12.9M1151.5 905.6l0 12.9M1154.5 905.6l0 12.9M1157.5 905.6l0 12.9M1160.5 906.5l0 12M1163.5 909.5l0 9M1166.5 912.5l0 6M1169.5 915.5l0 3M1172.5 918.5l0 0M1171.5 702.5l1 0M1168.5 705.5l4 0M1165.5 708.5l7 0M1162.5 711.5l10 0M1159.6 714.5l12.9 0M1159.6 717.5l12.9 0M1159.6 720.5l12.9 0M1159.6 723.5l12.9 0M1159.6 726.5l12.9 0M1159.6 729.5l12.9 0M1159.6 732.5l12.9 0M1159.6 735.5l12.9 0M1159.6 738.5l12.9 0M1159.6 741.5l12.9 0M1159.6 744.5l12.9 0M1159.6 747.5l12.9 0M1159.6 750.5l12.9 0M1159.6 753.5l12.9 0M1159.6 756.5l12.9 0M1159.6 759.5l12.9 0M1159.6 762.5l12.9 0M1159.6 765.5l12.9 0M1159.6 768.5l12.9 0M1159.6 771.5l12.9 0M1159.6 774.5l12.9 0M1159.6 777.5l12.9 0M1159.6 780.5l12.9 0M1159.6 783.5l12.9 0M1159.6 786.5l12.9 0M1159.6 789.5l12.9 0M1159.6 792.5l12.9 0M1159.6 795.5l12.9 0M1159.6 798.5l12.9 0M1159.6 801.5l12.9 0M1159.6 804.5l12.9 0M1159.6 807.5l12.9 0M1159.6 810.5l12.9 0M1159.6 813.5l12.9 0M1159.6 816.5l12.9 0M1159.6 819.5l12.9 0M1159.6 822.5l12.9 0M1159.6 825.5l12.9 0M1159.6 828.5l12.9 0M1159.6 831.5l12.9 0M1159.6 834.5l12.9 0M1159.6 837.5l12.9 0M1159.6 840.5l12.9 0M1159.6 843.5l12.9 0M1159.6 846.5l12.9 0M1159.6 849.5l12.9 0M1159.6 852.5l12.9 0M1159.6 855.5l12.9 0M1159.6 858.5l12.9 0M1159.6 861.5l12.9 0M1159.6 864.5l12.9 0M1159.6 867.5l12.9 0M1159.6 870.5l12.9 0M1159.6 873.5l12.9 0M1159.6 876.5l12.9 0M1159.6 879.5l12.9 0M1159.6 882.5l12.9 0M1159.6 885.5l12.9 0M1159.6 888.5l12.9 0M1159.6 891.5l12.9 0M1159.6 894.5l12.9 0M1159.6 897.5l12.9 0M1159.6 900.5l12.9 0M1159.6 903.5l12.9 0M1160.5 906.5l12 0M1163.5 909.5l9 0M1166.5 912.5l6 0M1169.5 915.5l3 0M1172.5 918.5l0 0M956.5 702.5l0 -1M959.5 705.5l0 -4M962.5 708.5l0 -7M965.5 711.5l0 -10M968.5 714.4l0 -12.9M971.5 714.4l0 -12.9M974.5 714.4l0 -12.9M977.5 714.4l0 -12.9M980.5 714.4l0 -12.9M983.5 714.4l0 -12.9M986.5 714.4l0 -12.9M989.5 714.4l0 -12.9M992.5 714.4l0 -12.9M995.5 714.4l0 -12.9M998.5 714.4l0 -12.9M1001.5 714.4l0 -12.9M1004.5 714.4l0 -12.9M1007.5 714.4l0 -12.9M1010.5 714.4l0 -12.9M1013.5 714.4l0 -12.9M1016.5 714.4l0 -12.9M1019.5 714.4l0 -12.9M1022.5 714.4l0 -12.9M1025.5 714.4l0 -12.9M1028.5 714.4l0 -12.9M1031.5 714.4l0 -12.9M1034.5 714.4l0 -12.9M1037.5 714.4l0 -12.9M1040.5 714.4l0 -12.9M1043.5 714.4l0 -12.9M1046.5 714.4l0 -12.9M1049.5 714.4l0 -12.9M1052.5 714.4l0 -12.9M1055.5 714.4l0 -12.9M1058.5 714.4l0 -12.9M1061.5 714.4l0 -12.9M1064.5 714.4l0 -12.9M1067.5 714.4l0 -12.9M1070.5 714.4l0 -12.9M1073.5 714.4l0 -12.9M1076.5 714.4l0 -12.9M1079.5 714.4l0 -12.9M1082.5 714.4l0 -12.9M1085.5 714.4l0 -12.9M1088.5 714.4l0 -12.9M1091.5 714.4l0 -12.9M1094.5 714.4l0 -12.9M1097.5 714.4l0 -12.9M1100.5 714.4l0 -12.9M1103.5 714.4l0 -12.9M1106.5 714.4l0 -12.9M1109.5 714.4l0 -12.9M1112.5 714.4l0 -12.9M1115.5 714.4l0 -12.9M1118.5 714.4l0 -12.9M1121.5 714.4l0 -12.9M1124.5 714.4l0 -12.9M1127.5 714.4l0 -12.9M1130.5 714.4l0 -12.9M1133.5 714.4l0 -12.9M1136.5 714.4l0 -12.9M1139.5 714.4l0 -12.9M1142.5 714.4l0 -12.9M1145.5 714.4l0 -12.9M1148.5 714.4l0 -12.9M1151.5 714.4l0 -12.9M1154.5 714.4l0 -12.9M1157.5 714.4l0 -12.9M1160.5 713.5l0 -12M1163.5 710.5l0 -9M1166.5 707.5l0 -6M1169.5 704.5l0 -3M1172.5 701.5l0 0M956.5 702.5l-1 0M959.5 705.5l-4 0M962.5 708.5l-7 0M965.5 711.5l-10 0M968.4 714.5l-12.9 0M968.4 717.5l-12.9 0M968.4 720.5l-12.9 0M968.4 723.5l-12.9 0M968.4 726.5l-12.9 0M968.4 729.5l-12.9 0M968.4 732.5l-12.9 0M968.4 735.5l-12.9 0M968.4 738.5l-12.9 0M968.4 741.5l-12.9 0M968.4 744.5l-12.9 0M968.4 747.5l-12.9 0M968.4 750.5l-12.9 0M968.4 753.5l-12.9 0M968.4 756.5l-12.9 0M968.4 759.5l-12.9 0M968.4 762.5l-12.9 0M968.4 765.5l-12.9 0M968.4 768.5l-12.9 0M968.4 771.5l-12.9 0M968.4 774.5l-12.9 0M968.4 777.5l-12.9 0M968.4 780.5l-12.9 0M968.4 783.5l-12.9 0M968.4 786.5l-12.9 0M968.4 789.5l-12.9 0M968.4 792.5l-12.9 0M968.4 795.5l-12.9 0M968.4 798.5l-12.9 0M968.4 801.5l-12.9 0M968.4 804.5l-12.9 0M968.4 807.5l-12.9 0M968.4 810.5l-12.9 0M968.4 813.5l-12.9 0M968.4 816.5l-12.9 0M968.4 819.5l-12.9 0M968.4 822.5l-12.9 0M968.4 825.5l-12.9 0M968.4 828.5l-12.9 0M968.4 831.5l-12.9 0M968.4 834.5l-12.9 0M968.4 837.5l-12.9 0M968.4 840.5l-12.9 0M968.4 843.5l-12.9 0M968.4 846.5l-12.9 0M968.4 849.5l-12.9 0M968.4 852.5l-12.9 0M968.4 855.5l-12.9 0M968.4 858.5l-12.9 0M968.4 861.5l-12.9 0M968.4 864.5l-12.9 0M968.4 867.5l-12.9 0M968.4 870.5l-12.9 0M968.4 873.5l-12.9 0M968.4 876.5l-12.9 0M968.4 879.5l-12.9 0M968.4 882.5l-12.9 0M968.4 885.5l-12.9 0M968.4 888.5l-12.9 0M968.4 891.5l-12.9 0M968.4 894.5l-12.9 0M968.4 897.5l-12.9 0M968.4 900.5l-12.9 0M968.4 903.5l-12.9 0M967.5 906.5l-12 0M964.5 909.5l-9 0M961.5 912.5l-6 0M958.5 915.5l-3 0M955.5 918.5l0 0M977.5 896.5l0 2.4M980.5 893.5l0 5.4M983.5 890.5l0 8.4M986.5 887.5l0 11.4M989.5 884.5l0 14.4M992.5 884.4l0 14.5M995.5 884.4l0 14.5M998.5 884.4l0 14.5M1001.5 884.4l0 14.5M1004.5 884.4l0 14.5M1007.5 884.4l0 14.5M1010.5 884.4l0 14.5M1013.5 884.4l0 14.5M1016.5 884.4l0 14.5M1019.5 884.4l0 14.5M1022.5 884.4l0 14.5M1025.5 884.4l0 14.5M1028.5 884.4l0 14.5M1031.5 884.4l0 14.5M1034.5 884.4l0 14.5M1037.5 884.4l0 14.5M1040.5 884.4l0 14.5M1043.5 884.4l0 14.5M1046.5 884.4l0 14.5M1049.5 884.4l0 14.5M1052.5 884.4l0 14.5M1055.5 884.4l0 14.5M1058.5 884.4l0 14.5M1061.5 884.4l0 14.5M1064.5 884.4l0 14.5M1067.5 884.4l0 14.5M1070.5 884.4l0 14.5M1073.5 884.4l0 14.5M1076.5 884.4l0 14.5M1079.5 884.4l0 14.5M1082.5 884.4l0 14.5M1085.5 884.4l0 14.5M1088.5 884.4l0 14.5M1091.5 884.4l0 14.5M1094.5 884.4l0 14.5M1097.5 884.4l0 14.5M1100.5 884.4l0 14.5M1103.5 884.4l0 14.5M1106.5 884.4l0 14.5M1109.5 884.4l0 14.5M1112.5 884.4l0 14.5M1115.5 884.4l0 14.5M1118.5 884.4l0 14.5M1121.5 884.4l0 14.5M1124.5 884.4l0 14.5M1127.5 884.4l0 14.5M1130.5 884.4l0 14.5M1133.5 884.4l0 14.5M1136.5 884.4l0 14.5M1139.5 885.5l0 13.4M1142.5 888.5l0 10.4M1145.5 891.5l0 7.4M1148.5 894.5l0 4.4M1151.5 897.5l0 1.4M1150.5 723.5l2.4 0M1147.5 726.5l5.4 0M1144.5 729.5l8.4 0M1141.5 732.5l11.4 0M1138.5 735.5l14.4 0M1138.4 738.5l14.5 0M1138.4 741.5l14.5 0M1138.4 744.5l14.5 0M1138.4 747.5l14.5 0M1138.4 750.5l14.5 0M1138.4 753.5l14.5 0M1138.4 756.5l14.5 0M1138.4 759.5l14.5 0M1138.4 762.5l14.5 0M1138.4 765.5l14.5 0M1138.4 768.5l14.5 0M1138.4 771.5l14.5 0M1138.4 774.5l14.5 0M1138.4 777.5l14.5 0M1138.4 780.5l14.5 0M1138.4 783.5l14.5 0M1138.4 786.5l14.5 0M1138.4 789.5l14.5 0M1138.4 792.5l14.5 0M1138.4 795.5l14.5 0M1138.4 798.5l14.5 0M1138.4 801.5l14.5 0M1138.4 804.5l14.5 0M1138.4 807.5l14.5 0M1138.4 810.5l14.5 0M1138.4 813.5l14.5 0M1138.4 816.5l14.5 0M1138.4 819.5l14.5 0M1138.4 822.5l14.5 0M1138.4 825.5l14.5 0M1138.4 828.5l14.5 0M1138.4 831.5l14.5 0M1138.4 834.5l14.5 0M1138.4 837.5l14.5 0M1138.4 840.5l14.5 0M1138.4 843.5l14.5 0M1138.4 846.5l14.5 0M1138.4 849.5l14.5 0M1138.4 852.5l14.5 0M1138.4 855.5l14.5 0M1138.4 858.5l14.5 0M1138.4 861.5l14.5 0M1138.4 864.5l14.5 0M1138.4 867.5l14.5 0M1138.4 870.5l14.5 0M1138.4 873.5l14.5 0M1138.4 876.5l14.5 0M1138.4 879.5l14.5 0M1138.4 882.5l14.5 0M1139.5 885.5l13.4 0M1142.5 888.5l10.4 0M1145.5 891.5l7.4 0M1148.5 894.5l4.4 0M1151.5 897.5l1.4 0M977.5 723.5l0 -2.4M980.5 726.5l0 -5.4M983.5 729.5l0 -8.4M986.5 732.5l0 -11.4M989.5 735.5l0 -14.4M992.5 735.6l0 -14.5M995.5 735.6l0 -14.5M998.5 735.6l0 -14.5M1001.5 735.6l0 -14.5M1004.5 735.6l0 -14.5M1007.5 735.6l0 -14.5M1010.5 735.6l0 -14.5M1013.5 735.6l0 -14.5M1016.5 735.6l0 -14.5M1019.5 735.6l0 -14.5M1022.5 735.6l0 -14.5M1025.5 735.6l0 -14.5M1028.5 735.6l0 -14.5M1031.5 735.6l0 -14.5M1034.5 735.6l0 -14.5M1037.5 735.6l0 -14.5M1040.5 735.6l0 -14.5M1043.5 735.6l0 -14.5M1046.5 735.6l0 -14.5M1049.5 735.6l0 -14.5M1052.5 735.6l0 -14.5M1055.5 735.6l0 -14.5M1058.5 735.6l0 -14.5M1061.5 735.6l0 -14.5M1064.5 735.6l0 -14.5M1067.5 735.6l0 -14.5M1070.5 735.6l0 -14.5M1073.5 735.6l0 -14.5M1076.5 735.6l0 -14.5M1079.5 735.6l0 -14.5M1082.5 735.6l0 -14.5M1085.5 735.6l0 -14.5M1088.5 735.6l0 -14.5M1091.5 735.6l0 -14.5M1094.5 735.6l0 -14.5M1097.5 735.6l0 -14.5M1100.5 735.6l0 -14.5M1103.5 735.6l0 -14.5M1106.5 735.6l0 -14.5M1109.5 735.6l0 -14.5M1112.5 735.6l0 -14.5M1115.5 735.6l0 -14.5M1118.5 735.6l0 -14.5M1121.5 735.6l0 -14.5M1124.5 735.6l0 -14.5M1127.5 735.6l0 -14.5M1130.5 735.6l0 -14.5M1133.5 735.6l0 -14.5M1136.5 735.6l0 -14.5M1139.5 734.5l0 -13.4M1142.5 731.5l0 -10.4M1145.5 728.5l0 -7.4M1148.5 725.5l0 -4.4M1151.5 722.5l0 -1.4M977.5 723.5l-2.4 0M980.5 726.5l-5.4 0M983.5 729.5l-8.4 0M986.5 732.5l-11.4 0M989.5 735.5l-14.4 0M989.6 738.5l-14.5 0M989.6 741.5l-14.5 0M989.6 744.5l-14.5 0M989.6 747.5l-14.5 0M989.6 750.5l-14.5 0M989.6 753.5l-14.5 0M989.6 756.5l-14.5 0M989.6 759.5l-14.5 0M989.6 762.5l-14.5 0M989.6 765.5l-14.5 0M989.6 768.5l-14.5 0M989.6 771.5l-14.5 0M989.6 774.5l-14.5 0M989.6 777.5l-14.5 0M989.6 780.5l-14.5 0M989.6 783.5l-14.5 0M989.6 786.5l-14.5 0M989.6 789.5l-14.5 0M989.6 792.5l-14.5 0M989.6 795.5l-14.5 0M989.6 798.5l-14.5 0M989.6 801.5l-14.5 0M989.6 804.5l-14.5 0M989.6 807.5l-14.5 0M989.6 810.5l-14.5 0M989.6 813.5l-14.5 0M989.6 816.5l-14.5 0M989.6 819.5l-14.5 0M989.6 822.5l-14.5 0M989.6 825.5l-14.5 0M989.6 828.5l-14.5 0M989.6 831.5l-14.5 0M989.6 834.5l-14.5 0M989.6 837.5l-14.5 0M989.6 840.5l-14.5 0M989.6 843.5l-14.5 0M989.6 846.5l-14.5 0M989.6 849.5l-14.5 0M989.6 852.5l-14.5 0M989.6 855.5l-14.5 0M989.6 858.5l-14.5 0M989.6 861.5l-14.5 0M989.6 864.5l-14.5 0M989.6 867.5l-14.5 0M989.6 870.5l-14.5 0M989.6 873.5l-14.5 0M989.6 876.5l-14.5 0M989.6 879.5l-14.5 0M989.6 882.5l-14.5 0M988.5 885.5l-13.4 0M985.5 888.5l-10.4 0M982.5 891.5l-7.4 0M979.5 894.5l-4.4 0M976.5 897.5l-1.4 0M998.5 875.5l0 1.3M1001.5 872.5l0 4.3M1004.5 869.5l0 7.3M1007.5 866.5l0 10.3M1010.5 864.5l0 12.3M1013.5 864.5l0 12.3M1016.5 864.5l0 12.3M1019.5 864.5l0 12.3M1022.5 864.5l0 12.3M1025.5 864.5l0 12.3M1028.5 864.5l0 12.3M1031.5 864.5l0 12.3M1034.5 864.5l0 12.3M1037.5 864.5l0 12.3M1040.5 864.5l0 12.3M1043.5 864.5l0 12.3M1046.5 864.5l0 12.3M1049.5 864.5l0 12.3M1052.5 864.5l0 12.3M1055.5 864.5l0 12.3M1058.5 864.5l0 12.3M1061.5 864.5l0 12.3M1064.5 864.5l0 12.3M1067.5 864.5l0 12.3M1070.5 864.5l0 12.3M1073.5 864.5l0 12.3M1076.5 864.5l0 12.3M1079.5 864.5l0 12.3M1082.5 864.5l0 12.3M1085.5 864.5l0 12.3M1088.5 864.5l0 12.3M1091.5 864.5l0 12.3M1094.5 864.5l0 12.3M1097.5 864.5l0 12.3M1100.5 864.5l0 12.3M1103.5 864.5l0 12.3M1106.5 864.5l0 12.3M1109.5 864.5l0 12.3M1112.5 864.5l0 12.3M1115.5 864.5l0 12.3M1118.5 864.5l0 12.3M1121.5 867.5l0 9.3M1124.5 870.5l0 6.3M1127.5 873.5l0 3.3M1130.5 876.5l0 0.3M1129.5 744.5l1.3 0M1126.5 747.5l4.3 0M1123.5 750.5l7.3 0M1120.5 753.5l10.3 0M1118.5 756.5l12.3 0M1118.5 759.5l12.3 0M1118.5 762.5l12.3 0M1118.5 765.5l12.3 0M1118.5 768.5l12.3 0M1118.5 771.5l12.3 0M1118.5 774.5l12.3 0M1118.5 777.5l12.3 0M1118.5 780.5l12.3 0M1118.5 783.5l12.3 0M1118.5 786.5l12.3 0M1118.5 789.5l12.3 0M1118.5 792.5l12.3 0M1118.5 795.5l12.3 0M1118.5 798.5l12.3 0M1118.5 801.5l12.3 0M1118.5 804.5l12.3 0M1118.5 807.5l12.3 0M1118.5 810.5l12.3 0M1118.5 813.5l12.3 0M1118.5 816.5l12.3 0M1118.5 819.5l12.3 0M1118.5 822.5l12.3 0M1118.5 825.5l12.3 0M1118.5 828.5l12.3 0M1118.5 831.5l12.3 0M1118.5 834.5l12.3 0M1118.5 837.5l12.3 0M1118.5 840.5l12.3 0M1118.5 843.5l12.3 0M1118.5 846.5l12.3 0M1118.5 849.5l12.3 0M1118.5 852.5l12.3 0M1118.5 855.5l12.3 0M1118.5 858.5l12.3 0M1118.5 861.5l12.3 0M1118.5 864.5l12.3 0M1121.5 867.5l9.3 0M1124.5 870.5l6.3 0M1127.5 873.5l3.3 0M1130.5 876.5l0.3 0M998.5 744.5l0 -1.3M1001.5 747.5l0 -4.3M1004.5 750.5l0 -7.3M1007.5 753.5l0 -10.3M1010.5 755.5l0 -12.3M1013.5 755.5l0 -12.3M1016.5 755.5l0 -12.3M1019.5 755.5l0 -12.3M1022.5 755.5l0 -12.3M1025.5 755.5l0 -12.3M1028.5 755.5l0 -12.3M1031.5 755.5l0 -12.3M1034.5 755.5l0 -12.3M1037.5 755.5l0 -12.3M1040.5 755.5l0 -12.3M1043.5 755.5l0 -12.3M1046.5 755.5l0 -12.3M1049.5 755.5l0 -12.3M1052.5 755.5l0 -12.3M1055.5 755.5l0 -12.3M1058.5 755.5l0 -12.3M1061.5 755.5l0 -12.3M1064.5 755.5l0 -12.3M1067.5 755.5l0 -12.3M1070.5 755.5l0 -12.3M1073.5 755.5l0 -12.3M1076.5 755.5l0 -12.3M1079.5 755.5l0 -12.3M1082.5 755.5l0 -12.3M1085.5 755.5l0 -12.3M1088.5 755.5l0 -12.3M1091.5 755.5l0 -12.3M1094.5 755.5l0 -12.3M1097.5 755.5l0 -12.3M1100.5 755.5l0 -12.3M1103.5 755.5l0 -12.3M1106.5 755.5l0 -12.3M1109.5 755.5l0 -12.3M1112.5 755.5l0 -12.3M1115.5 755.5l0 -12.3M1118.5 755.5l0 -12.3M1121.5 752.5l0 -9.3M1124.5 749.5l0 -6.3M1127.5 746.5l0 -3.3M1130.5 743.5l0 -0.3M998.5 744.5l-1.3 0M1001.5 747.5l-4.3 0M1004.5 750.5l-7.3 0M1007.5 753.5l-10.3 0M1009.5 756.5l-12.3 0M1009.5 759.5l-12.3 0M1009.5 762.5l-12.3 0M1009.5 765.5l-12.3 0M1009.5 768.5l-12.3 0M1009.5 771.5l-12.3 0M1009.5 774.5l-12.3 0M1009.5 777.5l-12.3 0M1009.5 780.5l-12.3 0M1009.5 783.5l-12.3 0M1009.5 786.5l-12.3 0M1009.5 789.5l-12.3 0M1009.5 792.5l-12.3 0M1009.5 795.5l-12.3 0M1009.5 798.5l-12.3 0M1009.5 801.5l-12.3 0M1009.5 804.5l-12.3 0M1009.5 807.5l-12.3 0M1009.5 810.5l-12.3 0M1009.5 813.5l-12.3 0M1009.5 816.5l-12.3 0M1009.5 819.5l-12.3 0M1009.5 822.5l-12.3 0M1009.5 825.5l-12.3 0M1009.5 828.5l-12.3 0M1009.5 831.5l-12.3 0M1009.5 834.5l-12.3 0M1009.5 837.5l-12.3 0M1009.5 840.5l-12.3 0M1009.5 843.5l-12.3 0M1009.5 846.5l-12.3 0M1009.5 849.5l-12.3 0M1009.5 852.5l-12.3 0M1009.5 855.5l-12.3 0M1009.5 858.5l-12.3 0M1009.5 861.5l-12.3 0M1009.5 864.5l-12.3 0M1006.5 867.5l-9.3 0M1003.5 870.5l-6.3 0M1000.5 873.5l-3.3 0M997.5 876.5l-0.3 0M1019.5 854.5l0 1.5M1022.5 851.5l0 4.5M1025.5 848.5l0 7.5M1028.5 845.9l0 10.1M1031.5 845.9l0 10.1M1034.5 845.9l0 10.1M1037.5 845.9l0 10.1M1040.5 845.9l0 10.1M1043.5 845.9l0 10.1M1046.5 845.9l0 10.1M1049.5 845.9l0 10.1M1052.5 845.9l0 10.1M1055.5 845.9l0 10.1M1058.5 845.9l0 10.1M1061.5 845.9l0 10.1M1064.5 845.9l0 10.1M1067.5 845.9l0 10.1M1070.5 845.9l0 10.1M1073.5 845.9l0 10.1M1076.5 845.9l0 10.1M1079.5 845.9l0 10.1M1082.5 845.9l0 10.1M1085.5 845.9l0 10.1M1088.5 845.9l0 10.1M1091.5 845.9l0 10.1M1094.5 845.9l0 10.1M1097.5 845.9l0 10.1M1100.5 846.5l0 9.5M1103.5 849.5l0 6.5M1106.5 852.5l0 3.5M1109.5 855.5l0 0.5M1108.5 765.5l1.5 0M1105.5 768.5l4.5 0M1102.5 771.5l7.5 0M1099.9 774.5l10.1 0M1099.9 777.5l10.1 0M1099.9 780.5l10.1 0M1099.9 783.5l10.1 0M1099.9 786.5l10.1 0M1099.9 789.5l10.1 0M1099.9 792.5l10.1 0M1099.9 795.5l10.1 0M1099.9 798.5l10.1 0M1099.9 801.5l10.1 0M1099.9 804.5l10.1 0M1099.9 807.5l10.1 0M1099.9 810.5l10.1 0M1099.9 813.5l10.1 0M1099.9 816.5l10.1 0M1099.9 819.5l10.1 0M1099.9 822.5l10.1 0M1099.9 825.5l10.1 0M1099.9 828.5l10.1 0M1099.9 831.5l10.1 0M1099.9 834.5l10.1 0M1099.9 837.5l10.1 0M1099.9 840.5l10.1 0M1099.9 843.5l10.1 0M1100.5 846.5l9.5 0M1103.5 849.5l6.5 0M1106.5 852.5l3.5 0M1109.5 855.5l0.5 0M1019.5 765.5l0 -1.5M1022.5 768.5l0 -4.5M1025.5 771.5l0 -7.5M1028.5 774.1l0 -10.1M1031.5 774.1l0 -10.1M1034.5 774.1l0 -10.1M1037.5 774.1l0 -10.1M1040.5 774.1l0 -10.1M1043.5 774.1l0 -10.1M1046.5 774.1l0 -10.1M1049.5 774.1l0 -10.1M1052.5 774.1l0 -10.1M1055.5 774.1l0 -10.1M1058.5 774.1l0 -10.1M1061.5 774.1l0 -10.1M1064.5 774.1l0 -10.1M1067.5 774.1l0 -10.1M1070.5 774.1l0 -10.1M1073.5 774.1l0 -10.1M1076.5 774.1l0 -10.1M1079.5 774.1l0 -10.1M1082.5 774.1l0 -10.1M1085.5 774.1l0 -10.1M1088.5 774.1l0 -10.1M1091.5 774.1l0 -10.1M1094.5 774.1l0 -10.1M1097.5 774.1l0 -10.1M1100.5 773.5l0 -9.5M1103.5 770.5l0 -6.5M1106.5 767.5l0 -3.5M1109.5 764.5l0 -0.5M1019.5 765.5l-1.5 0M1022.5 768.5l-4.5 0M1025.5 771.5l-7.5 0M1028.1 774.5l-10.1 0M1028.1 777.5l-10.1 0M1028.1 780.5l-10.1 0M1028.1 783.5l-10.1 0M1028.1 786.5l-10.1 0M1028.1 789.5l-10.1 0M1028.1 792.5l-10.1 0M1028.1 795.5l-10.1 0M1028.1 798.5l-10.1 0M1028.1 801.5l-10.1 0M1028.1 804.5l-10.1 0M1028.1 807.5l-10.1 0M1028.1 810.5l-10.1 0M1028.1 813.5l-10.1 0M1028.1 816.5l-10.1 0M1028.1 819.5l-10.1 0M1028.1 822.5l-10.1 0M1028.1 825.5l-10.1 0M1028.1 828.5l-10.1 0M1028.1 831.5l-10.1 0M1028.1 834.5l-10.1 0M1028.1 837.5l-10.1 0M1028.1 840.5l-10.1 0M1028.1 843.5l-10.1 0M1027.5 846.5l-9.5 0M1024.5 849.5l-6.5 0M1021.5 852.5l-3.5 0M1018.5 855.5l-0.5 0M1037.5 836.5l0 1.6M1040.5 833.5l0 4.6M1043.5 830.5l0 7.6M1046.5 827.5l0 10.6M1049.5 825.7l0 12.4M1052.5 825.7l0 12.4M1055.5 825.7l0 12.4M1058.5 825.7l0 12.4M1061.5 825.7l0 12.4M1064.5 825.7l0 12.4M1067.5 825.7l0 12.4M1070.5 825.7l0 12.4M1073.5 825.7l0 12.4M1076.5 825.7l0 12.4M1079.5 825.7l0 12.4M1082.5 828.5l0 9.6M1085.5 831.5l0 6.6M1088.5 834.5l0 3.6M1091.5 837.5l0 0.6M1090.5 783.5l1.6 0M1087.5 786.5l4.6 0M1084.5 789.5l7.6 0M1081.5 792.5l10.6 0M1079.7 795.5l12.4 0M1079.7 798.5l12.4 0M1079.7 801.5l12.4 0M1079.7 804.5l12.4 0M1079.7 807.5l12.4 0M1079.7 810.5l12.4 0M1079.7 813.5l12.4 0M1079.7 816.5l12.4 0M1079.7 819.5l12.4 0M1079.7 822.5l12.4 0M1079.7 825.5l12.4 0M1082.5 828.5l9.6 0M1085.5 831.5l6.6 0M1088.5 834.5l3.6 0M1091.5 837.5l0.6 0M1037.5 783.5l0 -1.6M1040.5 786.5l0 -4.6M1043.5 789.5l0 -7.6M1046.5 792.5l0 -10.6M1049.5 794.3l0 -12.4M1052.5 794.3l0 -12.4M1055.5 794.3l0 -12.4M1058.5 794.3l0 -12.4M1061.5 794.3l0 -12.4M1064.5 794.3l0 -12.4M1067.5 794.3l0 -12.4M1070.5 794.3l0 -12.4M1073.5 794.3l0 -12.4M1076.5 794.3l0 -12.4M1079.5 794.3l0 -12.4M1082.5 791.5l0 -9.6M1085.5 788.5l0 -6.6M1088.5 785.5l0 -3.6M1091.5 782.5l0 -0.6M1037.5 783.5l-1.6 0M1040.5 786.5l-4.6 0M1043.5 789.5l-7.6 0M1046.5 792.5l-10.6 0M1048.3 795.5l-12.4 0M1048.3 798.5l-12.4 0M1048.3 801.5l-12.4 0M1048.3 804.5l-12.4 0M1048.3 807.5l-12.4 0M1048.3 810.5l-12.4 0M1048.3 813.5l-12.4 0M1048.3 816.5l-12.4 0M1048.3 819.5l-12.4 0M1048.3 822.5l-12.4 0M1048.3 825.5l-12.4 0M1045.5 828.5l-9.6 0M1042.5 831.5l-6.6 0M1039.5 834.5l-3.6 0M1036.5 837.5l-0.6 0M1058.5 815.5l0 2.2M1061.5 812.5l0 5.2M1064.5 810.5l0 7.2M1067.5 813.5l0 4.2M1070.5 816.5l0 1.2M1069.5 804.5l2.2 0M1066.5 807.5l5.2 0M1064.5 810.5l7.2 0M1067.5 813.5l4.2 0M1070.5 816.5l1.2 0M1058.5 804.5l0 -2.2M1061.5 807.5l0 -5.2M1064.5 809.5l0 -7.2M1067.5 806.5l0 -4.2M1070.5 803.5l0 -1.2M1058.5 804.5l-2.2 0M1061.5 807.5l-5.2 0M1063.5 810.5l-7.2 0M1060.5 813.5l-4.2 0M1057.5 816.5l-1.2 0" stroke="#000" stroke-width="1" fill="none"/><path d="M1190.5 936.5L1190.5 683.5L937.5 683.5L937.5 936.5ZM1179.5 925.5L1179.5 694.5L948.5 694.5L948.5 925.5ZM1172.5 918.5L1172.5 701.5L955.5 701.5L955.5 918.5ZM1159.5 905.5L1159.5 714.5L968.5 714.5L968.5 905.5ZM1152.5 898.5L1152.5 721.5L975.5 721.5L975.5 898.5ZM1138.5 884.5L1138.5 735.5L989.5 735.5L989.5 884.5ZM1130.5 876.5L1130.5 743.5L997.5 743.5L997.5 876.5ZM1118.5 864.5L1118.5 755.5L1009.5 755.5L1009.5 864.5ZM1110.5 856.5L1110.5 763.5L1017.5 763.5L1017.5 856.5ZM1099.5 845.5L1099.5 774.5L1028.5 774.5L1028.5 845.5ZM1092.5 838.5L1092.5 781.5L1035.5 781.5L1035.5 838.5ZM1079.5 825.5L1079.5 794.5L1048.5 794.5L1048.5 825.5ZM1071.5 817.5L1071.5 802.5L1056.5 802.5L1056.5 817.5Z" stroke="#000" stroke-width="1" fill="none"/><path d="M1190.5 936.5L1064 810M1190.5 683.5L1064 810M937.5 683.5L1064 810M937.5 936.5L1064 810" stroke="#000" stroke-width="0.9" fill="none"/></g>
<g><path d="M938.5 1231.5l0 1M941.5 1228.5l0 4M944.5 1225.5l0 7M947.5 1222.5l0 10M950.5 1222l0 10.5M953.5 1222l0 10.5M956.5 1222l0 10.5M959.5 1222l0 10.5M962.5 1222l0 10.5M965.5 1222l0 10.5M968.5 1222l0 10.5M971.5 1222l0 10.5M974.5 1222l0 10.5M977.5 1222l0 10.5M980.5 1222l0 10.5M983.5 1222l0 10.5M986.5 1222l0 10.5M989.5 1222l0 10.5M992.5 1222l0 10.5M995.5 1222l0 10.5M998.5 1222l0 10.5M1001.5 1222l0 10.5M1004.5 1222l0 10.5M1007.5 1222l0 10.5M1010.5 1222l0 10.5M1013.5 1222l0 10.5M1016.5 1222l0 10.5M1019.5 1222l0 10.5M1022.5 1222l0 10.5M1025.5 1222l0 10.5M1028.5 1222l0 10.5M1031.5 1222l0 10.5M1034.5 1222l0 10.5M1037.5 1222l0 10.5M1040.5 1222l0 10.5M1043.5 1222l0 10.5M1046.5 1222l0 10.5M1049.5 1222l0 10.5M1052.5 1222l0 10.5M1055.5 1222l0 10.5M1058.5 1222l0 10.5M1061.5 1222l0 10.5M1064.5 1222l0 10.5M1067.5 1222l0 10.5M1070.5 1222l0 10.5M1073.5 1222l0 10.5M1076.5 1222l0 10.5M1079.5 1222l0 10.5M1082.5 1222l0 10.5M1085.5 1222l0 10.5M1088.5 1222l0 10.5M1091.5 1222l0 10.5M1094.5 1222l0 10.5M1097.5 1222l0 10.5M1100.5 1222l0 10.5M1103.5 1222l0 10.5M1106.5 1222l0 10.5M1109.5 1222l0 10.5M1112.5 1222l0 10.5M1115.5 1222l0 10.5M1118.5 1222l0 10.5M1121.5 1222l0 10.5M1124.5 1222l0 10.5M1127.5 1222l0 10.5M1130.5 1222l0 10.5M1133.5 1222l0 10.5M1136.5 1222l0 10.5M1139.5 1222l0 10.5M1142.5 1222l0 10.5M1145.5 1222l0 10.5M1148.5 1222l0 10.5M1151.5 1222l0 10.5M1154.5 1222l0 10.5M1157.5 1222l0 10.5M1160.5 1222l0 10.5M1163.5 1222l0 10.5M1166.5 1222l0 10.5M1169.5 1222l0 10.5M1172.5 1222l0 10.5M1175.5 1222l0 10.5M1178.5 1222l0 10.5M1181.5 1223.5l0 9M1184.5 1226.5l0 6M1187.5 1229.5l0 3M1190.5 1232.5l0 0M1189.5 980.5l1 0M1186.5 983.5l4 0M1183.5 986.5l7 0M1180.5 989.5l10 0M1180 992.5l10.5 0M1180 995.5l10.5 0M1180 998.5l10.5 0M1180 1001.5l10.5 0M1180 1004.5l10.5 0M1180 1007.5l10.5 0M1180 1010.5l10.5 0M1180 1013.5l10.5 0M1180 1016.5l10.5 0M1180 1019.5l10.5 0M1180 1022.5l10.5 0M1180 1025.5l10.5 0M1180 1028.5l10.5 0M1180 1031.5l10.5 0M1180 1034.5l10.5 0M1180 1037.5l10.5 0M1180 1040.5l10.5 0M1180 1043.5l10.5 0M1180 1046.5l10.5 0M1180 1049.5l10.5 0M1180 1052.5l10.5 0M1180 1055.5l10.5 0M1180 1058.5l10.5 0M1180 1061.5l10.5 0M1180 1064.5l10.5 0M1180 1067.5l10.5 0M1180 1070.5l10.5 0M1180 1073.5l10.5 0M1180 1076.5l10.5 0M1180 1079.5l10.5 0M1180 1082.5l10.5 0M1180 1085.5l10.5 0M1180 1088.5l10.5 0M1180 1091.5l10.5 0M1180 1094.5l10.5 0M1180 1097.5l10.5 0M1180 1100.5l10.5 0M1180 1103.5l10.5 0M1180 1106.5l10.5 0M1180 1109.5l10.5 0M1180 1112.5l10.5 0M1180 1115.5l10.5 0M1180 1118.5l10.5 0M1180 1121.5l10.5 0M1180 1124.5l10.5 0M1180 1127.5l10.5 0M1180 1130.5l10.5 0M1180 1133.5l10.5 0M1180 1136.5l10.5 0M1180 1139.5l10.5 0M1180 1142.5l10.5 0M1180 1145.5l10.5 0M1180 1148.5l10.5 0M1180 1151.5l10.5 0M1180 1154.5l10.5 0M1180 1157.5l10.5 0M1180 1160.5l10.5 0M1180 1163.5l10.5 0M1180 1166.5l10.5 0M1180 1169.5l10.5 0M1180 1172.5l10.5 0M1180 1175.5l10.5 0M1180 1178.5l10.5 0M1180 1181.5l10.5 0M1180 1184.5l10.5 0M1180 1187.5l10.5 0M1180 1190.5l10.5 0M1180 1193.5l10.5 0M1180 1196.5l10.5 0M1180 1199.5l10.5 0M1180 1202.5l10.5 0M1180 1205.5l10.5 0M1180 1208.5l10.5 0M1180 1211.5l10.5 0M1180 1214.5l10.5 0M1180 1217.5l10.5 0M1180 1220.5l10.5 0M1181.5 1223.5l9 0M1184.5 1226.5l6 0M1187.5 1229.5l3 0M1190.5 1232.5l0 0M938.5 980.5l0 -1M941.5 983.5l0 -4M944.5 986.5l0 -7M947.5 989.5l0 -10M950.5 990l0 -10.5M953.5 990l0 -10.5M956.5 990l0 -10.5M959.5 990l0 -10.5M962.5 990l0 -10.5M965.5 990l0 -10.5M968.5 990l0 -10.5M971.5 990l0 -10.5M974.5 990l0 -10.5M977.5 990l0 -10.5M980.5 990l0 -10.5M983.5 990l0 -10.5M986.5 990l0 -10.5M989.5 990l0 -10.5M992.5 990l0 -10.5M995.5 990l0 -10.5M998.5 990l0 -10.5M1001.5 990l0 -10.5M1004.5 990l0 -10.5M1007.5 990l0 -10.5M1010.5 990l0 -10.5M1013.5 990l0 -10.5M1016.5 990l0 -10.5M1019.5 990l0 -10.5M1022.5 990l0 -10.5M1025.5 990l0 -10.5M1028.5 990l0 -10.5M1031.5 990l0 -10.5M1034.5 990l0 -10.5M1037.5 990l0 -10.5M1040.5 990l0 -10.5M1043.5 990l0 -10.5M1046.5 990l0 -10.5M1049.5 990l0 -10.5M1052.5 990l0 -10.5M1055.5 990l0 -10.5M1058.5 990l0 -10.5M1061.5 990l0 -10.5M1064.5 990l0 -10.5M1067.5 990l0 -10.5M1070.5 990l0 -10.5M1073.5 990l0 -10.5M1076.5 990l0 -10.5M1079.5 990l0 -10.5M1082.5 990l0 -10.5M1085.5 990l0 -10.5M1088.5 990l0 -10.5M1091.5 990l0 -10.5M1094.5 990l0 -10.5M1097.5 990l0 -10.5M1100.5 990l0 -10.5M1103.5 990l0 -10.5M1106.5 990l0 -10.5M1109.5 990l0 -10.5M1112.5 990l0 -10.5M1115.5 990l0 -10.5M1118.5 990l0 -10.5M1121.5 990l0 -10.5M1124.5 990l0 -10.5M1127.5 990l0 -10.5M1130.5 990l0 -10.5M1133.5 990l0 -10.5M1136.5 990l0 -10.5M1139.5 990l0 -10.5M1142.5 990l0 -10.5M1145.5 990l0 -10.5M1148.5 990l0 -10.5M1151.5 990l0 -10.5M1154.5 990l0 -10.5M1157.5 990l0 -10.5M1160.5 990l0 -10.5M1163.5 990l0 -10.5M1166.5 990l0 -10.5M1169.5 990l0 -10.5M1172.5 990l0 -10.5M1175.5 990l0 -10.5M1178.5 990l0 -10.5M1181.5 988.5l0 -9M1184.5 985.5l0 -6M1187.5 982.5l0 -3M1190.5 979.5l0 0M938.5 980.5l-1 0M941.5 983.5l-4 0M944.5 986.5l-7 0M947.5 989.5l-10 0M948 992.5l-10.5 0M948 995.5l-10.5 0M948 998.5l-10.5 0M948 1001.5l-10.5 0M948 1004.5l-10.5 0M948 1007.5l-10.5 0M948 1010.5l-10.5 0M948 1013.5l-10.5 0M948 1016.5l-10.5 0M948 1019.5l-10.5 0M948 1022.5l-10.5 0M948 1025.5l-10.5 0M948 1028.5l-10.5 0M948 1031.5l-10.5 0M948 1034.5l-10.5 0M948 1037.5l-10.5 0M948 1040.5l-10.5 0M948 1043.5l-10.5 0M948 1046.5l-10.5 0M948 1049.5l-10.5 0M948 1052.5l-10.5 0M948 1055.5l-10.5 0M948 1058.5l-10.5 0M948 1061.5l-10.5 0M948 1064.5l-10.5 0M948 1067.5l-10.5 0M948 1070.5l-10.5 0M948 1073.5l-10.5 0M948 1076.5l-10.5 0M948 1079.5l-10.5 0M948 1082.5l-10.5 0M948 1085.5l-10.5 0M948 1088.5l-10.5 0M948 1091.5l-10.5 0M948 1094.5l-10.5 0M948 1097.5l-10.5 0M948 1100.5l-10.5 0M948 1103.5l-10.5 0M948 1106.5l-10.5 0M948 1109.5l-10.5 0M948 1112.5l-10.5 0M948 1115.5l-10.5 0M948 1118.5l-10.5 0M948 1121.5l-10.5 0M948 1124.5l-10.5 0M948 1127.5l-10.5 0M948 1130.5l-10.5 0M948 1133.5l-10.5 0M948 1136.5l-10.5 0M948 1139.5l-10.5 0M948 1142.5l-10.5 0M948 1145.5l-10.5 0M948 1148.5l-10.5 0M948 1151.5l-10.5 0M948 1154.5l-10.5 0M948 1157.5l-10.5 0M948 1160.5l-10.5 0M948 1163.5l-10.5 0M948 1166.5l-10.5 0M948 1169.5l-10.5 0M948 1172.5l-10.5 0M948 1175.5l-10.5 0M948 1178.5l-10.5 0M948 1181.5l-10.5 0M948 1184.5l-10.5 0M948 1187.5l-10.5 0M948 1190.5l-10.5 0M948 1193.5l-10.5 0M948 1196.5l-10.5 0M948 1199.5l-10.5 0M948 1202.5l-10.5 0M948 1205.5l-10.5 0M948 1208.5l-10.5 0M948 1211.5l-10.5 0M948 1214.5l-10.5 0M948 1217.5l-10.5 0M948 1220.5l-10.5 0M946.5 1223.5l-9 0M943.5 1226.5l-6 0M940.5 1229.5l-3 0M937.5 1232.5l0 0M950.5 1219.5l0 2.5M953.5 1216.5l0 5.5M956.5 1213.5l0 8.5M959.5 1212.3l0 9.7M962.5 1212.3l0 9.7M965.5 1212.3l0 9.7M968.5 1212.3l0 9.7M971.5 1212.3l0 9.7M974.5 1212.3l0 9.7M977.5 1212.3l0 9.7M980.5 1212.3l0 9.7M983.5 1212.3l0 9.7M986.5 1212.3l0 9.7M989.5 1212.3l0 9.7M992.5 1212.3l0 9.7M995.5 1212.3l0 9.7M998.5 1212.3l0 9.7M1001.5 1212.3l0 9.7M1004.5 1212.3l0 9.7M1007.5 1212.3l0 9.7M1010.5 1212.3l0 9.7M1013.5 1212.3l0 9.7M1016.5 1212.3l0 9.7M1019.5 1212.3l0 9.7M1022.5 1212.3l0 9.7M1025.5 1212.3l0 9.7M1028.5 1212.3l0 9.7M1031.5 1212.3l0 9.7M1034.5 1212.3l0 9.7M1037.5 1212.3l0 9.7M1040.5 1212.3l0 9.7M1043.5 1212.3l0 9.7M1046.5 1212.3l0 9.7M1049.5 1212.3l0 9.7M1052.5 1212.3l0 9.7M1055.5 1212.3l0 9.7M1058.5 1212.3l0 9.7M1061.5 1212.3l0 9.7M1064.5 1212.3l0 9.7M1067.5 1212.3l0 9.7M1070.5 1212.3l0 9.7M1073.5 1212.3l0 9.7M1076.5 1212.3l0 9.7M1079.5 1212.3l0 9.7M1082.5 1212.3l0 9.7M1085.5 1212.3l0 9.7M1088.5 1212.3l0 9.7M1091.5 1212.3l0 9.7M1094.5 1212.3l0 9.7M1097.5 1212.3l0 9.7M1100.5 1212.3l0 9.7M1103.5 1212.3l0 9.7M1106.5 1212.3l0 9.7M1109.5 1212.3l0 9.7M1112.5 1212.3l0 9.7M1115.5 1212.3l0 9.7M1118.5 1212.3l0 9.7M1121.5 1212.3l0 9.7M1124.5 1212.3l0 9.7M1127.5 1212.3l0 9.7M1130.5 1212.3l0 9.7M1133.5 1212.3l0 9.7M1136.5 1212.3l0 9.7M1139.5 1212.3l0 9.7M1142.5 1212.3l0 9.7M1145.5 1212.3l0 9.7M1148.5 1212.3l0 9.7M1151.5 1212.3l0 9.7M1154.5 1212.3l0 9.7M1157.5 1212.3l0 9.7M1160.5 1212.3l0 9.7M1163.5 1212.3l0 9.7M1166.5 1212.3l0 9.7M1169.5 1212.3l0 9.7M1172.5 1214.5l0 7.5M1175.5 1217.5l0 4.5M1178.5 1220.5l0 1.5M1177.5 992.5l2.5 0M1174.5 995.5l5.5 0M1171.5 998.5l8.5 0M1170.3 1001.5l9.7 0M1170.3 1004.5l9.7 0M1170.3 1007.5l9.7 0M1170.3 1010.5l9.7 0M1170.3 1013.5l9.7 0M1170.3 1016.5l9.7 0M1170.3 1019.5l9.7 0M1170.3 1022.5l9.7 0M1170.3 1025.5l9.7 0M1170.3 1028.5l9.7 0M1170.3 1031.5l9.7 0M1170.3 1034.5l9.7 0M1170.3 1037.5l9.7 0M1170.3 1040.5l9.7 0M1170.3 1043.5l9.7 0M1170.3 1046.5l9.7 0M1170.3 1049.5l9.7 0M1170.3 1052.5l9.7 0M1170.3 1055.5l9.7 0M1170.3 1058.5l9.7 0M1170.3 1061.5l9.7 0M1170.3 1064.5l9.7 0M1170.3 1067.5l9.7 0M1170.3 1070.5l9.7 0M1170.3 1073.5l9.7 0M1170.3 1076.5l9.7 0M1170.3 1079.5l9.7 0M1170.3 1082.5l9.7 0M1170.3 1085.5l9.7 0M1170.3 1088.5l9.7 0M1170.3 1091.5l9.7 0M1170.3 1094.5l9.7 0M1170.3 1097.5l9.7 0M1170.3 1100.5l9.7 0M1170.3 1103.5l9.7 0M1170.3 1106.5l9.7 0M1170.3 1109.5l9.7 0M1170.3 1112.5l9.7 0M1170.3 1115.5l9.7 0M1170.3 1118.5l9.7 0M1170.3 1121.5l9.7 0M1170.3 1124.5l9.7 0M1170.3 1127.5l9.7 0M1170.3 1130.5l9.7 0M1170.3 1133.5l9.7 0M1170.3 1136.5l9.7 0M1170.3 1139.5l9.7 0M1170.3 1142.5l9.7 0M1170.3 1145.5l9.7 0M1170.3 1148.5l9.7 0M1170.3 1151.5l9.7 0M1170.3 1154.5l9.7 0M1170.3 1157.5l9.7 0M1170.3 1160.5l9.7 0M1170.3 1163.5l9.7 0M1170.3 1166.5l9.7 0M1170.3 1169.5l9.7 0M1170.3 1172.5l9.7 0M1170.3 1175.5l9.7 0M1170.3 1178.5l9.7 0M1170.3 1181.5l9.7 0M1170.3 1184.5l9.7 0M1170.3 1187.5l9.7 0M1170.3 1190.5l9.7 0M1170.3 1193.5l9.7 0M1170.3 1196.5l9.7 0M1170.3 1199.5l9.7 0M1170.3 1202.5l9.7 0M1170.3 1205.5l9.7 0M1170.3 1208.5l9.7 0M1170.3 1211.5l9.7 0M1172.5 1214.5l7.5 0M1175.5 1217.5l4.5 0M1178.5 1220.5l1.5 0M950.5 992.5l0 -2.5M953.5 995.5l0 -5.5M956.5 998.5l0 -8.5M959.5 999.7l0 -9.7M962.5 999.7l0 -9.7M965.5 999.7l0 -9.7M968.5 999.7l0 -9.7M971.5 999.7l0 -9.7M974.5 999.7l0 -9.7M977.5 999.7l0 -9.7M980.5 999.7l0 -9.7M983.5 999.7l0 -9.7M986.5 999.7l0 -9.7M989.5 999.7l0 -9.7M992.5 999.7l0 -9.7M995.5 999.7l0 -9.7M998.5 999.7l0 -9.7M1001.5 999.7l0 -9.7M1004.5 999.7l0 -9.7M1007.5 999.7l0 -9.7M1010.5 999.7l0 -9.7M1013.5 999.7l0 -9.7M1016.5 999.7l0 -9.7M1019.5 999.7l0 -9.7M1022.5 999.7l0 -9.7M1025.5 999.7l0 -9.7M1028.5 999.7l0 -9.7M1031.5 999.7l0 -9.7M1034.5 999.7l0 -9.7M1037.5 999.7l0 -9.7M1040.5 999.7l0 -9.7M1043.5 999.7l0 -9.7M1046.5 999.7l0 -9.7M1049.5 999.7l0 -9.7M1052.5 999.7l0 -9.7M1055.5 999.7l0 -9.7M1058.5 999.7l0 -9.7M1061.5 999.7l0 -9.7M1064.5 999.7l0 -9.7M1067.5 999.7l0 -9.7M1070.5 999.7l0 -9.7M1073.5 999.7l0 -9.7M1076.5 999.7l0 -9.7M1079.5 999.7l0 -9.7M1082.5 999.7l0 -9.7M1085.5 999.7l0 -9.7M1088.5 999.7l0 -9.7M1091.5 999.7l0 -9.7M1094.5 999.7l0 -9.7M1097.5 999.7l0 -9.7M1100.5 999.7l0 -9.7M1103.5 999.7l0 -9.7M1106.5 999.7l0 -9.7M1109.5 999.7l0 -9.7M1112.5 999.7l0 -9.7M1115.5 999.7l0 -9.7M1118.5 999.7l0 -9.7M1121.5 999.7l0 -9.7M1124.5 999.7l0 -9.7M1127.5 999.7l0 -9.7M1130.5 999.7l0 -9.7M1133.5 999.7l0 -9.7M1136.5 999.7l0 -9.7M1139.5 999.7l0 -9.7M1142.5 999.7l0 -9.7M1145.5 999.7l0 -9.7M1148.5 999.7l0 -9.7M1151.5 999.7l0 -9.7M1154.5 999.7l0 -9.7M1157.5 999.7l0 -9.7M1160.5 999.7l0 -9.7M1163.5 999.7l0 -9.7M1166.5 999.7l0 -9.7M1169.5 999.7l0 -9.7M1172.5 997.5l0 -7.5M1175.5 994.5l0 -4.5M1178.5 991.5l0 -1.5M950.5 992.5l-2.5 0M953.5 995.5l-5.5 0M956.5 998.5l-8.5 0M957.7 1001.5l-9.7 0M957.7 1004.5l-9.7 0M957.7 1007.5l-9.7 0M957.7 1010.5l-9.7 0M957.7 1013.5l-9.7 0M957.7 1016.5l-9.7 0M957.7 1019.5l-9.7 0M957.7 1022.5l-9.7 0M957.7 1025.5l-9.7 0M957.7 1028.5l-9.7 0M957.7 1031.5l-9.7 0M957.7 1034.5l-9.7 0M957.7 1037.5l-9.7 0M957.7 1040.5l-9.7 0M957.7 1043.5l-9.7 0M957.7 1046.5l-9.7 0M957.7 1049.5l-9.7 0M957.7 1052.5l-9.7 0M957.7 1055.5l-9.7 0M957.7 1058.5l-9.7 0M957.7 1061.5l-9.7 0M957.7 1064.5l-9.7 0M957.7 1067.5l-9.7 0M957.7 1070.5l-9.7 0M957.7 1073.5l-9.7 0M957.7 1076.5l-9.7 0M957.7 1079.5l-9.7 0M957.7 1082.5l-9.7 0M957.7 1085.5l-9.7 0M957.7 1088.5l-9.7 0M957.7 1091.5l-9.7 0M957.7 1094.5l-9.7 0M957.7 1097.5l-9.7 0M957.7 1100.5l-9.7 0M957.7 1103.5l-9.7 0M957.7 1106.5l-9.7 0M957.7 1109.5l-9.7 0M957.7 1112.5l-9.7 0M957.7 1115.5l-9.7 0M957.7 1118.5l-9.7 0M957.7 1121.5l-9.7 0M957.7 1124.5l-9.7 0M957.7 1127.5l-9.7 0M957.7 1130.5l-9.7 0M957.7 1133.5l-9.7 0M957.7 1136.5l-9.7 0M957.7 1139.5l-9.7 0M957.7 1142.5l-9.7 0M957.7 1145.5l-9.7 0M957.7 1148.5l-9.7 0M957.7 1151.5l-9.7 0M957.7 1154.5l-9.7 0M957.7 1157.5l-9.7 0M957.7 1160.5l-9.7 0M957.7 1163.5l-9.7 0M957.7 1166.5l-9.7 0M957.7 1169.5l-9.7 0M957.7 1172.5l-9.7 0M957.7 1175.5l-9.7 0M957.7 1178.5l-9.7 0M957.7 1181.5l-9.7 0M957.7 1184.5l-9.7 0M957.7 1187.5l-9.7 0M957.7 1190.5l-9.7 0M957.7 1193.5l-9.7 0M957.7 1196.5l-9.7 0M957.7 1199.5l-9.7 0M957.7 1202.5l-9.7 0M957.7 1205.5l-9.7 0M957.7 1208.5l-9.7 0M957.7 1211.5l-9.7 0M955.5 1214.5l-7.5 0M952.5 1217.5l-4.5 0M949.5 1220.5l-1.5 0M968.5 1201.5l0 2.9M971.5 1198.5l0 5.9M974.5 1195.5l0 8.9M977.5 1192.5l0 11.9M980.5 1192.5l0 11.9M983.5 1192.5l0 11.9M986.5 1192.5l0 11.9M989.5 1192.5l0 11.9M992.5 1192.5l0 11.9M995.5 1192.5l0 11.9M998.5 1192.5l0 11.9M1001.5 1192.5l0 11.9M1004.5 1192.5l0 11.9M1007.5 1192.5l0 11.9M1010.5 1192.5l0 11.9M1013.5 1192.5l0 11.9M1016.5 1192.5l0 11.9M1019.5 1192.5l0 11.9M1022.5 1192.5l0 11.9M1025.5 1192.5l0 11.9M1028.5 1192.5l0 11.9M1031.5 1192.5l0 11.9M1034.5 1192.5l0 11.9M1037.5 1192.5l0 11.9M1040.5 1192.5l0 11.9M1043.5 1192.5l0 11.9M1046.5 1192.5l0 11.9M1049.5 1192.5l0 11.9M1052.5 1192.5l0 11.9M1055.5 1192.5l0 11.9M1058.5 1192.5l0 11.9M1061.5 1192.5l0 11.9M1064.5 1192.5l0 11.9M1067.5 1192.5l0 11.9M1070.5 1192.5l0 11.9M1073.5 1192.5l0 11.9M1076.5 1192.5l0 11.9M1079.5 1192.5l0 11.9M1082.5 1192.5l0 11.9M1085.5 1192.5l0 11.9M1088.5 1192.5l0 11.9M1091.5 1192.5l0 11.9M1094.5 1192.5l0 11.9M1097.5 1192.5l0 11.9M1100.5 1192.5l0 11.9M1103.5 1192.5l0 11.9M1106.5 1192.5l0 11.9M1109.5 1192.5l0 11.9M1112.5 1192.5l0 11.9M1115.5 1192.5l0 11.9M1118.5 1192.5l0 11.9M1121.5 1192.5l0 11.9M1124.5 1192.5l0 11.9M1127.5 1192.5l0 11.9M1130.5 1192.5l0 11.9M1133.5 1192.5l0 11.9M1136.5 1192.5l0 11.9M1139.5 1192.5l0 11.9M1142.5 1192.5l0 11.9M1145.5 1192.5l0 11.9M1148.5 1192.5l0 11.9M1151.5 1193.5l0 10.9M1154.5 1196.5l0 7.9M1157.5 1199.5l0 4.9M1160.5 1202.5l0 1.9M1159.5 1010.5l2.9 0M1156.5 1013.5l5.9 0M1153.5 1016.5l8.9 0M1150.5 1019.5l11.9 0M1150.5 1022.5l11.9 0M1150.5 1025.5l11.9 0M1150.5 1028.5l11.9 0M1150.5 1031.5l11.9 0M1150.5 1034.5l11.9 0M1150.5 1037.5l11.9 0M1150.5 1040.5l11.9 0M1150.5 1043.5l11.9 0M1150.5 1046.5l11.9 0M1150.5 1049.5l11.9 0M1150.5 1052.5l11.9 0M1150.5 1055.5l11.9 0M1150.5 1058.5l11.9 0M1150.5 1061.5l11.9 0M1150.5 1064.5l11.9 0M1150.5 1067.5l11.9 0M1150.5 1070.5l11.9 0M1150.5 1073.5l11.9 0M1150.5 1076.5l11.9 0M1150.5 1079.5l11.9 0M1150.5 1082.5l11.9 0M1150.5 1085.5l11.9 0M1150.5 1088.5l11.9 0M1150.5 1091.5l11.9 0M1150.5 1094.5l11.9 0M1150.5 1097.5l11.9 0M1150.5 1100.5l11.9 0M1150.5 1103.5l11.9 0M1150.5 1106.5l11.9 0M1150.5 1109.5l11.9 0M1150.5 1112.5l11.9 0M1150.5 1115.5l11.9 0M1150.5 1118.5l11.9 0M1150.5 1121.5l11.9 0M1150.5 1124.5l11.9 0M1150.5 1127.5l11.9 0M1150.5 1130.5l11.9 0M1150.5 1133.5l11.9 0M1150.5 1136.5l11.9 0M1150.5 1139.5l11.9 0M1150.5 1142.5l11.9 0M1150.5 1145.5l11.9 0M1150.5 1148.5l11.9 0M1150.5 1151.5l11.9 0M1150.5 1154.5l11.9 0M1150.5 1157.5l11.9 0M1150.5 1160.5l11.9 0M1150.5 1163.5l11.9 0M1150.5 1166.5l11.9 0M1150.5 1169.5l11.9 0M1150.5 1172.5l11.9 0M1150.5 1175.5l11.9 0M1150.5 1178.5l11.9 0M1150.5 1181.5l11.9 0M1150.5 1184.5l11.9 0M1150.5 1187.5l11.9 0M1150.5 1190.5l11.9 0M1151.5 1193.5l10.9 0M1154.5 1196.5l7.9 0M1157.5 1199.5l4.9 0M1160.5 1202.5l1.9 0M968.5 1010.5l0 -2.9M971.5 1013.5l0 -5.9M974.5 1016.5l0 -8.9M977.5 1019.5l0 -11.9M980.5 1019.5l0 -11.9M983.5 1019.5l0 -11.9M986.5 1019.5l0 -11.9M989.5 1019.5l0 -11.9M992.5 1019.5l0 -11.9M995.5 1019.5l0 -11.9M998.5 1019.5l0 -11.9M1001.5 1019.5l0 -11.9M1004.5 1019.5l0 -11.9M1007.5 1019.5l0 -11.9M1010.5 1019.5l0 -11.9M1013.5 1019.5l0 -11.9M1016.5 1019.5l0 -11.9M1019.5 1019.5l0 -11.9M1022.5 1019.5l0 -11.9M1025.5 1019.5l0 -11.9M1028.5 1019.5l0 -11.9M1031.5 1019.5l0 -11.9M1034.5 1019.5l0 -11.9M1037.5 1019.5l0 -11.9M1040.5 1019.5l0 -11.9M1043.5 1019.5l0 -11.9M1046.5 1019.5l0 -11.9M1049.5 1019.5l0 -11.9M1052.5 1019.5l0 -11.9M1055.5 1019.5l0 -11.9M1058.5 1019.5l0 -11.9M1061.5 1019.5l0 -11.9M1064.5 1019.5l0 -11.9M1067.5 1019.5l0 -11.9M1070.5 1019.5l0 -11.9M1073.5 1019.5l0 -11.9M1076.5 1019.5l0 -11.9M1079.5 1019.5l0 -11.9M1082.5 1019.5l0 -11.9M1085.5 1019.5l0 -11.9M1088.5 1019.5l0 -11.9M1091.5 1019.5l0 -11.9M1094.5 1019.5l0 -11.9M1097.5 1019.5l0 -11.9M1100.5 1019.5l0 -11.9M1103.5 1019.5l0 -11.9M1106.5 1019.5l0 -11.9M1109.5 1019.5l0 -11.9M1112.5 1019.5l0 -11.9M1115.5 1019.5l0 -11.9M1118.5 1019.5l0 -11.9M1121.5 1019.5l0 -11.9M1124.5 1019.5l0 -11.9M1127.5 1019.5l0 -11.9M1130.5 1019.5l0 -11.9M1133.5 1019.5l0 -11.9M1136.5 1019.5l0 -11.9M1139.5 1019.5l0 -11.9M1142.5 1019.5l0 -11.9M1145.5 1019.5l0 -11.9M1148.5 1019.5l0 -11.9M1151.5 1018.5l0 -10.9M1154.5 1015.5l0 -7.9M1157.5 1012.5l0 -4.9M1160.5 1009.5l0 -1.9M968.5 1010.5l-2.9 0M971.5 1013.5l-5.9 0M974.5 1016.5l-8.9 0M977.5 1019.5l-11.9 0M977.5 1022.5l-11.9 0M977.5 1025.5l-11.9 0M977.5 1028.5l-11.9 0M977.5 1031.5l-11.9 0M977.5 1034.5l-11.9 0M977.5 1037.5l-11.9 0M977.5 1040.5l-11.9 0M977.5 1043.5l-11.9 0M977.5 1046.5l-11.9 0M977.5 1049.5l-11.9 0M977.5 1052.5l-11.9 0M977.5 1055.5l-11.9 0M977.5 1058.5l-11.9 0M977.5 1061.5l-11.9 0M977.5 1064.5l-11.9 0M977.5 1067.5l-11.9 0M977.5 1070.5l-11.9 0M977.5 1073.5l-11.9 0M977.5 1076.5l-11.9 0M977.5 1079.5l-11.9 0M977.5 1082.5l-11.9 0M977.5 1085.5l-11.9 0M977.5 1088.5l-11.9 0M977.5 1091.5l-11.9 0M977.5 1094.5l-11.9 0M977.5 1097.5l-11.9 0M977.5 1100.5l-11.9 0M977.5 1103.5l-11.9 0M977.5 1106.5l-11.9 0M977.5 1109.5l-11.9 0M977.5 1112.5l-11.9 0M977.5 1115.5l-11.9 0M977.5 1118.5l-11.9 0M977.5 1121.5l-11.9 0M977.5 1124.5l-11.9 0M977.5 1127.5l-11.9 0M977.5 1130.5l-11.9 0M977.5 1133.5l-11.9 0M977.5 1136.5l-11.9 0M977.5 1139.5l-11.9 0M977.5 1142.5l-11.9 0M977.5 1145.5l-11.9 0M977.5 1148.5l-11.9 0M977.5 1151.5l-11.9 0M977.5 1154.5l-11.9 0M977.5 1157.5l-11.9 0M977.5 1160.5l-11.9 0M977.5 1163.5l-11.9 0M977.5 1166.5l-11.9 0M977.5 1169.5l-11.9 0M977.5 1172.5l-11.9 0M977.5 1175.5l-11.9 0M977.5 1178.5l-11.9 0M977.5 1181.5l-11.9 0M977.5 1184.5l-11.9 0M977.5 1187.5l-11.9 0M977.5 1190.5l-11.9 0M976.5 1193.5l-10.9 0M973.5 1196.5l-7.9 0M970.5 1199.5l-4.9 0M967.5 1202.5l-1.9 0M986.5 1183.5l0 0.4M989.5 1180.5l0 3.4M992.5 1177.5l0 6.4M995.5 1174.5l0 9.4M998.5 1171.5l0 12.4M1001.5 1171.1l0 12.8M1004.5 1171.1l0 12.8M1007.5 1171.1l0 12.8M1010.5 1171.1l0 12.8M1013.5 1171.1l0 12.8M1016.5 1171.1l0 12.8M1019.5 1171.1l0 12.8M1022.5 1171.1l0 12.8M1025.5 1171.1l0 12.8M1028.5 1171.1l0 12.8M1031.5 1171.1l0 12.8M1034.5 1171.1l0 12.8M1037.5 1171.1l0 12.8M1040.5 1171.1l0 12.8M1043.5 1171.1l0 12.8M1046.5 1171.1l0 12.8M1049.5 1171.1l0 12.8M1052.5 1171.1l0 12.8M1055.5 1171.1l0 12.8M1058.5 1171.1l0 12.8M1061.5 1171.1l0 12.8M1064.5 1171.1l0 12.8M1067.5 1171.1l0 12.8M1070.5 1171.1l0 12.8M1073.5 1171.1l0 12.8M1076.5 1171.1l0 12.8M1079.5 1171.1l0 12.8M1082.5 1171.1l0 12.8M1085.5 1171.1l0 12.8M1088.5 1171.1l0 12.8M1091.5 1171.1l0 12.8M1094.5 1171.1l0 12.8M1097.5 1171.1l0 12.8M1100.5 1171.1l0 12.8M1103.5 1171.1l0 12.8M1106.5 1171.1l0 12.8M1109.5 1171.1l0 12.8M1112.5 1171.1l0 12.8M1115.5 1171.1l0 12.8M1118.5 1171.1l0 12.8M1121.5 1171.1l0 12.8M1124.5 1171.1l0 12.8M1127.5 1171.1l0 12.8M1130.5 1172.5l0 11.4M1133.5 1175.5l0 8.4M1136.5 1178.5l0 5.4M1139.5 1181.5l0 2.4M1141.5 1028.5l0.4 0M1138.5 1031.5l3.4 0M1135.5 1034.5l6.4 0M1132.5 1037.5l9.4 0M1129.5 1040.5l12.4 0M1129.1 1043.5l12.8 0M1129.1 1046.5l12.8 0M1129.1 1049.5l12.8 0M1129.1 1052.5l12.8 0M1129.1 1055.5l12.8 0M1129.1 1058.5l12.8 0M1129.1 1061.5l12.8 0M1129.1 1064.5l12.8 0M1129.1 1067.5l12.8 0M1129.1 1070.5l12.8 0M1129.1 1073.5l12.8 0M1129.1 1076.5l12.8 0M1129.1 1079.5l12.8 0M1129.1 1082.5l12.8 0M1129.1 1085.5l12.8 0M1129.1 1088.5l12.8 0M1129.1 1091.5l12.8 0M1129.1 1094.5l12.8 0M1129.1 1097.5l12.8 0M1129.1 1100.5l12.8 0M1129.1 1103.5l12.8 0M1129.1 1106.5l12.8 0M1129.1 1109.5l12.8 0M1129.1 1112.5l12.8 0M1129.1 1115.5l12.8 0M1129.1 1118.5l12.8 0M1129.1 1121.5l12.8 0M1129.1 1124.5l12.8 0M1129.1 1127.5l12.8 0M1129.1 1130.5l12.8 0M1129.1 1133.5l12.8 0M1129.1 1136.5l12.8 0M1129.1 1139.5l12.8 0M1129.1 1142.5l12.8 0M1129.1 1145.5l12.8 0M1129.1 1148.5l12.8 0M1129.1 1151.5l12.8 0M1129.1 1154.5l12.8 0M1129.1 1157.5l12.8 0M1129.1 1160.5l12.8 0M1129.1 1163.5l12.8 0M1129.1 1166.5l12.8 0M1129.1 1169.5l12.8 0M1130.5 1172.5l11.4 0M1133.5 1175.5l8.4 0M1136.5 1178.5l5.4 0M1139.5 1181.5l2.4 0M986.5 1028.5l0 -0.4M989.5 1031.5l0 -3.4M992.5 1034.5l0 -6.4M995.5 1037.5l0 -9.4M998.5 1040.5l0 -12.4M1001.5 1040.9l0 -12.8M1004.5 1040.9l0 -12.8M1007.5 1040.9l0 -12.8M1010.5 1040.9l0 -12.8M1013.5 1040.9l0 -12.8M1016.5 1040.9l0 -12.8M1019.5 1040.9l0 -12.8M1022.5 1040.9l0 -12.8M1025.5 1040.9l0 -12.8M1028.5 1040.9l0 -12.8M1031.5 1040.9l0 -12.8M1034.5 1040.9l0 -12.8M1037.5 1040.9l0 -12.8M1040.5 1040.9l0 -12.8M1043.5 1040.9l0 -12.8M1046.5 1040.9l0 -12.8M1049.5 1040.9l0 -12.8M1052.5 1040.9l0 -12.8M1055.5 1040.9l0 -12.8M1058.5 1040.9l0 -12.8M1061.5 1040.9l0 -12.8M1064.5 1040.9l0 -12.8M1067.5 1040.9l0 -12.8M1070.5 1040.9l0 -12.8M1073.5 1040.9l0 -12.8M1076.5 1040.9l0 -12.8M1079.5 1040.9l0 -12.8M1082.5 1040.9l0 -12.8M1085.5 1040.9l0 -12.8M1088.5 1040.9l0 -12.8M1091.5 1040.9l0 -12.8M1094.5 1040.9l0 -12.8M1097.5 1040.9l0 -12.8M1100.5 1040.9l0 -12.8M1103.5 1040.9l0 -12.8M1106.5 1040.9l0 -12.8M1109.5 1040.9l0 -12.8M1112.5 1040.9l0 -12.8M1115.5 1040.9l0 -12.8M1118.5 1040.9l0 -12.8M1121.5 1040.9l0 -12.8M1124.5 1040.9l0 -12.8M1127.5 1040.9l0 -12.8M1130.5 1039.5l0 -11.4M1133.5 1036.5l0 -8.4M1136.5 1033.5l0 -5.4M1139.5 1030.5l0 -2.4M986.5 1028.5l-0.4 0M989.5 1031.5l-3.4 0M992.5 1034.5l-6.4 0M995.5 1037.5l-9.4 0M998.5 1040.5l-12.4 0M998.9 1043.5l-12.8 0M998.9 1046.5l-12.8 0M998.9 1049.5l-12.8 0M998.9 1052.5l-12.8 0M998.9 1055.5l-12.8 0M998.9 1058.5l-12.8 0M998.9 1061.5l-12.8 0M998.9 1064.5l-12.8 0M998.9 1067.5l-12.8 0M998.9 1070.5l-12.8 0M998.9 1073.5l-12.8 0M998.9 1076.5l-12.8 0M998.9 1079.5l-12.8 0M998.9 1082.5l-12.8 0M998.9 1085.5l-12.8 0M998.9 1088.5l-12.8 0M998.9 1091.5l-12.8 0M998.9 1094.5l-12.8 0M998.9 1097.5l-12.8 0M998.9 1100.5l-12.8 0M998.9 1103.5l-12.8 0M998.9 1106.5l-12.8 0M998.9 1109.5l-12.8 0M998.9 1112.5l-12.8 0M998.9 1115.5l-12.8 0M998.9 1118.5l-12.8 0M998.9 1121.5l-12.8 0M998.9 1124.5l-12.8 0M998.9 1127.5l-12.8 0M998.9 1130.5l-12.8 0M998.9 1133.5l-12.8 0M998.9 1136.5l-12.8 0M998.9 1139.5l-12.8 0M998.9 1142.5l-12.8 0M998.9 1145.5l-12.8 0M998.9 1148.5l-12.8 0M998.9 1151.5l-12.8 0M998.9 1154.5l-12.8 0M998.9 1157.5l-12.8 0M998.9 1160.5l-12.8 0M998.9 1163.5l-12.8 0M998.9 1166.5l-12.8 0M998.9 1169.5l-12.8 0M997.5 1172.5l-11.4 0M994.5 1175.5l-8.4 0M991.5 1178.5l-5.4 0M988.5 1181.5l-2.4 0M1007.5 1162.5l0 0.4M1010.5 1159.5l0 3.4M1013.5 1156.5l0 6.4M1016.5 1153.5l0 9.4M1019.5 1150.5l0 12.4M1022.5 1150l0 12.9M1025.5 1150l0 12.9M1028.5 1150l0 12.9M1031.5 1150l0 12.9M1034.5 1150l0 12.9M1037.5 1150l0 12.9M1040.5 1150l0 12.9M1043.5 1150l0 12.9M1046.5 1150l0 12.9M1049.5 1150l0 12.9M1052.5 1150l0 12.9M1055.5 1150l0 12.9M1058.5 1150l0 12.9M1061.5 1150l0 12.9M1064.5 1150l0 12.9M1067.5 1150l0 12.9M1070.5 1150l0 12.9M1073.5 1150l0 12.9M1076.5 1150l0 12.9M1079.5 1150l0 12.9M1082.5 1150l0 12.9M1085.5 1150l0 12.9M1088.5 1150l0 12.9M1091.5 1150l0 12.9M1094.5 1150l0 12.9M1097.5 1150l0 12.9M1100.5 1150l0 12.9M1103.5 1150l0 12.9M1106.5 1150l0 12.9M1109.5 1151.5l0 11.4M1112.5 1154.5l0 8.4M1115.5 1157.5l0 5.4M1118.5 1160.5l0 2.4M1120.5 1049.5l0.4 0M1117.5 1052.5l3.4 0M1114.5 1055.5l6.4 0M1111.5 1058.5l9.4 0M1108.5 1061.5l12.4 0M1108 1064.5l12.9 0M1108 1067.5l12.9 0M1108 1070.5l12.9 0M1108 1073.5l12.9 0M1108 1076.5l12.9 0M1108 1079.5l12.9 0M1108 1082.5l12.9 0M1108 1085.5l12.9 0M1108 1088.5l12.9 0M1108 1091.5l12.9 0M1108 1094.5l12.9 0M1108 1097.5l12.9 0M1108 1100.5l12.9 0M1108 1103.5l12.9 0M1108 1106.5l12.9 0M1108 1109.5l12.9 0M1108 1112.5l12.9 0M1108 1115.5l12.9 0M1108 1118.5l12.9 0M1108 1121.5l12.9 0M1108 1124.5l12.9 0M1108 1127.5l12.9 0M1108 1130.5l12.9 0M1108 1133.5l12.9 0M1108 1136.5l12.9 0M1108 1139.5l12.9 0M1108 1142.5l12.9 0M1108 1145.5l12.9 0M1108 1148.5l12.9 0M1109.5 1151.5l11.4 0M1112.5 1154.5l8.4 0M1115.5 1157.5l5.4 0M1118.5 1160.5l2.4 0M1007.5 1049.5l0 -0.4M1010.5 1052.5l0 -3.4M1013.5 1055.5l0 -6.4M1016.5 1058.5l0 -9.4M1019.5 1061.5l0 -12.4M1022.5 1062l0 -12.9M1025.5 1062l0 -12.9M1028.5 1062l0 -12.9M1031.5 1062l0 -12.9M1034.5 1062l0 -12.9M1037.5 1062l0 -12.9M1040.5 1062l0 -12.9M1043.5 1062l0 -12.9M1046.5 1062l0 -12.9M1049.5 1062l0 -12.9M1052.5 1062l0 -12.9M1055.5 1062l0 -12.9M1058.5 1062l0 -12.9M1061.5 1062l0 -12.9M1064.5 1062l0 -12.9M1067.5 1062l0 -12.9M1070.5 1062l0 -12.9M1073.5 1062l0 -12.9M1076.5 1062l0 -12.9M1079.5 1062l0 -12.9M1082.5 1062l0 -12.9M1085.5 1062l0 -12.9M1088.5 1062l0 -12.9M1091.5 1062l0 -12.9M1094.5 1062l0 -12.9M1097.5 1062l0 -12.9M1100.5 1062l0 -12.9M1103.5 1062l0 -12.9M1106.5 1062l0 -12.9M1109.5 1060.5l0 -11.4M1112.5 1057.5l0 -8.4M1115.5 1054.5l0 -5.4M1118.5 1051.5l0 -2.4M1007.5 1049.5l-0.4 0M1010.5 1052.5l-3.4 0M1013.5 1055.5l-6.4 0M1016.5 1058.5l-9.4 0M1019.5 1061.5l-12.4 0M1020 1064.5l-12.9 0M1020 1067.5l-12.9 0M1020 1070.5l-12.9 0M1020 1073.5l-12.9 0M1020 1076.5l-12.9 0M1020 1079.5l-12.9 0M1020 1082.5l-12.9 0M1020 1085.5l-12.9 0M1020 1088.5l-12.9 0M1020 1091.5l-12.9 0M1020 1094.5l-12.9 0M1020 1097.5l-12.9 0M1020 1100.5l-12.9 0M1020 1103.5l-12.9 0M1020 1106.5l-12.9 0M1020 1109.5l-12.9 0M1020 1112.5l-12.9 0M1020 1115.5l-12.9 0M1020 1118.5l-12.9 0M1020 1121.5l-12.9 0M1020 1124.5l-12.9 0M1020 1127.5l-12.9 0M1020 1130.5l-12.9 0M1020 1133.5l-12.9 0M1020 1136.5l-12.9 0M1020 1139.5l-12.9 0M1020 1142.5l-12.9 0M1020 1145.5l-12.9 0M1020 1148.5l-12.9 0M1018.5 1151.5l-11.4 0M1015.5 1154.5l-8.4 0M1012.5 1157.5l-5.4 0M1009.5 1160.5l-2.4 0M1028.5 1141.5l0 1.2M1031.5 1138.5l0 4.2M1034.5 1135.5l0 7.2M1037.5 1132.5l0 10.2M1040.5 1130l0 12.6M1043.5 1130l0 12.6M1046.5 1130l0 12.6M1049.5 1130l0 12.6M1052.5 1130l0 12.6M1055.5 1130l0 12.6M1058.5 1130l0 12.6M1061.5 1130l0 12.6M1064.5 1130l0 12.6M1067.5 1130l0 12.6M1070.5 1130l0 12.6M1073.5 1130l0 12.6M1076.5 1130l0 12.6M1079.5 1130l0 12.6M1082.5 1130l0 12.6M1085.5 1130l0 12.6M1088.5 1130.5l0 12.2M1091.5 1133.5l0 9.2M1094.5 1136.5l0 6.2M1097.5 1139.5l0 3.2M1100.5 1142.5l0 0.2M1099.5 1070.5l1.2 0M1096.5 1073.5l4.2 0M1093.5 1076.5l7.2 0M1090.5 1079.5l10.2 0M1088 1082.5l12.6 0M1088 1085.5l12.6 0M1088 1088.5l12.6 0M1088 1091.5l12.6 0M1088 1094.5l12.6 0M1088 1097.5l12.6 0M1088 1100.5l12.6 0M1088 1103.5l12.6 0M1088 1106.5l12.6 0M1088 1109.5l12.6 0M1088 1112.5l12.6 0M1088 1115.5l12.6 0M1088 1118.5l12.6 0M1088 1121.5l12.6 0M1088 1124.5l12.6 0M1088 1127.5l12.6 0M1088.5 1130.5l12.2 0M1091.5 1133.5l9.2 0M1094.5 1136.5l6.2 0M1097.5 1139.5l3.2 0M1100.5 1142.5l0.2 0M1028.5 1070.5l0 -1.2M1031.5 1073.5l0 -4.2M1034.5 1076.5l0 -7.2M1037.5 1079.5l0 -10.2M1040.5 1082l0 -12.6M1043.5 1082l0 -12.6M1046.5 1082l0 -12.6M1049.5 1082l0 -12.6M1052.5 1082l0 -12.6M1055.5 1082l0 -12.6M1058.5 1082l0 -12.6M1061.5 1082l0 -12.6M1064.5 1082l0 -12.6M1067.5 1082l0 -12.6M1070.5 1082l0 -12.6M1073.5 1082l0 -12.6M1076.5 1082l0 -12.6M1079.5 1082l0 -12.6M1082.5 1082l0 -12.6M1085.5 1082l0 -12.6M1088.5 1081.5l0 -12.2M1091.5 1078.5l0 -9.2M1094.5 1075.5l0 -6.2M1097.5 1072.5l0 -3.2M1100.5 1069.5l0 -0.2M1028.5 1070.5l-1.2 0M1031.5 1073.5l-4.2 0M1034.5 1076.5l-7.2 0M1037.5 1079.5l-10.2 0M1040 1082.5l-12.6 0M1040 1085.5l-12.6 0M1040 1088.5l-12.6 0M1040 1091.5l-12.6 0M1040 1094.5l-12.6 0M1040 1097.5l-12.6 0M1040 1100.5l-12.6 0M1040 1103.5l-12.6 0M1040 1106.5l-12.6 0M1040 1109.5l-12.6 0M1040 1112.5l-12.6 0M1040 1115.5l-12.6 0M1040 1118.5l-12.6 0M1040 1121.5l-12.6 0M1040 1124.5l-12.6 0M1040 1127.5l-12.6 0M1039.5 1130.5l-12.2 0M1036.5 1133.5l-9.2 0M1033.5 1136.5l-6.2 0M1030.5 1139.5l-3.2 0M1027.5 1142.5l-0.2 0M1046.5 1123.5l0 0.7M1049.5 1120.5l0 3.7M1052.5 1117.5l0 6.7M1055.5 1114.5l0 9.7M1058.5 1111.5l0 12.7M1061.5 1108.5l0 15.7M1064.5 1106.5l0 17.7M1067.5 1109.5l0 14.7M1070.5 1112.5l0 11.7M1073.5 1115.5l0 8.7M1076.5 1118.5l0 5.7M1079.5 1121.5l0 2.7M1081.5 1088.5l0.7 0M1078.5 1091.5l3.7 0M1075.5 1094.5l6.7 0M1072.5 1097.5l9.7 0M1069.5 1100.5l12.7 0M1066.5 1103.5l15.7 0M1064.5 1106.5l17.7 0M1067.5 1109.5l14.7 0M1070.5 1112.5l11.7 0M1073.5 1115.5l8.7 0M1076.5 1118.5l5.7 0M1079.5 1121.5l2.7 0M1046.5 1088.5l0 -0.7M1049.5 1091.5l0 -3.7M1052.5 1094.5l0 -6.7M1055.5 1097.5l0 -9.7M1058.5 1100.5l0 -12.7M1061.5 1103.5l0 -15.7M1064.5 1105.5l0 -17.7M1067.5 1102.5l0 -14.7M1070.5 1099.5l0 -11.7M1073.5 1096.5l0 -8.7M1076.5 1093.5l0 -5.7M1079.5 1090.5l0 -2.7M1046.5 1088.5l-0.7 0M1049.5 1091.5l-3.7 0M1052.5 1094.5l-6.7 0M1055.5 1097.5l-9.7 0M1058.5 1100.5l-12.7 0M1061.5 1103.5l-15.7 0M1063.5 1106.5l-17.7 0M1060.5 1109.5l-14.7 0M1057.5 1112.5l-11.7 0M1054.5 1115.5l-8.7 0M1051.5 1118.5l-5.7 0M1048.5 1121.5l-2.7 0" stroke="#000" stroke-width="1" fill="none"/><path d="M1190.5 1232.5L1190.5 979.5L937.5 979.5L937.5 1232.5ZM1180.5 1222.5L1180.5 989.5L947.5 989.5L947.5 1222.5ZM1180.5 1222.5L1180.5 989.5L947.5 989.5L947.5 1222.5ZM1170.5 1212.5L1170.5 999.5L957.5 999.5L957.5 1212.5ZM1162.5 1204.5L1162.5 1007.5L965.5 1007.5L965.5 1204.5ZM1150.5 1192.5L1150.5 1019.5L977.5 1019.5L977.5 1192.5ZM1141.5 1183.5L1141.5 1028.5L986.5 1028.5L986.5 1183.5ZM1129.5 1171.5L1129.5 1040.5L998.5 1040.5L998.5 1171.5ZM1120.5 1162.5L1120.5 1049.5L1007.5 1049.5L1007.5 1162.5ZM1108.5 1150.5L1108.5 1061.5L1019.5 1061.5L1019.5 1150.5ZM1100.5 1142.5L1100.5 1069.5L1027.5 1069.5L1027.5 1142.5ZM1088.5 1130.5L1088.5 1081.5L1039.5 1081.5L1039.5 1130.5ZM1082.5 1124.5L1082.5 1087.5L1045.5 1087.5L1045.5 1124.5Z" stroke="#000" stroke-width="1" fill="none"/><path d="M1190.5 1232.5L1064 1106M1190.5 979.5L1064 1106M937.5 979.5L1064 1106M937.5 1232.5L1064 1106" stroke="#000" stroke-width="0.9" fill="none"/></g>
<path d="M901.4 910C901.4 910.8 902.2 913.4 901.4 914.9C900.6 916.4 898.6 917.7 896.6 919.3C894.6 920.9 891.3 922.5 889.1 924.6C886.9 926.7 884.2 929.6 883.2 932C882.2 934.4 882.2 936.4 882.8 938.7C883.4 941.1 884.7 944.2 886.9 946.1C889.1 948 892.9 949.6 895.8 949.9C898.6 950.1 901 948.9 904 947.6C907 946.4 910.6 943.6 913.7 942.4C916.8 941.2 921.1 940.9 922.6 940.6" stroke="#000" stroke-width="5" fill="none" stroke-linecap="round"/>
<path d="M901.4 910C901.4 910.8 902.2 913.4 901.4 914.9C900.6 916.4 898.6 917.7 896.6 919.3C894.6 920.9 891.3 922.5 889.1 924.6C886.9 926.7 884.2 929.6 883.2 932C882.2 934.4 882.2 936.4 882.8 938.7C883.4 941.1 884.7 944.2 886.9 946.1C889.1 948 892.9 949.6 895.8 949.9C898.6 950.1 901 948.9 904 947.6C907 946.4 910.6 943.6 913.7 942.4C916.8 941.2 921.1 940.9 922.6 940.6" stroke="#e6e6da" stroke-width="2.8" fill="none" stroke-linecap="round"/>
<path d="M931.5 939.5L938 935" stroke="#000" stroke-width="1.1" fill="none"/>
<circle cx="931.5" cy="939.5" r="4.2" fill="#e6e6da" stroke="#000" stroke-width="1.1"/>
<circle cx="922.6" cy="940.6" r="4.6" fill="#111"/>
<circle cx="922.6" cy="940.6" r="2.3" fill="none" stroke="#e6e6da" stroke-width="0.8" stroke-dasharray="1.2 1.6"/>
<path d="M901.4 1004.2C901.4 1003.5 902.3 1001.3 901.4 999.7C900.5 998.1 898.2 996.6 895.8 994.5C893.4 992.4 889.1 989.6 886.9 987C884.7 984.4 883.2 981.6 882.8 978.9C882.4 976.2 883.3 972.9 884.6 970.7C885.9 968.5 888 966.4 890.6 965.5C893.2 964.6 897.6 964.5 900.3 965.1C903 965.7 904.8 968 907 969.2C909.2 970.4 911.1 971.6 913.7 972.5C916.3 973.4 921.1 974.1 922.6 974.4" stroke="#000" stroke-width="5" fill="none" stroke-linecap="round"/>
<path d="M901.4 1004.2C901.4 1003.5 902.3 1001.3 901.4 999.7C900.5 998.1 898.2 996.6 895.8 994.5C893.4 992.4 889.1 989.6 886.9 987C884.7 984.4 883.2 981.6 882.8 978.9C882.4 976.2 883.3 972.9 884.6 970.7C885.9 968.5 888 966.4 890.6 965.5C893.2 964.6 897.6 964.5 900.3 965.1C903 965.7 904.8 968 907 969.2C909.2 970.4 911.1 971.6 913.7 972.5C916.3 973.4 921.1 974.1 922.6 974.4" stroke="#e6e6da" stroke-width="2.8" fill="none" stroke-linecap="round"/>
<path d="M931.5 974.5L938 980" stroke="#000" stroke-width="1.1" fill="none"/>
<circle cx="931.5" cy="974.5" r="4.2" fill="#e6e6da" stroke="#000" stroke-width="1.1"/>
<circle cx="922.6" cy="974.4" r="4.6" fill="#111"/>
<circle cx="922.6" cy="974.4" r="2.3" fill="none" stroke="#e6e6da" stroke-width="0.8" stroke-dasharray="1.2 1.6"/>
<path d="M1778.3 379.8L1870.5 303.3L1778.3 386.8Z" fill="#222" stroke="#000" stroke-width="1"/>
<g><path d="M1870.5 303.3L1638.7 273.8L1708.5 326.8ZM1778.3 379.8L1546.5 350.3L1708.5 326.8Z" fill="#bcbcb2"/><path d="M1546.5 350.3L1638.7 273.8L1644.7 278.4L1560.4 348.3ZM1778.3 379.8L1870.5 303.3L1856.6 305.3L1772.3 375.2ZM1570.2 346.9L1648.9 281.5L1655.5 286.5L1585.4 344.7ZM1768.1 372.1L1846.8 306.7L1831.6 308.9L1761.5 367.1ZM1595.3 343.2L1659.7 289.8L1667.2 295.4L1612.6 340.7ZM1757.3 363.8L1821.7 310.4L1804.4 312.9L1749.8 358.2ZM1623.6 339.1L1671.9 299L1678.1 303.7L1638 337ZM1745.1 354.6L1793.4 314.5L1779 316.6L1738.9 349.9ZM1650.2 335.3L1683.4 307.7L1688.4 311.5L1661.8 333.6ZM1733.6 345.9L1766.8 318.3L1755.2 320L1728.6 342.1ZM1673.2 331.9L1693.3 315.2L1699.6 320L1687.8 329.8ZM1723.7 338.4L1743.8 321.7L1729.2 323.8L1717.4 333.6ZM1699.3 328.1L1704.5 323.8L1708.5 326.8L1708.5 326.8ZM1712.5 329.8L1717.7 325.5L1708.5 326.8L1708.5 326.8Z" fill="#262624" stroke="#000" stroke-width="0.8" stroke-linejoin="round"/><path d="M1870.5 303.3L1638.7 273.8L1644.7 278.4L1856.6 305.3ZM1778.3 379.8L1546.5 350.3L1560.4 348.3L1772.3 375.2ZM1846.8 306.7L1648.9 281.5L1655.5 286.5L1831.6 308.9ZM1768.1 372.1L1570.2 346.9L1585.4 344.7L1761.5 367.1ZM1821.7 310.4L1659.7 289.8L1667.2 295.4L1804.4 312.9ZM1757.3 363.8L1595.3 343.2L1612.6 340.7L1749.8 358.2ZM1793.4 314.5L1671.9 299L1678.1 303.7L1779 316.6ZM1745.1 354.6L1623.6 339.1L1638 337L1738.9 349.9ZM1766.8 318.3L1683.4 307.7L1688.4 311.5L1755.2 320ZM1733.6 345.9L1650.2 335.3L1661.8 333.6L1728.6 342.1ZM1743.8 321.7L1693.3 315.2L1699.6 320L1729.2 323.8ZM1723.7 338.4L1673.2 331.9L1687.8 329.8L1717.4 333.6ZM1717.7 325.5L1704.5 323.8L1708.5 326.8L1708.5 326.8ZM1712.5 329.8L1699.3 328.1L1708.5 326.8L1708.5 326.8Z" fill="#5e5e58" stroke="#000" stroke-width="0.8" stroke-linejoin="round"/><path d="M1554.3 349.2l-4.2 -0.5M1559.6 347.6l-7.2 -0.9M1561.9 345.7l-7.2 -0.9M1564.2 343.8l-7.2 -0.9M1566.5 341.9l-7.2 -0.9M1568.9 340l-7.2 -0.9M1571.2 338l-7.2 -0.9M1573.5 336.1l-7.2 -0.9M1575.8 334.2l-7.2 -0.9M1578.1 332.3l-7.2 -0.9M1580.4 330.4l-7.2 -0.9M1582.7 328.5l-7.2 -0.9M1585 326.6l-7.2 -0.9M1587.3 324.6l-7.2 -0.9M1589.6 322.7l-7.2 -0.9M1591.9 320.8l-7.2 -0.9M1594.3 318.9l-7.2 -0.9M1596.6 317l-7.2 -0.9M1598.9 315.1l-7.2 -0.9M1601.2 313.1l-7.2 -0.9M1603.5 311.2l-7.2 -0.9M1605.8 309.3l-7.2 -0.9M1608.1 307.4l-7.2 -0.9M1610.4 305.5l-7.2 -0.9M1612.7 303.6l-7.2 -0.9M1615 301.6l-7.2 -0.9M1617.3 299.7l-7.2 -0.9M1619.6 297.8l-7.2 -0.9M1622 295.9l-7.2 -0.9M1624.3 294l-7.2 -0.9M1626.6 292.1l-7.2 -0.9M1628.9 290.2l-7.2 -0.9M1631.2 288.2l-7.2 -0.9M1633.5 286.3l-7.2 -0.9M1635.8 284.4l-7.2 -0.9M1638.1 282.5l-7.2 -0.9M1640.4 280.6l-7.2 -0.9M1642.7 278.7l-7.2 -0.9M1642.1 276.4l-4.2 -0.5M1866.6 303.9l0.6 -0.5M1862.4 304.5l1.7 -1.5M1858.3 305l2.9 -2.4M1855.3 304.6l2.9 -2.4M1852.4 304.3l2.9 -2.4M1849.4 303.9l2.9 -2.4M1846.4 303.5l2.9 -2.4M1843.4 303.1l2.9 -2.4M1840.5 302.7l2.9 -2.4M1837.5 302.4l2.9 -2.4M1834.5 302l2.9 -2.4M1831.5 301.6l2.9 -2.4M1828.6 301.2l2.9 -2.4M1825.6 300.8l2.9 -2.4M1822.6 300.5l2.9 -2.4M1819.6 300.1l2.9 -2.4M1816.7 299.7l2.9 -2.4M1813.7 299.3l2.9 -2.4M1810.7 299l2.9 -2.4M1807.7 298.6l2.9 -2.4M1804.8 298.2l2.9 -2.4M1801.8 297.8l2.9 -2.4M1798.8 297.4l2.9 -2.4M1795.8 297.1l2.9 -2.4M1792.9 296.7l2.9 -2.4M1789.9 296.3l2.9 -2.4M1786.9 295.9l2.9 -2.4M1783.9 295.5l2.9 -2.4M1780.9 295.2l2.9 -2.4M1778 294.8l2.9 -2.4M1775 294.4l2.9 -2.4M1772 294l2.9 -2.4M1769 293.7l2.9 -2.4M1766.1 293.3l2.9 -2.4M1763.1 292.9l2.9 -2.4M1760.1 292.5l2.9 -2.4M1757.1 292.1l2.9 -2.4M1754.2 291.8l2.9 -2.4M1751.2 291.4l2.9 -2.4M1748.2 291l2.9 -2.4M1745.2 290.6l2.9 -2.4M1742.3 290.2l2.9 -2.4M1739.3 289.9l2.9 -2.4M1736.3 289.5l2.9 -2.4M1733.3 289.1l2.9 -2.4M1730.4 288.7l2.9 -2.4M1727.4 288.4l2.9 -2.4M1724.4 288l2.9 -2.4M1721.4 287.6l2.9 -2.4M1718.5 287.2l2.9 -2.4M1715.5 286.8l2.9 -2.4M1712.5 286.5l2.9 -2.4M1709.5 286.1l2.9 -2.4M1706.5 285.7l2.9 -2.4M1703.6 285.3l2.9 -2.4M1700.6 284.9l2.9 -2.4M1697.6 284.6l2.9 -2.4M1694.6 284.2l2.9 -2.4M1691.7 283.8l2.9 -2.4M1688.7 283.4l2.9 -2.4M1685.7 283l2.9 -2.4M1682.7 282.7l2.9 -2.4M1679.8 282.3l2.9 -2.4M1676.8 281.9l2.9 -2.4M1673.8 281.5l2.9 -2.4M1670.8 281.2l2.9 -2.4M1667.9 280.8l2.9 -2.4M1664.9 280.4l2.9 -2.4M1661.9 280l2.9 -2.4M1658.9 279.6l2.9 -2.4M1656 279.3l2.9 -2.4M1653 278.9l2.9 -2.4M1650 278.5l2.9 -2.4M1647 278.1l2.9 -2.4M1644.1 277.7l2.9 -2.4M1642.2 276.4l1.7 -1.5M1640.4 275.1l0.6 -0.5M1774.9 377.2l4.2 0.5M1774.3 374.9l7.2 0.9M1776.6 373l7.2 0.9M1778.9 371.1l7.2 0.9M1781.2 369.2l7.2 0.9M1783.5 367.3l7.2 0.9M1785.8 365.4l7.2 0.9M1788.1 363.4l7.2 0.9M1790.4 361.5l7.2 0.9M1792.7 359.6l7.2 0.9M1795 357.7l7.2 0.9M1797.4 355.8l7.2 0.9M1799.7 353.9l7.2 0.9M1802 352l7.2 0.9M1804.3 350l7.2 0.9M1806.6 348.1l7.2 0.9M1808.9 346.2l7.2 0.9M1811.2 344.3l7.2 0.9M1813.5 342.4l7.2 0.9M1815.8 340.5l7.2 0.9M1818.1 338.5l7.2 0.9M1820.4 336.6l7.2 0.9M1822.7 334.7l7.2 0.9M1825.1 332.8l7.2 0.9M1827.4 330.9l7.2 0.9M1829.7 329l7.2 0.9M1832 327l7.2 0.9M1834.3 325.1l7.2 0.9M1836.6 323.2l7.2 0.9M1838.9 321.3l7.2 0.9M1841.2 319.4l7.2 0.9M1843.5 317.5l7.2 0.9M1845.8 315.6l7.2 0.9M1848.1 313.6l7.2 0.9M1850.5 311.7l7.2 0.9M1852.8 309.8l7.2 0.9M1855.1 307.9l7.2 0.9M1857.4 306l7.2 0.9M1862.7 304.4l4.2 0.5M1776.6 378.5l-0.6 0.5M1774.8 377.2l-1.7 1.5M1772.9 375.9l-2.9 2.4M1770 375.5l-2.9 2.4M1767 375.1l-2.9 2.4M1764 374.7l-2.9 2.4M1761 374.3l-2.9 2.4M1758.1 374l-2.9 2.4M1755.1 373.6l-2.9 2.4M1752.1 373.2l-2.9 2.4M1749.1 372.8l-2.9 2.4M1746.2 372.4l-2.9 2.4M1743.2 372.1l-2.9 2.4M1740.2 371.7l-2.9 2.4M1737.2 371.3l-2.9 2.4M1734.3 370.9l-2.9 2.4M1731.3 370.6l-2.9 2.4M1728.3 370.2l-2.9 2.4M1725.3 369.8l-2.9 2.4M1722.4 369.4l-2.9 2.4M1719.4 369l-2.9 2.4M1716.4 368.7l-2.9 2.4M1713.4 368.3l-2.9 2.4M1710.5 367.9l-2.9 2.4M1707.5 367.5l-2.9 2.4M1704.5 367.1l-2.9 2.4M1701.5 366.8l-2.9 2.4M1698.5 366.4l-2.9 2.4M1695.6 366l-2.9 2.4M1692.6 365.6l-2.9 2.4M1689.6 365.2l-2.9 2.4M1686.6 364.9l-2.9 2.4M1683.7 364.5l-2.9 2.4M1680.7 364.1l-2.9 2.4M1677.7 363.7l-2.9 2.4M1674.7 363.4l-2.9 2.4M1671.8 363l-2.9 2.4M1668.8 362.6l-2.9 2.4M1665.8 362.2l-2.9 2.4M1662.8 361.8l-2.9 2.4M1659.9 361.5l-2.9 2.4M1656.9 361.1l-2.9 2.4M1653.9 360.7l-2.9 2.4M1650.9 360.3l-2.9 2.4M1648 359.9l-2.9 2.4M1645 359.6l-2.9 2.4M1642 359.2l-2.9 2.4M1639 358.8l-2.9 2.4M1636.1 358.4l-2.9 2.4M1633.1 358.1l-2.9 2.4M1630.1 357.7l-2.9 2.4M1627.1 357.3l-2.9 2.4M1624.1 356.9l-2.9 2.4M1621.2 356.5l-2.9 2.4M1618.2 356.2l-2.9 2.4M1615.2 355.8l-2.9 2.4M1612.2 355.4l-2.9 2.4M1609.3 355l-2.9 2.4M1606.3 354.6l-2.9 2.4M1603.3 354.3l-2.9 2.4M1600.3 353.9l-2.9 2.4M1597.4 353.5l-2.9 2.4M1594.4 353.1l-2.9 2.4M1591.4 352.8l-2.9 2.4M1588.4 352.4l-2.9 2.4M1585.5 352l-2.9 2.4M1582.5 351.6l-2.9 2.4M1579.5 351.2l-2.9 2.4M1576.5 350.9l-2.9 2.4M1573.6 350.5l-2.9 2.4M1570.6 350.1l-2.9 2.4M1567.6 349.7l-2.9 2.4M1564.6 349.3l-2.9 2.4M1561.7 349l-2.9 2.4M1558.7 348.6l-2.9 2.4M1554.6 349.1l-1.7 1.5M1550.4 349.7l-0.6 0.5M1578.7 345.6l-4.7 -0.6M1584.4 344.1l-8.1 -1M1586.7 342.2l-8.1 -1M1589 340.3l-8.1 -1M1591.3 338.4l-8.1 -1M1593.6 336.5l-8.1 -1M1595.9 334.6l-8.1 -1M1598.2 332.7l-8.1 -1M1600.6 330.7l-8.1 -1M1602.9 328.8l-8.1 -1M1605.2 326.9l-8.1 -1M1607.5 325l-8.1 -1M1609.8 323.1l-8.1 -1M1612.1 321.2l-8.1 -1M1614.4 319.2l-8.1 -1M1616.7 317.3l-8.1 -1M1619 315.4l-8.1 -1M1621.3 313.5l-8.1 -1M1623.6 311.6l-8.1 -1M1626 309.7l-8.1 -1M1628.3 307.8l-8.1 -1M1630.6 305.8l-8.1 -1M1632.9 303.9l-8.1 -1M1635.2 302l-8.1 -1M1637.5 300.1l-8.1 -1M1639.8 298.2l-8.1 -1M1642.1 296.3l-8.1 -1M1644.4 294.3l-8.1 -1M1646.7 292.4l-8.1 -1M1649 290.5l-8.1 -1M1651.3 288.6l-8.1 -1M1653.7 286.7l-8.1 -1M1652.6 284.3l-4.7 -0.6M1841.6 307.5l0.9 -0.8M1837.5 308.1l2.1 -1.8M1833.4 308.6l3.2 -2.7M1830.4 308.3l3.2 -2.7M1827.4 307.9l3.2 -2.7M1824.4 307.5l3.2 -2.7M1821.5 307.1l3.2 -2.7M1818.5 306.7l3.2 -2.7M1815.5 306.4l3.2 -2.7M1812.5 306l3.2 -2.7M1809.6 305.6l3.2 -2.7M1806.6 305.2l3.2 -2.7M1803.6 304.8l3.2 -2.7M1800.6 304.5l3.2 -2.7M1797.7 304.1l3.2 -2.7M1794.7 303.7l3.2 -2.7M1791.7 303.3l3.2 -2.7M1788.7 303l3.2 -2.7M1785.8 302.6l3.2 -2.7M1782.8 302.2l3.2 -2.7M1779.8 301.8l3.2 -2.7M1776.8 301.4l3.2 -2.7M1773.8 301.1l3.2 -2.7M1770.9 300.7l3.2 -2.7M1767.9 300.3l3.2 -2.7M1764.9 299.9l3.2 -2.7M1761.9 299.5l3.2 -2.7M1759 299.2l3.2 -2.7M1756 298.8l3.2 -2.7M1753 298.4l3.2 -2.7M1750 298l3.2 -2.7M1747.1 297.6l3.2 -2.7M1744.1 297.3l3.2 -2.7M1741.1 296.9l3.2 -2.7M1738.1 296.5l3.2 -2.7M1735.2 296.1l3.2 -2.7M1732.2 295.8l3.2 -2.7M1729.2 295.4l3.2 -2.7M1726.2 295l3.2 -2.7M1723.3 294.6l3.2 -2.7M1720.3 294.2l3.2 -2.7M1717.3 293.9l3.2 -2.7M1714.3 293.5l3.2 -2.7M1711.4 293.1l3.2 -2.7M1708.4 292.7l3.2 -2.7M1705.4 292.3l3.2 -2.7M1702.4 292l3.2 -2.7M1699.4 291.6l3.2 -2.7M1696.5 291.2l3.2 -2.7M1693.5 290.8l3.2 -2.7M1690.5 290.5l3.2 -2.7M1687.5 290.1l3.2 -2.7M1684.6 289.7l3.2 -2.7M1681.6 289.3l3.2 -2.7M1678.6 288.9l3.2 -2.7M1675.6 288.6l3.2 -2.7M1672.7 288.2l3.2 -2.7M1669.7 287.8l3.2 -2.7M1666.7 287.4l3.2 -2.7M1663.7 287l3.2 -2.7M1660.8 286.7l3.2 -2.7M1657.8 286.3l3.2 -2.7M1654.8 285.9l3.2 -2.7M1652.9 284.6l2.1 -1.8M1651.1 283.3l0.9 -0.8M1764.4 369.3l4.7 0.6M1763.3 366.9l8.1 1M1765.7 365l8.1 1M1768 363.1l8.1 1M1770.3 361.2l8.1 1M1772.6 359.3l8.1 1M1774.9 357.3l8.1 1M1777.2 355.4l8.1 1M1779.5 353.5l8.1 1M1781.8 351.6l8.1 1M1784.1 349.7l8.1 1M1786.4 347.8l8.1 1M1788.7 345.8l8.1 1M1791 343.9l8.1 1M1793.4 342l8.1 1M1795.7 340.1l8.1 1M1798 338.2l8.1 1M1800.3 336.3l8.1 1M1802.6 334.4l8.1 1M1804.9 332.4l8.1 1M1807.2 330.5l8.1 1M1809.5 328.6l8.1 1M1811.8 326.7l8.1 1M1814.1 324.8l8.1 1M1816.4 322.9l8.1 1M1818.8 320.9l8.1 1M1821.1 319l8.1 1M1823.4 317.1l8.1 1M1825.7 315.2l8.1 1M1828 313.3l8.1 1M1830.3 311.4l8.1 1M1832.6 309.5l8.1 1M1838.3 308l4.7 0.6M1765.9 370.3l-0.9 0.8M1764.1 369l-2.1 1.8M1762.2 367.7l-3.2 2.7M1759.2 367.3l-3.2 2.7M1756.2 366.9l-3.2 2.7M1753.3 366.6l-3.2 2.7M1750.3 366.2l-3.2 2.7M1747.3 365.8l-3.2 2.7M1744.3 365.4l-3.2 2.7M1741.4 365l-3.2 2.7M1738.4 364.7l-3.2 2.7M1735.4 364.3l-3.2 2.7M1732.4 363.9l-3.2 2.7M1729.5 363.5l-3.2 2.7M1726.5 363.1l-3.2 2.7M1723.5 362.8l-3.2 2.7M1720.5 362.4l-3.2 2.7M1717.6 362l-3.2 2.7M1714.6 361.6l-3.2 2.7M1711.6 361.3l-3.2 2.7M1708.6 360.9l-3.2 2.7M1705.6 360.5l-3.2 2.7M1702.7 360.1l-3.2 2.7M1699.7 359.7l-3.2 2.7M1696.7 359.4l-3.2 2.7M1693.7 359l-3.2 2.7M1690.8 358.6l-3.2 2.7M1687.8 358.2l-3.2 2.7M1684.8 357.8l-3.2 2.7M1681.8 357.5l-3.2 2.7M1678.9 357.1l-3.2 2.7M1675.9 356.7l-3.2 2.7M1672.9 356.3l-3.2 2.7M1669.9 356l-3.2 2.7M1667 355.6l-3.2 2.7M1664 355.2l-3.2 2.7M1661 354.8l-3.2 2.7M1658 354.4l-3.2 2.7M1655.1 354.1l-3.2 2.7M1652.1 353.7l-3.2 2.7M1649.1 353.3l-3.2 2.7M1646.1 352.9l-3.2 2.7M1643.2 352.5l-3.2 2.7M1640.2 352.2l-3.2 2.7M1637.2 351.8l-3.2 2.7M1634.2 351.4l-3.2 2.7M1631.2 351l-3.2 2.7M1628.3 350.6l-3.2 2.7M1625.3 350.3l-3.2 2.7M1622.3 349.9l-3.2 2.7M1619.3 349.5l-3.2 2.7M1616.4 349.1l-3.2 2.7M1613.4 348.8l-3.2 2.7M1610.4 348.4l-3.2 2.7M1607.4 348l-3.2 2.7M1604.5 347.6l-3.2 2.7M1601.5 347.2l-3.2 2.7M1598.5 346.9l-3.2 2.7M1595.5 346.5l-3.2 2.7M1592.6 346.1l-3.2 2.7M1589.6 345.7l-3.2 2.7M1586.6 345.3l-3.2 2.7M1583.6 345l-3.2 2.7M1579.5 345.5l-2.1 1.8M1575.4 346.1l-0.9 0.8M1603 342.1l-4.2 -0.5M1610.8 340.9l-9.6 -1.2M1613.1 339l-9.6 -1.2M1615.4 337l-9.6 -1.2M1617.7 335.1l-9.6 -1.2M1620 333.2l-9.6 -1.2M1622.3 331.3l-9.6 -1.2M1624.6 329.4l-9.6 -1.2M1627 327.5l-9.6 -1.2M1629.3 325.6l-9.6 -1.2M1631.6 323.6l-9.6 -1.2M1633.9 321.7l-9.6 -1.2M1636.2 319.8l-9.6 -1.2M1638.5 317.9l-9.6 -1.2M1640.8 316l-9.6 -1.2M1643.1 314.1l-9.6 -1.2M1645.4 312.1l-9.6 -1.2M1647.7 310.2l-9.6 -1.2M1650 308.3l-9.6 -1.2M1652.3 306.4l-9.6 -1.2M1654.7 304.5l-9.6 -1.2M1657 302.6l-9.6 -1.2M1659.3 300.7l-9.6 -1.2M1661.6 298.7l-9.6 -1.2M1663.9 296.8l-9.6 -1.2M1666.2 294.9l-9.6 -1.2M1663.1 292.3l-4.2 -0.5M1816.7 311.1l0.9 -0.7M1812.5 311.7l2.1 -1.7M1808.3 312.3l3.3 -2.7M1804.8 312.4l3.8 -3.2M1801.8 312l3.8 -3.2M1798.8 311.7l3.8 -3.2M1795.9 311.3l3.8 -3.2M1792.9 310.9l3.8 -3.2M1789.9 310.5l3.8 -3.2M1786.9 310.1l3.8 -3.2M1784 309.8l3.8 -3.2M1781 309.4l3.8 -3.2M1778 309l3.8 -3.2M1775 308.6l3.8 -3.2M1772.1 308.2l3.8 -3.2M1769.1 307.9l3.8 -3.2M1766.1 307.5l3.8 -3.2M1763.1 307.1l3.8 -3.2M1760.2 306.7l3.8 -3.2M1757.2 306.3l3.8 -3.2M1754.2 306l3.8 -3.2M1751.2 305.6l3.8 -3.2M1748.2 305.2l3.8 -3.2M1745.3 304.8l3.8 -3.2M1742.3 304.5l3.8 -3.2M1739.3 304.1l3.8 -3.2M1736.3 303.7l3.8 -3.2M1733.4 303.3l3.8 -3.2M1730.4 302.9l3.8 -3.2M1727.4 302.6l3.8 -3.2M1724.4 302.2l3.8 -3.2M1721.5 301.8l3.8 -3.2M1718.5 301.4l3.8 -3.2M1715.5 301l3.8 -3.2M1712.5 300.7l3.8 -3.2M1709.6 300.3l3.8 -3.2M1706.6 299.9l3.8 -3.2M1703.6 299.5l3.8 -3.2M1700.6 299.2l3.8 -3.2M1697.7 298.8l3.8 -3.2M1694.7 298.4l3.8 -3.2M1691.7 298l3.8 -3.2M1688.7 297.6l3.8 -3.2M1685.8 297.3l3.8 -3.2M1682.8 296.9l3.8 -3.2M1679.8 296.5l3.8 -3.2M1676.8 296.1l3.8 -3.2M1673.8 295.7l3.8 -3.2M1670.9 295.4l3.8 -3.2M1667.9 295l3.8 -3.2M1665.5 294.1l3.3 -2.7M1663.7 292.8l2.1 -1.7M1661.9 291.4l0.9 -0.7M1753.9 361.3l4.2 0.5M1750.8 358.7l9.6 1.2M1753.1 356.8l9.6 1.2M1755.4 354.9l9.6 1.2M1757.7 352.9l9.6 1.2M1760 351l9.6 1.2M1762.3 349.1l9.6 1.2M1764.7 347.2l9.6 1.2M1767 345.3l9.6 1.2M1769.3 343.4l9.6 1.2M1771.6 341.5l9.6 1.2M1773.9 339.5l9.6 1.2M1776.2 337.6l9.6 1.2M1778.5 335.7l9.6 1.2M1780.8 333.8l9.6 1.2M1783.1 331.9l9.6 1.2M1785.4 330l9.6 1.2M1787.7 328l9.6 1.2M1790 326.1l9.6 1.2M1792.4 324.2l9.6 1.2M1794.7 322.3l9.6 1.2M1797 320.4l9.6 1.2M1799.3 318.5l9.6 1.2M1801.6 316.6l9.6 1.2M1803.9 314.6l9.6 1.2M1806.2 312.7l9.6 1.2M1814 311.5l4.2 0.5M1755.1 362.2l-0.9 0.7M1753.3 360.8l-2.1 1.7M1751.5 359.5l-3.3 2.7M1749.1 358.6l-3.8 3.2M1746.1 358.2l-3.8 3.2M1743.2 357.9l-3.8 3.2M1740.2 357.5l-3.8 3.2M1737.2 357.1l-3.8 3.2M1734.2 356.7l-3.8 3.2M1731.2 356.3l-3.8 3.2M1728.3 356l-3.8 3.2M1725.3 355.6l-3.8 3.2M1722.3 355.2l-3.8 3.2M1719.3 354.8l-3.8 3.2M1716.4 354.4l-3.8 3.2M1713.4 354.1l-3.8 3.2M1710.4 353.7l-3.8 3.2M1707.4 353.3l-3.8 3.2M1704.5 352.9l-3.8 3.2M1701.5 352.6l-3.8 3.2M1698.5 352.2l-3.8 3.2M1695.5 351.8l-3.8 3.2M1692.6 351.4l-3.8 3.2M1689.6 351l-3.8 3.2M1686.6 350.7l-3.8 3.2M1683.6 350.3l-3.8 3.2M1680.7 349.9l-3.8 3.2M1677.7 349.5l-3.8 3.2M1674.7 349.1l-3.8 3.2M1671.7 348.8l-3.8 3.2M1668.8 348.4l-3.8 3.2M1665.8 348l-3.8 3.2M1662.8 347.6l-3.8 3.2M1659.8 347.3l-3.8 3.2M1656.8 346.9l-3.8 3.2M1653.9 346.5l-3.8 3.2M1650.9 346.1l-3.8 3.2M1647.9 345.7l-3.8 3.2M1644.9 345.4l-3.8 3.2M1642 345l-3.8 3.2M1639 344.6l-3.8 3.2M1636 344.2l-3.8 3.2M1633 343.8l-3.8 3.2M1630.1 343.5l-3.8 3.2M1627.1 343.1l-3.8 3.2M1624.1 342.7l-3.8 3.2M1621.1 342.3l-3.8 3.2M1618.2 341.9l-3.8 3.2M1615.2 341.6l-3.8 3.2M1612.2 341.2l-3.8 3.2M1608.7 341.3l-3.3 2.7M1604.5 341.9l-2.1 1.7M1600.3 342.5l-0.9 0.7M1627.4 338.6l-1.3 -0.2M1635.5 337.4l-7.1 -0.9M1638.2 335.5l-7.5 -1M1640.5 333.6l-7.5 -1M1642.8 331.7l-7.5 -1M1645.1 329.8l-7.5 -1M1647.5 327.9l-7.5 -1M1649.8 326l-7.5 -1M1652.1 324l-7.5 -1M1654.4 322.1l-7.5 -1M1656.7 320.2l-7.5 -1M1659 318.3l-7.5 -1M1661.3 316.4l-7.5 -1M1663.6 314.5l-7.5 -1M1665.9 312.5l-7.5 -1M1668.2 310.6l-7.5 -1M1670.5 308.7l-7.5 -1M1672.9 306.8l-7.5 -1M1675.2 304.9l-7.5 -1M1677 302.9l-7.1 -0.9M1673.5 300.3l-1.3 -0.2M1787.5 315.3l1.1 -0.9M1783.4 315.9l2.3 -1.9M1779.7 316.1l3 -2.5M1776.7 315.8l3 -2.5M1773.7 315.4l3 -2.5M1770.8 315l3 -2.5M1767.8 314.6l3 -2.5M1764.8 314.2l3 -2.5M1761.8 313.9l3 -2.5M1758.9 313.5l3 -2.5M1755.9 313.1l3 -2.5M1752.9 312.7l3 -2.5M1749.9 312.4l3 -2.5M1747 312l3 -2.5M1744 311.6l3 -2.5M1741 311.2l3 -2.5M1738 310.8l3 -2.5M1735.1 310.5l3 -2.5M1732.1 310.1l3 -2.5M1729.1 309.7l3 -2.5M1726.1 309.3l3 -2.5M1723.2 308.9l3 -2.5M1720.2 308.6l3 -2.5M1717.2 308.2l3 -2.5M1714.2 307.8l3 -2.5M1711.3 307.4l3 -2.5M1708.3 307.1l3 -2.5M1705.3 306.7l3 -2.5M1702.3 306.3l3 -2.5M1699.3 305.9l3 -2.5M1696.4 305.5l3 -2.5M1693.4 305.2l3 -2.5M1690.4 304.8l3 -2.5M1687.4 304.4l3 -2.5M1684.5 304l3 -2.5M1681.5 303.6l3 -2.5M1678.5 303.3l3 -2.5M1676.2 302.3l2.3 -1.9M1674.4 300.9l1.1 -0.9M1743.5 353.3l1.3 0.2M1740 350.7l7.1 0.9M1741.8 348.7l7.5 1M1744.1 346.8l7.5 1M1746.5 344.9l7.5 1M1748.8 343l7.5 1M1751.1 341.1l7.5 1M1753.4 339.1l7.5 1M1755.7 337.2l7.5 1M1758 335.3l7.5 1M1760.3 333.4l7.5 1M1762.6 331.5l7.5 1M1764.9 329.6l7.5 1M1767.2 327.6l7.5 1M1769.5 325.7l7.5 1M1771.9 323.8l7.5 1M1774.2 321.9l7.5 1M1776.5 320l7.5 1M1778.8 318.1l7.5 1M1781.5 316.2l7.1 0.9M1789.6 315l1.3 0.2M1742.6 352.7l-1.1 0.9M1740.8 351.3l-2.3 1.9M1738.5 350.3l-3 2.5M1735.5 350l-3 2.5M1732.5 349.6l-3 2.5M1729.6 349.2l-3 2.5M1726.6 348.8l-3 2.5M1723.6 348.4l-3 2.5M1720.6 348.1l-3 2.5M1717.7 347.7l-3 2.5M1714.7 347.3l-3 2.5M1711.7 346.9l-3 2.5M1708.7 346.5l-3 2.5M1705.7 346.2l-3 2.5M1702.8 345.8l-3 2.5M1699.8 345.4l-3 2.5M1696.8 345l-3 2.5M1693.8 344.7l-3 2.5M1690.9 344.3l-3 2.5M1687.9 343.9l-3 2.5M1684.9 343.5l-3 2.5M1681.9 343.1l-3 2.5M1679 342.8l-3 2.5M1676 342.4l-3 2.5M1673 342l-3 2.5M1670 341.6l-3 2.5M1667.1 341.2l-3 2.5M1664.1 340.9l-3 2.5M1661.1 340.5l-3 2.5M1658.1 340.1l-3 2.5M1655.2 339.7l-3 2.5M1652.2 339.4l-3 2.5M1649.2 339l-3 2.5M1646.2 338.6l-3 2.5M1643.3 338.2l-3 2.5M1640.3 337.8l-3 2.5M1637.3 337.5l-3 2.5M1633.6 337.7l-2.3 1.9M1629.5 338.3l-1.1 0.9M1659.8 333.9l-5.5 -0.7M1662.2 332l-5.6 -0.7M1664.5 330l-5.6 -0.7M1666.8 328.1l-5.6 -0.7M1669.1 326.2l-5.6 -0.7M1671.4 324.3l-5.6 -0.7M1673.7 322.4l-5.6 -0.7M1676 320.5l-5.6 -0.7M1678.3 318.5l-5.6 -0.7M1680.7 316.6l-5.6 -0.7M1683 314.7l-5.6 -0.7M1685.3 312.8l-5.6 -0.7M1687.5 310.9l-5.5 -0.7M1762.6 319l0.7 -0.5M1758.4 319.6l1.8 -1.5M1755.1 319.5l2.2 -1.8M1752.1 319.1l2.2 -1.8M1749.1 318.7l2.2 -1.8M1746.1 318.4l2.2 -1.8M1743.2 318l2.2 -1.8M1740.2 317.6l2.2 -1.8M1737.2 317.2l2.2 -1.8M1734.2 316.8l2.2 -1.8M1731.3 316.5l2.2 -1.8M1728.3 316.1l2.2 -1.8M1725.3 315.7l2.2 -1.8M1722.3 315.3l2.2 -1.8M1719.4 314.9l2.2 -1.8M1716.4 314.6l2.2 -1.8M1713.4 314.2l2.2 -1.8M1710.4 313.8l2.2 -1.8M1707.5 313.4l2.2 -1.8M1704.5 313.1l2.2 -1.8M1701.5 312.7l2.2 -1.8M1698.5 312.3l2.2 -1.8M1695.5 311.9l2.2 -1.8M1692.6 311.5l2.2 -1.8M1689.6 311.2l2.2 -1.8M1687 310.5l1.8 -1.5M1685.2 309.1l0.7 -0.5M1729.5 342.7l5.5 0.7M1731.7 340.8l5.6 0.7M1734 338.9l5.6 0.7M1736.3 337l5.6 0.7M1738.7 335.1l5.6 0.7M1741 333.1l5.6 0.7M1743.3 331.2l5.6 0.7M1745.6 329.3l5.6 0.7M1747.9 327.4l5.6 0.7M1750.2 325.5l5.6 0.7M1752.5 323.6l5.6 0.7M1754.8 321.6l5.6 0.7M1757.2 319.7l5.5 0.7M1731.8 344.5l-0.7 0.5M1730 343.1l-1.8 1.5M1727.4 342.4l-2.2 1.8M1724.4 342.1l-2.2 1.8M1721.5 341.7l-2.2 1.8M1718.5 341.3l-2.2 1.8M1715.5 340.9l-2.2 1.8M1712.5 340.5l-2.2 1.8M1709.5 340.2l-2.2 1.8M1706.6 339.8l-2.2 1.8M1703.6 339.4l-2.2 1.8M1700.6 339l-2.2 1.8M1697.6 338.7l-2.2 1.8M1694.7 338.3l-2.2 1.8M1691.7 337.9l-2.2 1.8M1688.7 337.5l-2.2 1.8M1685.7 337.1l-2.2 1.8M1682.8 336.8l-2.2 1.8M1679.8 336.4l-2.2 1.8M1676.8 336l-2.2 1.8M1673.8 335.6l-2.2 1.8M1670.9 335.2l-2.2 1.8M1667.9 334.9l-2.2 1.8M1664.9 334.5l-2.2 1.8M1661.9 334.1l-2.2 1.8M1658.6 334l-1.8 1.5M1654.4 334.6l-0.7 0.5M1676 331.5l-0.7 -0.1M1684.2 330.3l-6.5 -0.8M1687.7 328.6l-7.6 -1M1690 326.7l-7.6 -1M1692.3 324.7l-7.6 -1M1694.6 322.8l-7.6 -1M1696.9 320.9l-7.6 -1M1698 318.8l-6.5 -0.8M1694.5 316.2l-0.7 -0.1M1741.8 322l0 0M1737.6 322.6l1.2 -1M1733.5 323.2l2.4 -2M1729.8 323.3l3 -2.5M1726.9 323l3 -2.5M1723.9 322.6l3 -2.5M1720.9 322.2l3 -2.5M1717.9 321.8l3 -2.5M1715 321.4l3 -2.5M1712 321.1l3 -2.5M1709 320.7l3 -2.5M1706 320.3l3 -2.5M1703.1 319.9l3 -2.5M1700.1 319.6l3 -2.5M1697.7 318.6l2.4 -2M1696 317.3l1.2 -1M1694.2 315.9l0 0M1722.5 337.4l0.7 0.1M1719 334.8l6.5 0.8M1720.1 332.7l7.6 1M1722.4 330.8l7.6 1M1724.7 328.9l7.6 1M1727 326.9l7.6 1M1729.3 325l7.6 1M1732.8 323.3l6.5 0.8M1741 322.1l0.7 0.1M1722.8 337.7l0 0M1721 336.3l-1.2 1M1719.3 335l-2.4 2M1716.9 334l-3 2.5M1713.9 333.7l-3 2.5M1711 333.3l-3 2.5M1708 332.9l-3 2.5M1705 332.5l-3 2.5M1702 332.2l-3 2.5M1699.1 331.8l-3 2.5M1696.1 331.4l-3 2.5M1693.1 331l-3 2.5M1690.1 330.6l-3 2.5M1687.2 330.3l-3 2.5M1683.5 330.4l-2.4 2M1679.4 331l-1.2 1M1675.2 331.6l0 0M1707.1 326.6l-3.8 -0.5M1712.7 326.2l0.9 -0.7M1709.1 326.3l1.5 -1.3M1706.7 325.4l0.9 -0.7M1709.9 327l3.8 0.5M1710.3 328.2l-0.9 0.7M1707.9 327.3l-1.5 1.3M1704.3 327.4l-0.9 0.7" stroke="#cfcfc4" stroke-width="0.55" fill="none" stroke-dasharray="2 1.5"/></g>
<path d="M1548 347.3L1779.8 376.8L1779.8 386.8L1548 357.3Z" fill="#b8b8ae" stroke="#000" stroke-width="1.4"/>
<path d="M1548 347.3v10M1550.5 347.6v10M1553 347.9v10M1555.6 348.3v10M1558.1 348.6v10M1560.6 348.9v10M1563.1 349.2v10M1565.6 349.5v10M1568.2 349.9v10M1570.7 350.2v10M1573.2 350.5v10M1575.7 350.8v10M1578.2 351.1v10M1580.8 351.5v10M1583.3 351.8v10M1585.8 352.1v10M1588.3 352.4v10M1590.8 352.8v10M1593.4 353.1v10M1595.9 353.4v10M1598.4 353.7v10M1600.9 354v10M1603.4 354.4v10M1606 354.7v10M1608.5 355v10M1611 355.3v10M1613.5 355.6v10M1616 356v10M1618.5 356.3v10M1621.1 356.6v10M1623.6 356.9v10M1626.1 357.2v10M1628.6 357.6v10M1631.1 357.9v10M1633.7 358.2v10M1636.2 358.5v10M1638.7 358.8v10M1641.2 359.2v10M1643.7 359.5v10M1646.3 359.8v10M1648.8 360.1v10M1651.3 360.4v10M1653.8 360.8v10M1656.3 361.1v10M1658.9 361.4v10M1661.4 361.7v10M1663.9 362.1v10M1666.4 362.4v10M1668.9 362.7v10M1671.5 363v10M1674 363.3v10M1676.5 363.7v10M1679 364v10M1681.5 364.3v10M1684.1 364.6v10M1686.6 364.9v10M1689.1 365.3v10M1691.6 365.6v10M1694.1 365.9v10M1696.7 366.2v10M1699.2 366.5v10M1701.7 366.9v10M1704.2 367.2v10M1706.7 367.5v10M1709.3 367.8v10M1711.8 368.1v10M1714.3 368.5v10M1716.8 368.8v10M1719.3 369.1v10M1721.8 369.4v10M1724.4 369.7v10M1726.9 370.1v10M1729.4 370.4v10M1731.9 370.7v10M1734.4 371v10M1737 371.3v10M1739.5 371.7v10M1742 372v10M1744.5 372.3v10M1747 372.6v10M1749.6 373v10M1752.1 373.3v10M1754.6 373.6v10M1757.1 373.9v10M1759.6 374.2v10M1762.2 374.6v10M1764.7 374.9v10M1767.2 375.2v10M1769.7 375.5v10M1772.2 375.8v10M1774.8 376.2v10M1777.3 376.5v10M1779.8 376.8v10" fill="none" stroke="#000" stroke-width="1.1"/>
<path d="M1674 473.3L1766.2 396.8L1674 480.3Z" fill="#222" stroke="#000" stroke-width="1"/>
<g><path d="M1766.2 396.8L1534.4 367.3L1604.2 420.3ZM1674 473.3L1442.2 443.8L1604.2 420.3Z" fill="#bcbcb2"/><path d="M1442.2 443.8L1534.4 367.3L1539.9 371.5L1455 441.9ZM1674 473.3L1766.2 396.8L1753.4 398.7L1668.5 469.1ZM1456.3 441.8L1540.5 371.9L1545.3 375.6L1467.5 440.1ZM1667.9 468.7L1752.1 398.8L1740.9 400.5L1663.1 465ZM1478.8 438.5L1550.2 379.3L1556.2 383.8L1492.7 436.5ZM1658.2 461.3L1729.6 402.1L1715.7 404.1L1652.2 456.8ZM1505.1 434.7L1561.5 387.9L1568 392.8L1520.1 432.5ZM1646.9 452.7L1703.3 405.9L1688.3 408.1L1640.4 447.8ZM1531.9 430.8L1573.1 396.7L1579.6 401.6L1547.2 428.6ZM1635.3 443.9L1676.5 409.8L1661.2 412L1628.8 439ZM1557.9 427L1584.2 405.1L1590.7 410L1572.8 424.9ZM1624.2 435.5L1650.5 413.6L1635.6 415.7L1617.7 430.6ZM1581.5 423.6L1594.4 412.9L1604.2 420.3L1604.2 420.3ZM1614 427.7L1626.9 417L1604.2 420.3L1604.2 420.3Z" fill="#262624" stroke="#000" stroke-width="0.8" stroke-linejoin="round"/><path d="M1766.2 396.8L1534.4 367.3L1539.9 371.5L1753.4 398.7ZM1674 473.3L1442.2 443.8L1455 441.9L1668.5 469.1ZM1752.1 398.8L1540.5 371.9L1545.3 375.6L1740.9 400.5ZM1667.9 468.7L1456.3 441.8L1467.5 440.1L1663.1 465ZM1729.6 402.1L1550.2 379.3L1556.2 383.8L1715.7 404.1ZM1658.2 461.3L1478.8 438.5L1492.7 436.5L1652.2 456.8ZM1703.3 405.9L1561.5 387.9L1568 392.8L1688.3 408.1ZM1646.9 452.7L1505.1 434.7L1520.1 432.5L1640.4 447.8ZM1676.5 409.8L1573.1 396.7L1579.6 401.6L1661.2 412ZM1635.3 443.9L1531.9 430.8L1547.2 428.6L1628.8 439ZM1650.5 413.6L1584.2 405.1L1590.7 410L1635.6 415.7ZM1624.2 435.5L1557.9 427L1572.8 424.9L1617.7 430.6ZM1626.9 417L1594.4 412.9L1604.2 420.3L1604.2 420.3ZM1614 427.7L1581.5 423.6L1604.2 420.3L1604.2 420.3Z" fill="#5e5e58" stroke="#000" stroke-width="0.8" stroke-linejoin="round"/><path d="M1450 442.7l-4.2 -0.5M1454.5 441l-6.4 -0.8M1456.8 439.1l-6.4 -0.8M1459.1 437.2l-6.4 -0.8M1461.4 435.3l-6.4 -0.8M1463.7 433.4l-6.4 -0.8M1466.1 431.4l-6.4 -0.8M1468.4 429.5l-6.4 -0.8M1470.7 427.6l-6.4 -0.8M1473 425.7l-6.4 -0.8M1475.3 423.8l-6.4 -0.8M1477.6 421.9l-6.4 -0.8M1479.9 419.9l-6.4 -0.8M1482.2 418l-6.4 -0.8M1484.5 416.1l-6.4 -0.8M1486.8 414.2l-6.4 -0.8M1489.1 412.3l-6.4 -0.8M1491.4 410.4l-6.4 -0.8M1493.8 408.5l-6.4 -0.8M1496.1 406.5l-6.4 -0.8M1498.4 404.6l-6.4 -0.8M1500.7 402.7l-6.4 -0.8M1503 400.8l-6.4 -0.8M1505.3 398.9l-6.4 -0.8M1507.6 397l-6.4 -0.8M1509.9 395l-6.4 -0.8M1512.2 393.1l-6.4 -0.8M1514.5 391.2l-6.4 -0.8M1516.8 389.3l-6.4 -0.8M1519.2 387.4l-6.4 -0.8M1521.5 385.5l-6.4 -0.8M1523.8 383.6l-6.4 -0.8M1526.1 381.6l-6.4 -0.8M1528.4 379.7l-6.4 -0.8M1530.7 377.8l-6.4 -0.8M1533 375.9l-6.4 -0.8M1535.3 374l-6.4 -0.8M1537.6 372.1l-6.4 -0.8M1537.8 369.9l-4.2 -0.5M1762.3 397.4l0.6 -0.5M1758.1 398l1.7 -1.5M1754.3 398.2l2.5 -2.1M1751.4 397.9l2.5 -2.1M1748.4 397.5l2.5 -2.1M1745.4 397.1l2.5 -2.1M1742.4 396.7l2.5 -2.1M1739.5 396.4l2.5 -2.1M1736.5 396l2.5 -2.1M1733.5 395.6l2.5 -2.1M1730.5 395.2l2.5 -2.1M1727.6 394.8l2.5 -2.1M1724.6 394.5l2.5 -2.1M1721.6 394.1l2.5 -2.1M1718.6 393.7l2.5 -2.1M1715.7 393.3l2.5 -2.1M1712.7 392.9l2.5 -2.1M1709.7 392.6l2.5 -2.1M1706.7 392.2l2.5 -2.1M1703.8 391.8l2.5 -2.1M1700.8 391.4l2.5 -2.1M1697.8 391.1l2.5 -2.1M1694.8 390.7l2.5 -2.1M1691.9 390.3l2.5 -2.1M1688.9 389.9l2.5 -2.1M1685.9 389.5l2.5 -2.1M1682.9 389.2l2.5 -2.1M1679.9 388.8l2.5 -2.1M1677 388.4l2.5 -2.1M1674 388l2.5 -2.1M1671 387.6l2.5 -2.1M1668 387.3l2.5 -2.1M1665.1 386.9l2.5 -2.1M1662.1 386.5l2.5 -2.1M1659.1 386.1l2.5 -2.1M1656.1 385.7l2.5 -2.1M1653.2 385.4l2.5 -2.1M1650.2 385l2.5 -2.1M1647.2 384.6l2.5 -2.1M1644.2 384.2l2.5 -2.1M1641.3 383.9l2.5 -2.1M1638.3 383.5l2.5 -2.1M1635.3 383.1l2.5 -2.1M1632.3 382.7l2.5 -2.1M1629.4 382.3l2.5 -2.1M1626.4 382l2.5 -2.1M1623.4 381.6l2.5 -2.1M1620.4 381.2l2.5 -2.1M1617.5 380.8l2.5 -2.1M1614.5 380.4l2.5 -2.1M1611.5 380.1l2.5 -2.1M1608.5 379.7l2.5 -2.1M1605.5 379.3l2.5 -2.1M1602.6 378.9l2.5 -2.1M1599.6 378.6l2.5 -2.1M1596.6 378.2l2.5 -2.1M1593.6 377.8l2.5 -2.1M1590.7 377.4l2.5 -2.1M1587.7 377l2.5 -2.1M1584.7 376.7l2.5 -2.1M1581.7 376.3l2.5 -2.1M1578.8 375.9l2.5 -2.1M1575.8 375.5l2.5 -2.1M1572.8 375.1l2.5 -2.1M1569.8 374.8l2.5 -2.1M1566.9 374.4l2.5 -2.1M1563.9 374l2.5 -2.1M1560.9 373.6l2.5 -2.1M1557.9 373.3l2.5 -2.1M1555 372.9l2.5 -2.1M1552 372.5l2.5 -2.1M1549 372.1l2.5 -2.1M1546 371.7l2.5 -2.1M1543.1 371.4l2.5 -2.1M1540.1 371l2.5 -2.1M1537.9 369.9l1.7 -1.5M1536.1 368.6l0.6 -0.5M1670.6 470.7l4.2 0.5M1670.8 468.5l6.4 0.8M1673.1 466.6l6.4 0.8M1675.4 464.7l6.4 0.8M1677.7 462.8l6.4 0.8M1680 460.9l6.4 0.8M1682.3 459l6.4 0.8M1684.6 457l6.4 0.8M1686.9 455.1l6.4 0.8M1689.2 453.2l6.4 0.8M1691.6 451.3l6.4 0.8M1693.9 449.4l6.4 0.8M1696.2 447.5l6.4 0.8M1698.5 445.6l6.4 0.8M1700.8 443.6l6.4 0.8M1703.1 441.7l6.4 0.8M1705.4 439.8l6.4 0.8M1707.7 437.9l6.4 0.8M1710 436l6.4 0.8M1712.3 434.1l6.4 0.8M1714.6 432.1l6.4 0.8M1717 430.2l6.4 0.8M1719.3 428.3l6.4 0.8M1721.6 426.4l6.4 0.8M1723.9 424.5l6.4 0.8M1726.2 422.6l6.4 0.8M1728.5 420.7l6.4 0.8M1730.8 418.7l6.4 0.8M1733.1 416.8l6.4 0.8M1735.4 414.9l6.4 0.8M1737.7 413l6.4 0.8M1740 411.1l6.4 0.8M1742.3 409.2l6.4 0.8M1744.7 407.2l6.4 0.8M1747 405.3l6.4 0.8M1749.3 403.4l6.4 0.8M1751.6 401.5l6.4 0.8M1753.9 399.6l6.4 0.8M1758.4 397.9l4.2 0.5M1672.3 472l-0.6 0.5M1670.5 470.7l-1.7 1.5M1668.3 469.6l-2.5 2.1M1665.3 469.2l-2.5 2.1M1662.4 468.9l-2.5 2.1M1659.4 468.5l-2.5 2.1M1656.4 468.1l-2.5 2.1M1653.4 467.7l-2.5 2.1M1650.5 467.3l-2.5 2.1M1647.5 467l-2.5 2.1M1644.5 466.6l-2.5 2.1M1641.5 466.2l-2.5 2.1M1638.6 465.8l-2.5 2.1M1635.6 465.5l-2.5 2.1M1632.6 465.1l-2.5 2.1M1629.6 464.7l-2.5 2.1M1626.7 464.3l-2.5 2.1M1623.7 463.9l-2.5 2.1M1620.7 463.6l-2.5 2.1M1617.7 463.2l-2.5 2.1M1614.8 462.8l-2.5 2.1M1611.8 462.4l-2.5 2.1M1608.8 462l-2.5 2.1M1605.8 461.7l-2.5 2.1M1602.9 461.3l-2.5 2.1M1599.9 460.9l-2.5 2.1M1596.9 460.5l-2.5 2.1M1593.9 460.2l-2.5 2.1M1590.9 459.8l-2.5 2.1M1588 459.4l-2.5 2.1M1585 459l-2.5 2.1M1582 458.6l-2.5 2.1M1579 458.3l-2.5 2.1M1576.1 457.9l-2.5 2.1M1573.1 457.5l-2.5 2.1M1570.1 457.1l-2.5 2.1M1567.1 456.7l-2.5 2.1M1564.2 456.4l-2.5 2.1M1561.2 456l-2.5 2.1M1558.2 455.6l-2.5 2.1M1555.2 455.2l-2.5 2.1M1552.3 454.9l-2.5 2.1M1549.3 454.5l-2.5 2.1M1546.3 454.1l-2.5 2.1M1543.3 453.7l-2.5 2.1M1540.4 453.3l-2.5 2.1M1537.4 453l-2.5 2.1M1534.4 452.6l-2.5 2.1M1531.4 452.2l-2.5 2.1M1528.5 451.8l-2.5 2.1M1525.5 451.4l-2.5 2.1M1522.5 451.1l-2.5 2.1M1519.5 450.7l-2.5 2.1M1516.5 450.3l-2.5 2.1M1513.6 449.9l-2.5 2.1M1510.6 449.5l-2.5 2.1M1507.6 449.2l-2.5 2.1M1504.6 448.8l-2.5 2.1M1501.7 448.4l-2.5 2.1M1498.7 448l-2.5 2.1M1495.7 447.7l-2.5 2.1M1492.7 447.3l-2.5 2.1M1489.8 446.9l-2.5 2.1M1486.8 446.5l-2.5 2.1M1483.8 446.1l-2.5 2.1M1480.8 445.8l-2.5 2.1M1477.9 445.4l-2.5 2.1M1474.9 445l-2.5 2.1M1471.9 444.6l-2.5 2.1M1468.9 444.2l-2.5 2.1M1466 443.9l-2.5 2.1M1463 443.5l-2.5 2.1M1460 443.1l-2.5 2.1M1457 442.7l-2.5 2.1M1454.1 442.4l-2.5 2.1M1450.3 442.6l-1.7 1.5M1446.1 443.2l-0.6 0.5M1465.7 440.2l-5.2 -0.7M1468 438.3l-5.2 -0.7M1470.4 436.4l-5.2 -0.7M1472.7 434.5l-5.2 -0.7M1475 432.6l-5.2 -0.7M1477.3 430.7l-5.2 -0.7M1479.6 428.7l-5.2 -0.7M1481.9 426.8l-5.2 -0.7M1484.2 424.9l-5.2 -0.7M1486.5 423l-5.2 -0.7M1488.8 421.1l-5.2 -0.7M1491.1 419.2l-5.2 -0.7M1493.4 417.3l-5.2 -0.7M1495.8 415.3l-5.2 -0.7M1498.1 413.4l-5.2 -0.7M1500.4 411.5l-5.2 -0.7M1502.7 409.6l-5.2 -0.7M1505 407.7l-5.2 -0.7M1507.3 405.8l-5.2 -0.7M1509.6 403.8l-5.2 -0.7M1511.9 401.9l-5.2 -0.7M1514.2 400l-5.2 -0.7M1516.5 398.1l-5.2 -0.7M1518.8 396.2l-5.2 -0.7M1521.2 394.3l-5.2 -0.7M1523.5 392.3l-5.2 -0.7M1525.8 390.4l-5.2 -0.7M1528.1 388.5l-5.2 -0.7M1530.4 386.6l-5.2 -0.7M1532.7 384.7l-5.2 -0.7M1535 382.8l-5.2 -0.7M1537.3 380.9l-5.2 -0.7M1539.6 378.9l-5.2 -0.7M1541.9 377l-5.2 -0.7M1544.2 375.1l-5.2 -0.7M1749.8 399.2l0.1 -0.1M1745.6 399.8l1.3 -1.1M1741.9 400.1l2.1 -1.7M1738.9 399.7l2.1 -1.7M1735.9 399.3l2.1 -1.7M1732.9 398.9l2.1 -1.7M1730 398.5l2.1 -1.7M1727 398.2l2.1 -1.7M1724 397.8l2.1 -1.7M1721 397.4l2.1 -1.7M1718.1 397l2.1 -1.7M1715.1 396.6l2.1 -1.7M1712.1 396.3l2.1 -1.7M1709.1 395.9l2.1 -1.7M1706.2 395.5l2.1 -1.7M1703.2 395.1l2.1 -1.7M1700.2 394.8l2.1 -1.7M1697.2 394.4l2.1 -1.7M1694.3 394l2.1 -1.7M1691.3 393.6l2.1 -1.7M1688.3 393.2l2.1 -1.7M1685.3 392.9l2.1 -1.7M1682.3 392.5l2.1 -1.7M1679.4 392.1l2.1 -1.7M1676.4 391.7l2.1 -1.7M1673.4 391.3l2.1 -1.7M1670.4 391l2.1 -1.7M1667.5 390.6l2.1 -1.7M1664.5 390.2l2.1 -1.7M1661.5 389.8l2.1 -1.7M1658.5 389.5l2.1 -1.7M1655.6 389.1l2.1 -1.7M1652.6 388.7l2.1 -1.7M1649.6 388.3l2.1 -1.7M1646.6 387.9l2.1 -1.7M1643.7 387.6l2.1 -1.7M1640.7 387.2l2.1 -1.7M1637.7 386.8l2.1 -1.7M1634.7 386.4l2.1 -1.7M1631.8 386l2.1 -1.7M1628.8 385.7l2.1 -1.7M1625.8 385.3l2.1 -1.7M1622.8 384.9l2.1 -1.7M1619.9 384.5l2.1 -1.7M1616.9 384.1l2.1 -1.7M1613.9 383.8l2.1 -1.7M1610.9 383.4l2.1 -1.7M1607.9 383l2.1 -1.7M1605 382.6l2.1 -1.7M1602 382.3l2.1 -1.7M1599 381.9l2.1 -1.7M1596 381.5l2.1 -1.7M1593.1 381.1l2.1 -1.7M1590.1 380.7l2.1 -1.7M1587.1 380.4l2.1 -1.7M1584.1 380l2.1 -1.7M1581.2 379.6l2.1 -1.7M1578.2 379.2l2.1 -1.7M1575.2 378.8l2.1 -1.7M1572.2 378.5l2.1 -1.7M1569.3 378.1l2.1 -1.7M1566.3 377.7l2.1 -1.7M1563.3 377.3l2.1 -1.7M1560.3 377l2.1 -1.7M1557.4 376.6l2.1 -1.7M1554.4 376.2l2.1 -1.7M1551.4 375.8l2.1 -1.7M1548.4 375.4l2.1 -1.7M1545.5 375.1l2.1 -1.7M1543.3 374l1.3 -1.1M1541.5 372.7l0.1 -0.1M1664.2 465.5l5.2 0.7M1666.5 463.6l5.2 0.7M1668.8 461.7l5.2 0.7M1671.1 459.7l5.2 0.7M1673.4 457.8l5.2 0.7M1675.7 455.9l5.2 0.7M1678 454l5.2 0.7M1680.3 452.1l5.2 0.7M1682.6 450.2l5.2 0.7M1684.9 448.3l5.2 0.7M1687.2 446.3l5.2 0.7M1689.6 444.4l5.2 0.7M1691.9 442.5l5.2 0.7M1694.2 440.6l5.2 0.7M1696.5 438.7l5.2 0.7M1698.8 436.8l5.2 0.7M1701.1 434.8l5.2 0.7M1703.4 432.9l5.2 0.7M1705.7 431l5.2 0.7M1708 429.1l5.2 0.7M1710.3 427.2l5.2 0.7M1712.6 425.3l5.2 0.7M1715 423.3l5.2 0.7M1717.3 421.4l5.2 0.7M1719.6 419.5l5.2 0.7M1721.9 417.6l5.2 0.7M1724.2 415.7l5.2 0.7M1726.5 413.8l5.2 0.7M1728.8 411.9l5.2 0.7M1731.1 409.9l5.2 0.7M1733.4 408l5.2 0.7M1735.7 406.1l5.2 0.7M1738 404.2l5.2 0.7M1740.4 402.3l5.2 0.7M1742.7 400.4l5.2 0.7M1666.9 467.9l-0.1 0.1M1665.1 466.6l-1.3 1.1M1662.9 465.5l-2.1 1.7M1660 465.2l-2.1 1.7M1657 464.8l-2.1 1.7M1654 464.4l-2.1 1.7M1651 464l-2.1 1.7M1648.1 463.6l-2.1 1.7M1645.1 463.3l-2.1 1.7M1642.1 462.9l-2.1 1.7M1639.1 462.5l-2.1 1.7M1636.2 462.1l-2.1 1.7M1633.2 461.8l-2.1 1.7M1630.2 461.4l-2.1 1.7M1627.2 461l-2.1 1.7M1624.3 460.6l-2.1 1.7M1621.3 460.2l-2.1 1.7M1618.3 459.9l-2.1 1.7M1615.3 459.5l-2.1 1.7M1612.4 459.1l-2.1 1.7M1609.4 458.7l-2.1 1.7M1606.4 458.3l-2.1 1.7M1603.4 458l-2.1 1.7M1600.5 457.6l-2.1 1.7M1597.5 457.2l-2.1 1.7M1594.5 456.8l-2.1 1.7M1591.5 456.5l-2.1 1.7M1588.5 456.1l-2.1 1.7M1585.6 455.7l-2.1 1.7M1582.6 455.3l-2.1 1.7M1579.6 454.9l-2.1 1.7M1576.6 454.6l-2.1 1.7M1573.7 454.2l-2.1 1.7M1570.7 453.8l-2.1 1.7M1567.7 453.4l-2.1 1.7M1564.7 453l-2.1 1.7M1561.8 452.7l-2.1 1.7M1558.8 452.3l-2.1 1.7M1555.8 451.9l-2.1 1.7M1552.8 451.5l-2.1 1.7M1549.9 451.1l-2.1 1.7M1546.9 450.8l-2.1 1.7M1543.9 450.4l-2.1 1.7M1540.9 450l-2.1 1.7M1538 449.6l-2.1 1.7M1535 449.3l-2.1 1.7M1532 448.9l-2.1 1.7M1529 448.5l-2.1 1.7M1526.1 448.1l-2.1 1.7M1523.1 447.7l-2.1 1.7M1520.1 447.4l-2.1 1.7M1517.1 447l-2.1 1.7M1514.1 446.6l-2.1 1.7M1511.2 446.2l-2.1 1.7M1508.2 445.8l-2.1 1.7M1505.2 445.5l-2.1 1.7M1502.2 445.1l-2.1 1.7M1499.3 444.7l-2.1 1.7M1496.3 444.3l-2.1 1.7M1493.3 444l-2.1 1.7M1490.3 443.6l-2.1 1.7M1487.4 443.2l-2.1 1.7M1484.4 442.8l-2.1 1.7M1481.4 442.4l-2.1 1.7M1478.4 442.1l-2.1 1.7M1475.5 441.7l-2.1 1.7M1472.5 441.3l-2.1 1.7M1469.5 440.9l-2.1 1.7M1466.5 440.5l-2.1 1.7M1462.8 440.8l-1.3 1.1M1458.6 441.4l-0.1 0.1M1482.5 438l-1.2 -0.2M1490.6 436.8l-7.1 -0.9M1493.1 434.9l-7.2 -0.9M1495.4 433l-7.2 -0.9M1497.7 431l-7.2 -0.9M1500 429.1l-7.2 -0.9M1502.3 427.2l-7.2 -0.9M1504.6 425.3l-7.2 -0.9M1506.9 423.4l-7.2 -0.9M1509.2 421.5l-7.2 -0.9M1511.5 419.6l-7.2 -0.9M1513.8 417.6l-7.2 -0.9M1516.1 415.7l-7.2 -0.9M1518.5 413.8l-7.2 -0.9M1520.8 411.9l-7.2 -0.9M1523.1 410l-7.2 -0.9M1525.4 408.1l-7.2 -0.9M1527.7 406.1l-7.2 -0.9M1530 404.2l-7.2 -0.9M1532.3 402.3l-7.2 -0.9M1534.6 400.4l-7.2 -0.9M1536.9 398.5l-7.2 -0.9M1539.2 396.6l-7.2 -0.9M1541.5 394.7l-7.2 -0.9M1543.8 392.7l-7.2 -0.9M1546.2 390.8l-7.2 -0.9M1548.5 388.9l-7.2 -0.9M1550.8 387l-7.2 -0.9M1553.1 385.1l-7.2 -0.9M1555.3 383.1l-7.1 -0.9M1551.8 380.5l-1.2 -0.2M1724.8 402.8l0.8 -0.7M1720.7 403.4l2 -1.6M1716.8 403.8l2.9 -2.4M1713.8 403.4l2.9 -2.4M1710.9 403l2.9 -2.4M1707.9 402.6l2.9 -2.4M1704.9 402.2l2.9 -2.4M1701.9 401.9l2.9 -2.4M1699 401.5l2.9 -2.4M1696 401.1l2.9 -2.4M1693 400.7l2.9 -2.4M1690 400.3l2.9 -2.4M1687.1 400l2.9 -2.4M1684.1 399.6l2.9 -2.4M1681.1 399.2l2.9 -2.4M1678.1 398.8l2.9 -2.4M1675.2 398.4l2.9 -2.4M1672.2 398.1l2.9 -2.4M1669.2 397.7l2.9 -2.4M1666.2 397.3l2.9 -2.4M1663.3 396.9l2.9 -2.4M1660.3 396.6l2.9 -2.4M1657.3 396.2l2.9 -2.4M1654.3 395.8l2.9 -2.4M1651.3 395.4l2.9 -2.4M1648.4 395l2.9 -2.4M1645.4 394.7l2.9 -2.4M1642.4 394.3l2.9 -2.4M1639.4 393.9l2.9 -2.4M1636.5 393.5l2.9 -2.4M1633.5 393.1l2.9 -2.4M1630.5 392.8l2.9 -2.4M1627.5 392.4l2.9 -2.4M1624.6 392l2.9 -2.4M1621.6 391.6l2.9 -2.4M1618.6 391.3l2.9 -2.4M1615.6 390.9l2.9 -2.4M1612.7 390.5l2.9 -2.4M1609.7 390.1l2.9 -2.4M1606.7 389.7l2.9 -2.4M1603.7 389.4l2.9 -2.4M1600.8 389l2.9 -2.4M1597.8 388.6l2.9 -2.4M1594.8 388.2l2.9 -2.4M1591.8 387.8l2.9 -2.4M1588.9 387.5l2.9 -2.4M1585.9 387.1l2.9 -2.4M1582.9 386.7l2.9 -2.4M1579.9 386.3l2.9 -2.4M1577 386l2.9 -2.4M1574 385.6l2.9 -2.4M1571 385.2l2.9 -2.4M1568 384.8l2.9 -2.4M1565 384.4l2.9 -2.4M1562.1 384.1l2.9 -2.4M1559.1 383.7l2.9 -2.4M1556.1 383.3l2.9 -2.4M1554 382.2l2 -1.6M1552.2 380.8l0.8 -0.7M1656.6 460.1l1.2 0.2M1653.1 457.5l7.1 0.9M1655.3 455.5l7.2 0.9M1657.6 453.6l7.2 0.9M1659.9 451.7l7.2 0.9M1662.2 449.8l7.2 0.9M1664.6 447.9l7.2 0.9M1666.9 445.9l7.2 0.9M1669.2 444l7.2 0.9M1671.5 442.1l7.2 0.9M1673.8 440.2l7.2 0.9M1676.1 438.3l7.2 0.9M1678.4 436.4l7.2 0.9M1680.7 434.5l7.2 0.9M1683 432.5l7.2 0.9M1685.3 430.6l7.2 0.9M1687.6 428.7l7.2 0.9M1689.9 426.8l7.2 0.9M1692.3 424.9l7.2 0.9M1694.6 423l7.2 0.9M1696.9 421l7.2 0.9M1699.2 419.1l7.2 0.9M1701.5 417.2l7.2 0.9M1703.8 415.3l7.2 0.9M1706.1 413.4l7.2 0.9M1708.4 411.5l7.2 0.9M1710.7 409.6l7.2 0.9M1713 407.6l7.2 0.9M1715.3 405.7l7.2 0.9M1717.8 403.8l7.1 0.9M1725.9 402.6l1.2 0.2M1656.2 459.8l-0.8 0.7M1654.4 458.4l-2 1.6M1652.3 457.3l-2.9 2.4M1649.3 456.9l-2.9 2.4M1646.3 456.5l-2.9 2.4M1643.4 456.2l-2.9 2.4M1640.4 455.8l-2.9 2.4M1637.4 455.4l-2.9 2.4M1634.4 455l-2.9 2.4M1631.4 454.6l-2.9 2.4M1628.5 454.3l-2.9 2.4M1625.5 453.9l-2.9 2.4M1622.5 453.5l-2.9 2.4M1619.5 453.1l-2.9 2.4M1616.6 452.8l-2.9 2.4M1613.6 452.4l-2.9 2.4M1610.6 452l-2.9 2.4M1607.6 451.6l-2.9 2.4M1604.7 451.2l-2.9 2.4M1601.7 450.9l-2.9 2.4M1598.7 450.5l-2.9 2.4M1595.7 450.1l-2.9 2.4M1592.8 449.7l-2.9 2.4M1589.8 449.3l-2.9 2.4M1586.8 449l-2.9 2.4M1583.8 448.6l-2.9 2.4M1580.9 448.2l-2.9 2.4M1577.9 447.8l-2.9 2.4M1574.9 447.5l-2.9 2.4M1571.9 447.1l-2.9 2.4M1569 446.7l-2.9 2.4M1566 446.3l-2.9 2.4M1563 445.9l-2.9 2.4M1560 445.6l-2.9 2.4M1557.1 445.2l-2.9 2.4M1554.1 444.8l-2.9 2.4M1551.1 444.4l-2.9 2.4M1548.1 444l-2.9 2.4M1545.1 443.7l-2.9 2.4M1542.2 443.3l-2.9 2.4M1539.2 442.9l-2.9 2.4M1536.2 442.5l-2.9 2.4M1533.2 442.2l-2.9 2.4M1530.3 441.8l-2.9 2.4M1527.3 441.4l-2.9 2.4M1524.3 441l-2.9 2.4M1521.3 440.6l-2.9 2.4M1518.4 440.3l-2.9 2.4M1515.4 439.9l-2.9 2.4M1512.4 439.5l-2.9 2.4M1509.4 439.1l-2.9 2.4M1506.5 438.7l-2.9 2.4M1503.5 438.4l-2.9 2.4M1500.5 438l-2.9 2.4M1497.5 437.6l-2.9 2.4M1494.6 437.2l-2.9 2.4M1491.6 436.8l-2.9 2.4M1487.7 437.2l-2 1.6M1483.6 437.8l-0.8 0.7M1515 433.2l-5.7 -0.7M1519.6 431.6l-8 -1M1521.9 429.7l-8 -1M1524.2 427.8l-8 -1M1526.5 425.9l-8 -1M1528.8 424l-8 -1M1531.1 422l-8 -1M1533.4 420.1l-8 -1M1535.7 418.2l-8 -1M1538 416.3l-8 -1M1540.3 414.4l-8 -1M1542.7 412.5l-8 -1M1545 410.6l-8 -1M1547.3 408.6l-8 -1M1549.6 406.7l-8 -1M1551.9 404.8l-8 -1M1554.2 402.9l-8 -1M1556.5 401l-8 -1M1558.8 399.1l-8 -1M1561.1 397.1l-8 -1M1563.4 395.2l-8 -1M1565.7 393.3l-8 -1M1565.7 391.1l-5.7 -0.7M1699.9 406.4l0.4 -0.4M1695.7 407l1.6 -1.3M1691.6 407.6l2.8 -2.3M1688.2 407.6l3.2 -2.6M1685.2 407.2l3.2 -2.6M1682.2 406.8l3.2 -2.6M1679.3 406.4l3.2 -2.6M1676.3 406l3.2 -2.6M1673.3 405.7l3.2 -2.6M1670.3 405.3l3.2 -2.6M1667.4 404.9l3.2 -2.6M1664.4 404.5l3.2 -2.6M1661.4 404.2l3.2 -2.6M1658.4 403.8l3.2 -2.6M1655.5 403.4l3.2 -2.6M1652.5 403l3.2 -2.6M1649.5 402.6l3.2 -2.6M1646.5 402.3l3.2 -2.6M1643.6 401.9l3.2 -2.6M1640.6 401.5l3.2 -2.6M1637.6 401.1l3.2 -2.6M1634.6 400.7l3.2 -2.6M1631.7 400.4l3.2 -2.6M1628.7 400l3.2 -2.6M1625.7 399.6l3.2 -2.6M1622.7 399.2l3.2 -2.6M1619.8 398.9l3.2 -2.6M1616.8 398.5l3.2 -2.6M1613.8 398.1l3.2 -2.6M1610.8 397.7l3.2 -2.6M1607.8 397.3l3.2 -2.6M1604.9 397l3.2 -2.6M1601.9 396.6l3.2 -2.6M1598.9 396.2l3.2 -2.6M1595.9 395.8l3.2 -2.6M1593 395.4l3.2 -2.6M1590 395.1l3.2 -2.6M1587 394.7l3.2 -2.6M1584 394.3l3.2 -2.6M1581.1 393.9l3.2 -2.6M1578.1 393.6l3.2 -2.6M1575.1 393.2l3.2 -2.6M1572.1 392.8l3.2 -2.6M1569.2 392.4l3.2 -2.6M1566.6 391.7l2.8 -2.3M1564.8 390.4l1.6 -1.3M1563 389l0.4 -0.4M1642.7 449.5l5.7 0.7M1642.7 447.3l8 1M1645 445.4l8 1M1647.3 443.5l8 1M1649.6 441.5l8 1M1651.9 439.6l8 1M1654.2 437.7l8 1M1656.5 435.8l8 1M1658.8 433.9l8 1M1661.1 432l8 1M1663.4 430l8 1M1665.7 428.1l8 1M1668.1 426.2l8 1M1670.4 424.3l8 1M1672.7 422.4l8 1M1675 420.5l8 1M1677.3 418.6l8 1M1679.6 416.6l8 1M1681.9 414.7l8 1M1684.2 412.8l8 1M1686.5 410.9l8 1M1688.8 409l8 1M1693.4 407.4l5.7 0.7M1645.4 451.6l-0.4 0.4M1643.6 450.2l-1.6 1.3M1641.8 448.9l-2.8 2.3M1639.2 448.2l-3.2 2.6M1636.3 447.8l-3.2 2.6M1633.3 447.4l-3.2 2.6M1630.3 447l-3.2 2.6M1627.3 446.7l-3.2 2.6M1624.4 446.3l-3.2 2.6M1621.4 445.9l-3.2 2.6M1618.4 445.5l-3.2 2.6M1615.4 445.2l-3.2 2.6M1612.5 444.8l-3.2 2.6M1609.5 444.4l-3.2 2.6M1606.5 444l-3.2 2.6M1603.5 443.6l-3.2 2.6M1600.6 443.3l-3.2 2.6M1597.6 442.9l-3.2 2.6M1594.6 442.5l-3.2 2.6M1591.6 442.1l-3.2 2.6M1588.6 441.7l-3.2 2.6M1585.7 441.4l-3.2 2.6M1582.7 441l-3.2 2.6M1579.7 440.6l-3.2 2.6M1576.7 440.2l-3.2 2.6M1573.8 439.9l-3.2 2.6M1570.8 439.5l-3.2 2.6M1567.8 439.1l-3.2 2.6M1564.8 438.7l-3.2 2.6M1561.9 438.3l-3.2 2.6M1558.9 438l-3.2 2.6M1555.9 437.6l-3.2 2.6M1552.9 437.2l-3.2 2.6M1550 436.8l-3.2 2.6M1547 436.4l-3.2 2.6M1544 436.1l-3.2 2.6M1541 435.7l-3.2 2.6M1538.1 435.3l-3.2 2.6M1535.1 434.9l-3.2 2.6M1532.1 434.6l-3.2 2.6M1529.1 434.2l-3.2 2.6M1526.2 433.8l-3.2 2.6M1523.2 433.4l-3.2 2.6M1520.2 433l-3.2 2.6M1516.8 433l-2.8 2.3M1512.7 433.6l-1.6 1.3M1508.5 434.2l-0.4 0.4M1539.3 429.7l-3.9 -0.5M1545.9 428.3l-8.1 -1M1548.2 426.4l-8.1 -1M1550.5 424.5l-8.1 -1M1552.8 422.6l-8.1 -1M1555.1 420.7l-8.1 -1M1557.4 418.8l-8.1 -1M1559.7 416.8l-8.1 -1M1562 414.9l-8.1 -1M1564.3 413l-8.1 -1M1566.6 411.1l-8.1 -1M1568.9 409.2l-8.1 -1M1571.2 407.3l-8.1 -1M1573.6 405.4l-8.1 -1M1575.9 403.4l-8.1 -1M1578.2 401.5l-8.1 -1M1576.2 399.1l-3.9 -0.5M1670.8 410.6l1.1 -0.9M1666.6 411.2l2.3 -1.9M1662.6 411.7l3.2 -2.7M1659.7 411.3l3.2 -2.7M1656.7 410.9l3.2 -2.7M1653.7 410.5l3.2 -2.7M1650.7 410.2l3.2 -2.7M1647.8 409.8l3.2 -2.7M1644.8 409.4l3.2 -2.7M1641.8 409l3.2 -2.7M1638.8 408.6l3.2 -2.7M1635.9 408.3l3.2 -2.7M1632.9 407.9l3.2 -2.7M1629.9 407.5l3.2 -2.7M1626.9 407.1l3.2 -2.7M1624 406.8l3.2 -2.7M1621 406.4l3.2 -2.7M1618 406l3.2 -2.7M1615 405.6l3.2 -2.7M1612.1 405.2l3.2 -2.7M1609.1 404.9l3.2 -2.7M1606.1 404.5l3.2 -2.7M1603.1 404.1l3.2 -2.7M1600.1 403.7l3.2 -2.7M1597.2 403.3l3.2 -2.7M1594.2 403l3.2 -2.7M1591.2 402.6l3.2 -2.7M1588.2 402.2l3.2 -2.7M1585.3 401.8l3.2 -2.7M1582.3 401.5l3.2 -2.7M1579.3 401.1l3.2 -2.7M1577.3 399.9l2.3 -1.9M1575.5 398.5l1.1 -0.9M1632.2 441.5l3.9 0.5M1630.2 439.1l8.1 1M1632.5 437.2l8.1 1M1634.8 435.2l8.1 1M1637.2 433.3l8.1 1M1639.5 431.4l8.1 1M1641.8 429.5l8.1 1M1644.1 427.6l8.1 1M1646.4 425.7l8.1 1M1648.7 423.8l8.1 1M1651 421.8l8.1 1M1653.3 419.9l8.1 1M1655.6 418l8.1 1M1657.9 416.1l8.1 1M1660.2 414.2l8.1 1M1662.5 412.3l8.1 1M1669.1 410.9l3.9 0.5M1632.9 442.1l-1.1 0.9M1631.1 440.7l-2.3 1.9M1629.1 439.5l-3.2 2.7M1626.1 439.1l-3.2 2.7M1623.1 438.8l-3.2 2.7M1620.2 438.4l-3.2 2.7M1617.2 438l-3.2 2.7M1614.2 437.6l-3.2 2.7M1611.2 437.3l-3.2 2.7M1608.3 436.9l-3.2 2.7M1605.3 436.5l-3.2 2.7M1602.3 436.1l-3.2 2.7M1599.3 435.7l-3.2 2.7M1596.3 435.4l-3.2 2.7M1593.4 435l-3.2 2.7M1590.4 434.6l-3.2 2.7M1587.4 434.2l-3.2 2.7M1584.4 433.8l-3.2 2.7M1581.5 433.5l-3.2 2.7M1578.5 433.1l-3.2 2.7M1575.5 432.7l-3.2 2.7M1572.5 432.3l-3.2 2.7M1569.6 432l-3.2 2.7M1566.6 431.6l-3.2 2.7M1563.6 431.2l-3.2 2.7M1560.6 430.8l-3.2 2.7M1557.7 430.4l-3.2 2.7M1554.7 430.1l-3.2 2.7M1551.7 429.7l-3.2 2.7M1548.7 429.3l-3.2 2.7M1545.8 428.9l-3.2 2.7M1541.8 429.4l-2.3 1.9M1537.6 430l-1.1 0.9M1563.6 426.2l-2.7 -0.3M1571.1 424.9l-7.9 -1M1573.4 423l-7.9 -1M1575.7 421.1l-7.9 -1M1578 419.2l-7.9 -1M1580.3 417.3l-7.9 -1M1582.6 415.3l-7.9 -1M1584.9 413.4l-7.9 -1M1587.3 411.5l-7.9 -1M1589.6 409.6l-7.9 -1M1586.7 407l-2.7 -0.3M1645.8 414.3l0.8 -0.7M1641.6 414.9l2 -1.6M1637.5 415.5l3.1 -2.6M1634.5 415.1l3.1 -2.6M1631.6 414.7l3.1 -2.6M1628.6 414.3l3.1 -2.6M1625.6 413.9l3.1 -2.6M1622.6 413.6l3.1 -2.6M1619.6 413.2l3.1 -2.6M1616.7 412.8l3.1 -2.6M1613.7 412.4l3.1 -2.6M1610.7 412l3.1 -2.6M1607.7 411.7l3.1 -2.6M1604.8 411.3l3.1 -2.6M1601.8 410.9l3.1 -2.6M1598.8 410.5l3.1 -2.6M1595.8 410.1l3.1 -2.6M1592.9 409.8l3.1 -2.6M1589.9 409.4l3.1 -2.6M1588.1 408.1l2 -1.6M1586.3 406.7l0.8 -0.7M1621.7 433.6l2.7 0.3M1618.8 431l7.9 1M1621.1 429.1l7.9 1M1623.5 427.2l7.9 1M1625.8 425.3l7.9 1M1628.1 423.3l7.9 1M1630.4 421.4l7.9 1M1632.7 419.5l7.9 1M1635 417.6l7.9 1M1637.3 415.7l7.9 1M1644.8 414.4l2.7 0.3M1622.1 433.9l-0.8 0.7M1620.3 432.5l-2 1.6M1618.5 431.2l-3.1 2.6M1615.5 430.8l-3.1 2.6M1612.6 430.5l-3.1 2.6M1609.6 430.1l-3.1 2.6M1606.6 429.7l-3.1 2.6M1603.6 429.3l-3.1 2.6M1600.7 428.9l-3.1 2.6M1597.7 428.6l-3.1 2.6M1594.7 428.2l-3.1 2.6M1591.7 427.8l-3.1 2.6M1588.8 427.4l-3.1 2.6M1585.8 427l-3.1 2.6M1582.8 426.7l-3.1 2.6M1579.8 426.3l-3.1 2.6M1576.8 425.9l-3.1 2.6M1573.9 425.5l-3.1 2.6M1570.9 425.1l-3.1 2.6M1566.8 425.7l-2 1.6M1562.6 426.3l-0.8 0.7M1588 422.7l-3.2 -0.4M1596.1 421.5l-9 -1.1M1602.8 420.1l-13.4 -1.7M1600.7 417.6l-9 -1.1M1597.2 415l-3.2 -0.4M1620.8 417.9l1.2 -1M1616.7 418.5l2.3 -1.9M1612.5 419.1l3.5 -2.9M1608.4 419.7l4.7 -3.9M1604.8 419.8l5.3 -4.4M1602.4 418.9l4.7 -3.9M1600.6 417.6l3.5 -2.9M1598.8 416.2l2.3 -1.9M1597 414.9l1.2 -1M1611.2 425.6l3.2 0.4M1607.7 423l9 1.1M1605.6 420.5l13.4 1.7M1612.3 419.1l9 1.1M1620.4 417.9l3.2 0.4M1611.4 425.7l-1.2 1M1609.6 424.4l-2.3 1.9M1607.8 423l-3.5 2.9M1606 421.7l-4.7 3.9M1603.6 420.8l-5.3 4.4M1600 420.9l-4.7 3.9M1595.9 421.5l-3.5 2.9M1591.7 422.1l-2.3 1.9M1587.6 422.7l-1.2 1" stroke="#cfcfc4" stroke-width="0.55" fill="none" stroke-dasharray="2 1.5"/></g>
<path d="M1443.7 440.8L1675.5 470.3L1675.5 480.3L1443.7 450.8Z" fill="#b8b8ae" stroke="#000" stroke-width="1.4"/>
<path d="M1443.7 440.8v10M1446.2 441.1v10M1448.7 441.4v10M1451.3 441.8v10M1453.8 442.1v10M1456.3 442.4v10M1458.8 442.7v10M1461.3 443v10M1463.9 443.4v10M1466.4 443.7v10M1468.9 444v10M1471.4 444.3v10M1473.9 444.6v10M1476.5 445v10M1479 445.3v10M1481.5 445.6v10M1484 445.9v10M1486.5 446.3v10M1489.1 446.6v10M1491.6 446.9v10M1494.1 447.2v10M1496.6 447.5v10M1499.1 447.9v10M1501.7 448.2v10M1504.2 448.5v10M1506.7 448.8v10M1509.2 449.1v10M1511.7 449.5v10M1514.2 449.8v10M1516.8 450.1v10M1519.3 450.4v10M1521.8 450.7v10M1524.3 451.1v10M1526.8 451.4v10M1529.4 451.7v10M1531.9 452v10M1534.4 452.3v10M1536.9 452.7v10M1539.4 453v10M1542 453.3v10M1544.5 453.6v10M1547 453.9v10M1549.5 454.3v10M1552 454.6v10M1554.6 454.9v10M1557.1 455.2v10M1559.6 455.6v10M1562.1 455.9v10M1564.6 456.2v10M1567.2 456.5v10M1569.7 456.8v10M1572.2 457.2v10M1574.7 457.5v10M1577.2 457.8v10M1579.8 458.1v10M1582.3 458.4v10M1584.8 458.8v10M1587.3 459.1v10M1589.8 459.4v10M1592.4 459.7v10M1594.9 460v10M1597.4 460.4v10M1599.9 460.7v10M1602.4 461v10M1605 461.3v10M1607.5 461.6v10M1610 462v10M1612.5 462.3v10M1615 462.6v10M1617.5 462.9v10M1620.1 463.2v10M1622.6 463.6v10M1625.1 463.9v10M1627.6 464.2v10M1630.1 464.5v10M1632.7 464.8v10M1635.2 465.2v10M1637.7 465.5v10M1640.2 465.8v10M1642.7 466.1v10M1645.3 466.5v10M1647.8 466.8v10M1650.3 467.1v10M1652.8 467.4v10M1655.3 467.7v10M1657.9 468.1v10M1660.4 468.4v10M1662.9 468.7v10M1665.4 469v10M1667.9 469.3v10M1670.5 469.7v10M1673 470v10M1675.5 470.3v10" fill="none" stroke="#000" stroke-width="1.1"/>
<path d="M1523.4 341.6C1522.5 342 1520.2 343.3 1517.8 343.7C1515.4 344.1 1511.6 344 1509.1 344.2C1506.6 344.4 1504.8 344.2 1502.6 344.6C1500.4 345 1497.4 345.5 1496.1 346.3C1494.8 347.1 1494.4 348.6 1494.8 349.4C1495.2 350.2 1496.7 350.6 1498.7 351.1C1500.7 351.6 1503.7 352 1506.9 352.4C1510.1 352.8 1514.5 353.1 1517.8 353.3C1521.1 353.5 1524.1 353.4 1526.5 353.5C1528.9 353.6 1531.2 353.7 1532.1 353.7" stroke="#000" stroke-width="5" fill="none" stroke-linecap="round"/>
<path d="M1523.4 341.6C1522.5 342 1520.2 343.3 1517.8 343.7C1515.4 344.1 1511.6 344 1509.1 344.2C1506.6 344.4 1504.8 344.2 1502.6 344.6C1500.4 345 1497.4 345.5 1496.1 346.3C1494.8 347.1 1494.4 348.6 1494.8 349.4C1495.2 350.2 1496.7 350.6 1498.7 351.1C1500.7 351.6 1503.7 352 1506.9 352.4C1510.1 352.8 1514.5 353.1 1517.8 353.3C1521.1 353.5 1524.1 353.4 1526.5 353.5C1528.9 353.6 1531.2 353.7 1532.1 353.7" stroke="#e6e6da" stroke-width="2.8" fill="none" stroke-linecap="round"/>
<path d="M1540.4 353.3L1546.5 350.3" stroke="#000" stroke-width="1.1" fill="none"/>
<circle cx="1540.4" cy="353.3" r="3.6" fill="#e6e6da" stroke="#000" stroke-width="1.1"/>
<circle cx="1532.1" cy="353.7" r="3.6" fill="#111"/>
<circle cx="1532.1" cy="353.7" r="1.8" fill="none" stroke="#e6e6da" stroke-width="0.8" stroke-dasharray="1.2 1.6"/>
<path d="M1490 371.1C1489.4 370.5 1488 368.8 1486.5 367.6C1485 366.4 1482.1 365.2 1480.9 364.1C1479.8 363 1479.2 361.7 1479.6 360.7C1479.9 359.7 1481 358.6 1483 358.1C1485 357.6 1488.8 357.8 1491.7 357.6C1494.6 357.5 1497.9 356.8 1500.4 357.2C1502.9 357.6 1504.7 358.9 1506.9 359.8C1509.1 360.7 1511.4 361.7 1513.4 362.4C1515.4 363.1 1518.1 363.8 1519.1 364.1" stroke="#000" stroke-width="5" fill="none" stroke-linecap="round"/>
<path d="M1490 371.1C1489.4 370.5 1488 368.8 1486.5 367.6C1485 366.4 1482.1 365.2 1480.9 364.1C1479.8 363 1479.2 361.7 1479.6 360.7C1479.9 359.7 1481 358.6 1483 358.1C1485 357.6 1488.8 357.8 1491.7 357.6C1494.6 357.5 1497.9 356.8 1500.4 357.2C1502.9 357.6 1504.7 358.9 1506.9 359.8C1509.1 360.7 1511.4 361.7 1513.4 362.4C1515.4 363.1 1518.1 363.8 1519.1 364.1" stroke="#e6e6da" stroke-width="2.8" fill="none" stroke-linecap="round"/>
<path d="M1527 366.5L1534.4 367.3" stroke="#000" stroke-width="1.1" fill="none"/>
<circle cx="1527" cy="366.5" r="3.4" fill="#e6e6da" stroke="#000" stroke-width="1.1"/>
<circle cx="1519.1" cy="364.1" r="3.8" fill="#111"/>
<circle cx="1519.1" cy="364.1" r="1.9" fill="none" stroke="#e6e6da" stroke-width="0.8" stroke-dasharray="1.2 1.6"/>
<defs><clipPath id="dc"><circle cx="1678.2" cy="947" r="191.3"/></clipPath></defs>
<defs><clipPath id="dh"><path d="M1792.4 686.4L1436.6 1097.6L1209.7 901.3L1565.6 490.1Z"/></clipPath></defs>
<g clip-path="url(#dh)"><g clip-path="url(#dc)"><path d="M1766.3 716.6L1462.7 1067.4M1751.7 704L1448.1 1054.7M1737.1 691.4L1433.5 1042.1M1723.9 680L1420.4 1030.7M1705.2 663.8L1401.7 1014.6M1694.4 654.5L1390.9 1005.2" stroke="#000" stroke-width="1.1" fill="none"/><path d="M1766.3 716.6Q1762.9 705.8 1751.7 704M1763.3 720.1Q1759.9 709.3 1748.7 707.5M1760.2 723.6Q1756.9 712.7 1745.6 711M1757.2 727.1Q1753.9 716.2 1742.6 714.4M1754.2 730.5Q1750.9 719.7 1739.6 717.9M1751.2 734Q1747.8 723.2 1736.6 721.4M1748.2 737.5Q1744.8 726.6 1733.6 724.9M1745.2 741Q1741.8 730.1 1730.6 728.3M1742.2 744.5Q1738.8 733.6 1727.6 731.8M1739.2 747.9Q1735.8 737.1 1724.6 735.3M1736.2 751.4Q1732.8 740.6 1721.6 738.8M1733.2 754.9Q1729.8 744 1718.6 742.3M1730.1 758.4Q1726.8 747.5 1715.5 745.7M1727.1 761.8Q1723.8 751 1712.5 749.2M1724.1 765.3Q1720.7 754.5 1709.5 752.7M1721.1 768.8Q1717.7 758 1706.5 756.2M1718.1 772.3Q1714.7 761.4 1703.5 759.7M1715.1 775.8Q1711.7 764.9 1700.5 763.1M1712.1 779.2Q1708.7 768.4 1697.5 766.6M1709.1 782.7Q1705.7 771.9 1694.5 770.1M1706.1 786.2Q1702.7 775.3 1691.5 773.6M1703 789.7Q1699.7 778.8 1688.5 777M1700 793.2Q1696.7 782.3 1685.4 780.5M1697 796.6Q1693.7 785.8 1682.4 784M1694 800.1Q1690.6 789.3 1679.4 787.5M1691 803.6Q1687.6 792.7 1676.4 791M1688 807.1Q1684.6 796.2 1673.4 794.4M1685 810.5Q1681.6 799.7 1670.4 797.9M1682 814Q1678.6 803.2 1667.4 801.4M1679 817.5Q1675.6 806.7 1664.4 804.9M1676 821Q1672.6 810.1 1661.4 808.4M1672.9 824.5Q1669.6 813.6 1658.4 811.8M1669.9 827.9Q1666.6 817.1 1655.3 815.3M1666.9 831.4Q1663.6 820.6 1652.3 818.8M1663.9 834.9Q1660.5 824 1649.3 822.3M1660.9 838.4Q1657.5 827.5 1646.3 825.7M1657.9 841.9Q1654.5 831 1643.3 829.2M1654.9 845.3Q1651.5 834.5 1640.3 832.7M1651.9 848.8Q1648.5 838 1637.3 836.2M1648.9 852.3Q1645.5 841.4 1634.3 839.7M1645.9 855.8Q1642.5 844.9 1631.3 843.1M1642.8 859.2Q1639.5 848.4 1628.3 846.6M1639.8 862.7Q1636.5 851.9 1625.2 850.1M1636.8 866.2Q1633.5 855.3 1622.2 853.6M1633.8 869.7Q1630.4 858.8 1619.2 857M1630.8 873.2Q1627.4 862.3 1616.2 860.5M1627.8 876.6Q1624.4 865.8 1613.2 864M1624.8 880.1Q1621.4 869.3 1610.2 867.5M1621.8 883.6Q1618.4 872.7 1607.2 871M1618.8 887.1Q1615.4 876.2 1604.2 874.4M1615.8 890.5Q1612.4 879.7 1601.2 877.9M1612.7 894Q1609.4 883.2 1598.2 881.4M1609.7 897.5Q1606.4 886.7 1595.1 884.9M1606.7 901Q1603.4 890.1 1592.1 888.4M1603.7 904.5Q1600.3 893.6 1589.1 891.8M1600.7 907.9Q1597.3 897.1 1586.1 895.3M1597.7 911.4Q1594.3 900.6 1583.1 898.8M1594.7 914.9Q1591.3 904 1580.1 902.3M1591.7 918.4Q1588.3 907.5 1577.1 905.7M1588.7 921.9Q1585.3 911 1574.1 909.2M1585.7 925.3Q1582.3 914.5 1571.1 912.7M1582.6 928.8Q1579.3 918 1568.1 916.2M1579.6 932.3Q1576.3 921.4 1565 919.7M1576.6 935.8Q1573.3 924.9 1562 923.1M1573.6 939.2Q1570.2 928.4 1559 926.6M1570.6 942.7Q1567.2 931.9 1556 930.1M1567.6 946.2Q1564.2 935.4 1553 933.6M1564.6 949.7Q1561.2 938.8 1550 937.1M1561.6 953.2Q1558.2 942.3 1547 940.5M1558.6 956.6Q1555.2 945.8 1544 944M1555.6 960.1Q1552.2 949.3 1541 947.5M1552.5 963.6Q1549.2 952.7 1537.9 951M1549.5 967.1Q1546.2 956.2 1534.9 954.4M1546.5 970.6Q1543.2 959.7 1531.9 957.9M1543.5 974Q1540.1 963.2 1528.9 961.4M1540.5 977.5Q1537.1 966.7 1525.9 964.9M1537.5 981Q1534.1 970.1 1522.9 968.4M1534.5 984.5Q1531.1 973.6 1519.9 971.8M1531.5 987.9Q1528.1 977.1 1516.9 975.3M1528.5 991.4Q1525.1 980.6 1513.9 978.8M1525.5 994.9Q1522.1 984 1510.9 982.3M1522.4 998.4Q1519.1 987.5 1507.8 985.7M1519.4 1001.9Q1516.1 991 1504.8 989.2M1516.4 1005.3Q1513.1 994.5 1501.8 992.7M1513.4 1008.8Q1510 998 1498.8 996.2M1510.4 1012.3Q1507 1001.4 1495.8 999.7M1507.4 1015.8Q1504 1004.9 1492.8 1003.1M1504.4 1019.2Q1501 1008.4 1489.8 1006.6M1501.4 1022.7Q1498 1011.9 1486.8 1010.1M1498.4 1026.2Q1495 1015.4 1483.8 1013.6M1495.4 1029.7Q1492 1018.8 1480.8 1017.1M1492.3 1033.2Q1489 1022.3 1477.7 1020.5M1489.3 1036.6Q1486 1025.8 1474.7 1024M1486.3 1040.1Q1482.9 1029.3 1471.7 1027.5M1483.3 1043.6Q1479.9 1032.7 1468.7 1031M1480.3 1047.1Q1476.9 1036.2 1465.7 1034.4M1477.3 1050.6Q1473.9 1039.7 1462.7 1037.9M1474.3 1054Q1470.9 1043.2 1459.7 1041.4M1471.3 1057.5Q1467.9 1046.7 1456.7 1044.9M1468.3 1061Q1464.9 1050.1 1453.7 1048.4M1465.2 1064.5Q1461.9 1053.6 1450.7 1051.8M1751.7 704Q1748.3 693.1 1737.1 691.4M1748.7 707.5Q1745.3 696.6 1734.1 694.8M1745.6 711Q1742.3 700.1 1731.1 698.3M1742.6 714.4Q1739.3 703.6 1728 701.8M1739.6 717.9Q1736.3 707.1 1725 705.3M1736.6 721.4Q1733.2 710.5 1722 708.8M1733.6 724.9Q1730.2 714 1719 712.2M1730.6 728.3Q1727.2 717.5 1716 715.7M1727.6 731.8Q1724.2 721 1713 719.2M1724.6 735.3Q1721.2 724.5 1710 722.7M1721.6 738.8Q1718.2 727.9 1707 726.2M1718.6 742.3Q1715.2 731.4 1704 729.6M1715.5 745.7Q1712.2 734.9 1701 733.1M1712.5 749.2Q1709.2 738.4 1697.9 736.6M1709.5 752.7Q1706.2 741.8 1694.9 740.1M1706.5 756.2Q1703.1 745.3 1691.9 743.5M1703.5 759.7Q1700.1 748.8 1688.9 747M1700.5 763.1Q1697.1 752.3 1685.9 750.5M1697.5 766.6Q1694.1 755.8 1682.9 754M1694.5 770.1Q1691.1 759.2 1679.9 757.5M1691.5 773.6Q1688.1 762.7 1676.9 760.9M1688.5 777Q1685.1 766.2 1673.9 764.4M1685.4 780.5Q1682.1 769.7 1670.9 767.9M1682.4 784Q1679.1 773.2 1667.8 771.4M1679.4 787.5Q1676.1 776.6 1664.8 774.9M1676.4 791Q1673 780.1 1661.8 778.3M1673.4 794.4Q1670 783.6 1658.8 781.8M1670.4 797.9Q1667 787.1 1655.8 785.3M1667.4 801.4Q1664 790.5 1652.8 788.8M1664.4 804.9Q1661 794 1649.8 792.2M1661.4 808.4Q1658 797.5 1646.8 795.7M1658.4 811.8Q1655 801 1643.8 799.2M1655.3 815.3Q1652 804.5 1640.8 802.7M1652.3 818.8Q1649 807.9 1637.7 806.2M1649.3 822.3Q1646 811.4 1634.7 809.6M1646.3 825.7Q1642.9 814.9 1631.7 813.1M1643.3 829.2Q1639.9 818.4 1628.7 816.6M1640.3 832.7Q1636.9 821.8 1625.7 820.1M1637.3 836.2Q1633.9 825.3 1622.7 823.5M1634.3 839.7Q1630.9 828.8 1619.7 827M1631.3 843.1Q1627.9 832.3 1616.7 830.5M1628.3 846.6Q1624.9 835.8 1613.7 834M1625.2 850.1Q1621.9 839.2 1610.6 837.5M1622.2 853.6Q1618.9 842.7 1607.6 840.9M1619.2 857Q1615.9 846.2 1604.6 844.4M1616.2 860.5Q1612.8 849.7 1601.6 847.9M1613.2 864Q1609.8 853.2 1598.6 851.4M1610.2 867.5Q1606.8 856.6 1595.6 854.9M1607.2 871Q1603.8 860.1 1592.6 858.3M1604.2 874.4Q1600.8 863.6 1589.6 861.8M1601.2 877.9Q1597.8 867.1 1586.6 865.3M1598.2 881.4Q1594.8 870.5 1583.6 868.8M1595.1 884.9Q1591.8 874 1580.5 872.2M1592.1 888.4Q1588.8 877.5 1577.5 875.7M1589.1 891.8Q1585.8 881 1574.5 879.2M1586.1 895.3Q1582.7 884.5 1571.5 882.7M1583.1 898.8Q1579.7 887.9 1568.5 886.2M1580.1 902.3Q1576.7 891.4 1565.5 889.6M1577.1 905.7Q1573.7 894.9 1562.5 893.1M1574.1 909.2Q1570.7 898.4 1559.5 896.6M1571.1 912.7Q1567.7 901.9 1556.5 900.1M1568.1 916.2Q1564.7 905.3 1553.5 903.6M1565 919.7Q1561.7 908.8 1550.4 907M1562 923.1Q1558.7 912.3 1547.4 910.5M1559 926.6Q1555.6 915.8 1544.4 914M1556 930.1Q1552.6 919.2 1541.4 917.5M1553 933.6Q1549.6 922.7 1538.4 920.9M1550 937.1Q1546.6 926.2 1535.4 924.4M1547 940.5Q1543.6 929.7 1532.4 927.9M1544 944Q1540.6 933.2 1529.4 931.4M1541 947.5Q1537.6 936.6 1526.4 934.9M1537.9 951Q1534.6 940.1 1523.4 938.3M1534.9 954.4Q1531.6 943.6 1520.3 941.8M1531.9 957.9Q1528.6 947.1 1517.3 945.3M1528.9 961.4Q1525.5 950.5 1514.3 948.8M1525.9 964.9Q1522.5 954 1511.3 952.2M1522.9 968.4Q1519.5 957.5 1508.3 955.7M1519.9 971.8Q1516.5 961 1505.3 959.2M1516.9 975.3Q1513.5 964.5 1502.3 962.7M1513.9 978.8Q1510.5 967.9 1499.3 966.2M1510.9 982.3Q1507.5 971.4 1496.3 969.6M1507.8 985.7Q1504.5 974.9 1493.3 973.1M1504.8 989.2Q1501.5 978.4 1490.2 976.6M1501.8 992.7Q1498.5 981.9 1487.2 980.1M1498.8 996.2Q1495.4 985.3 1484.2 983.6M1495.8 999.7Q1492.4 988.8 1481.2 987M1492.8 1003.1Q1489.4 992.3 1478.2 990.5M1489.8 1006.6Q1486.4 995.8 1475.2 994M1486.8 1010.1Q1483.4 999.2 1472.2 997.5M1483.8 1013.6Q1480.4 1002.7 1469.2 1000.9M1480.8 1017.1Q1477.4 1006.2 1466.2 1004.4M1477.7 1020.5Q1474.4 1009.7 1463.2 1007.9M1474.7 1024Q1471.4 1013.2 1460.1 1011.4M1471.7 1027.5Q1468.4 1016.6 1457.1 1014.9M1468.7 1031Q1465.3 1020.1 1454.1 1018.3M1465.7 1034.4Q1462.3 1023.6 1451.1 1021.8M1462.7 1037.9Q1459.3 1027.1 1448.1 1025.3M1459.7 1041.4Q1456.3 1030.6 1445.1 1028.8M1456.7 1044.9Q1453.3 1034 1442.1 1032.3M1453.7 1048.4Q1450.3 1037.5 1439.1 1035.7M1450.7 1051.8Q1447.3 1041 1436.1 1039.2M1723.9 680Q1719.2 666.6 1705.2 663.8M1720.8 683.6Q1716 670.2 1702.1 667.5M1717.6 687.2Q1712.9 673.9 1699 671.1M1714.5 690.9Q1709.7 677.5 1695.8 674.7M1711.4 694.5Q1706.6 681.1 1692.7 678.3M1708.2 698.1Q1703.5 684.8 1689.5 682M1705.1 701.8Q1700.3 688.4 1686.4 685.6M1701.9 705.4Q1697.2 692 1683.3 689.2M1698.8 709Q1694 695.6 1680.1 692.9M1695.6 712.7Q1690.9 699.3 1677 696.5M1692.5 716.3Q1687.7 702.9 1673.8 700.1M1689.4 719.9Q1684.6 706.5 1670.7 703.7M1686.2 723.5Q1681.5 710.2 1667.5 707.4M1683.1 727.2Q1678.3 713.8 1664.4 711M1679.9 730.8Q1675.2 717.4 1661.3 714.6M1676.8 734.4Q1672 721.1 1658.1 718.3M1673.7 738.1Q1668.9 724.7 1655 721.9M1670.5 741.7Q1665.8 728.3 1651.8 725.5M1667.4 745.3Q1662.6 731.9 1648.7 729.2M1664.2 748.9Q1659.5 735.6 1645.6 732.8M1661.1 752.6Q1656.3 739.2 1642.4 736.4M1658 756.2Q1653.2 742.8 1639.3 740M1654.8 759.8Q1650.1 746.5 1636.1 743.7M1651.7 763.5Q1646.9 750.1 1633 747.3M1648.5 767.1Q1643.8 753.7 1629.9 750.9M1645.4 770.7Q1640.6 757.4 1626.7 754.6M1642.3 774.4Q1637.5 761 1623.6 758.2M1639.1 778Q1634.4 764.6 1620.4 761.8M1636 781.6Q1631.2 768.2 1617.3 765.5M1632.8 785.2Q1628.1 771.9 1614.2 769.1M1629.7 788.9Q1624.9 775.5 1611 772.7M1626.5 792.5Q1621.8 779.1 1607.9 776.3M1623.4 796.1Q1618.6 782.8 1604.7 780M1620.3 799.8Q1615.5 786.4 1601.6 783.6M1617.1 803.4Q1612.4 790 1598.4 787.2M1614 807Q1609.2 793.6 1595.3 790.9M1610.8 810.7Q1606.1 797.3 1592.2 794.5M1607.7 814.3Q1602.9 800.9 1589 798.1M1604.6 817.9Q1599.8 804.5 1585.9 801.7M1601.4 821.5Q1596.7 808.2 1582.7 805.4M1598.3 825.2Q1593.5 811.8 1579.6 809M1595.1 828.8Q1590.4 815.4 1576.5 812.6M1592 832.4Q1587.2 819.1 1573.3 816.3M1588.9 836.1Q1584.1 822.7 1570.2 819.9M1585.7 839.7Q1581 826.3 1567 823.5M1582.6 843.3Q1577.8 829.9 1563.9 827.2M1579.4 846.9Q1574.7 833.6 1560.8 830.8M1576.3 850.6Q1571.5 837.2 1557.6 834.4M1573.1 854.2Q1568.4 840.8 1554.5 838M1570 857.8Q1565.2 844.5 1551.3 841.7M1566.9 861.5Q1562.1 848.1 1548.2 845.3M1563.7 865.1Q1559 851.7 1545 848.9M1560.6 868.7Q1555.8 855.3 1541.9 852.6M1557.4 872.4Q1552.7 859 1538.8 856.2M1554.3 876Q1549.5 862.6 1535.6 859.8M1551.2 879.6Q1546.4 866.2 1532.5 863.5M1548 883.2Q1543.3 869.9 1529.3 867.1M1544.9 886.9Q1540.1 873.5 1526.2 870.7M1541.7 890.5Q1537 877.1 1523.1 874.3M1538.6 894.1Q1533.8 880.8 1519.9 878M1535.5 897.8Q1530.7 884.4 1516.8 881.6M1532.3 901.4Q1527.6 888 1513.6 885.2M1529.2 905Q1524.4 891.6 1510.5 888.9M1526 908.7Q1521.3 895.3 1507.4 892.5M1522.9 912.3Q1518.1 898.9 1504.2 896.1M1519.8 915.9Q1515 902.5 1501.1 899.7M1516.6 919.5Q1511.9 906.2 1497.9 903.4M1513.5 923.2Q1508.7 909.8 1494.8 907M1510.3 926.8Q1505.6 913.4 1491.7 910.6M1507.2 930.4Q1502.4 917.1 1488.5 914.3M1504 934.1Q1499.3 920.7 1485.4 917.9M1500.9 937.7Q1496.1 924.3 1482.2 921.5M1497.8 941.3Q1493 927.9 1479.1 925.2M1494.6 944.9Q1489.9 931.6 1475.9 928.8M1491.5 948.6Q1486.7 935.2 1472.8 932.4M1488.3 952.2Q1483.6 938.8 1469.7 936M1485.2 955.8Q1480.4 942.5 1466.5 939.7M1482.1 959.5Q1477.3 946.1 1463.4 943.3M1478.9 963.1Q1474.2 949.7 1460.2 946.9M1475.8 966.7Q1471 953.3 1457.1 950.6M1472.6 970.4Q1467.9 957 1454 954.2M1469.5 974Q1464.7 960.6 1450.8 957.8M1466.4 977.6Q1461.6 964.2 1447.7 961.4M1463.2 981.2Q1458.5 967.9 1444.5 965.1M1460.1 984.9Q1455.3 971.5 1441.4 968.7M1456.9 988.5Q1452.2 975.1 1438.3 972.3M1453.8 992.1Q1449 978.8 1435.1 976M1450.6 995.8Q1445.9 982.4 1432 979.6M1447.5 999.4Q1442.8 986 1428.8 983.2M1444.4 1003Q1439.6 989.6 1425.7 986.9M1441.2 1006.6Q1436.5 993.3 1422.5 990.5M1438.1 1010.3Q1433.3 996.9 1419.4 994.1M1434.9 1013.9Q1430.2 1000.5 1416.3 997.7M1431.8 1017.5Q1427 1004.2 1413.1 1001.4M1428.7 1021.2Q1423.9 1007.8 1410 1005M1425.5 1024.8Q1420.8 1011.4 1406.8 1008.6M1422.4 1028.4Q1417.6 1015.1 1403.7 1012.3M1694.4 654.5Q1686.3 644.8 1675.5 638.1M1691 658.4Q1682.9 648.7 1672.1 642M1687.6 662.3Q1679.5 652.6 1668.7 646M1684.2 666.3Q1676.1 656.6 1665.3 649.9M1680.8 670.2Q1672.7 660.5 1661.9 653.8M1677.4 674.1Q1669.3 664.4 1658.5 657.8M1674 678.1Q1665.9 668.4 1655.1 661.7M1670.6 682Q1662.5 672.3 1651.7 665.6M1667.2 685.9Q1659.1 676.2 1648.3 669.6M1663.8 689.9Q1655.7 680.2 1644.9 673.5M1660.4 693.8Q1652.3 684.1 1641.5 677.4M1657 697.7Q1648.9 688 1638.1 681.4M1653.6 701.6Q1645.5 692 1634.7 685.3M1650.2 705.6Q1642 695.9 1631.3 689.2M1646.8 709.5Q1638.6 699.8 1627.9 693.2M1643.4 713.4Q1635.2 703.8 1624.5 697.1M1640 717.4Q1631.8 707.7 1621.1 701M1636.6 721.3Q1628.4 711.6 1617.7 704.9M1633.2 725.2Q1625 715.5 1614.3 708.9M1629.8 729.2Q1621.6 719.5 1610.9 712.8M1626.4 733.1Q1618.2 723.4 1607.5 716.7M1623 737Q1614.8 727.3 1604.1 720.7M1619.6 741Q1611.4 731.3 1600.7 724.6M1616.2 744.9Q1608 735.2 1597.3 728.5M1612.8 748.8Q1604.6 739.1 1593.9 732.5M1609.4 752.8Q1601.2 743.1 1590.5 736.4M1606 756.7Q1597.8 747 1587.1 740.3M1602.6 760.6Q1594.4 750.9 1583.6 744.3M1599.1 764.6Q1591 754.9 1580.2 748.2M1595.7 768.5Q1587.6 758.8 1576.8 752.1M1592.3 772.4Q1584.2 762.7 1573.4 756.1M1588.9 776.4Q1580.8 766.7 1570 760M1585.5 780.3Q1577.4 770.6 1566.6 763.9M1582.1 784.2Q1574 774.5 1563.2 767.9M1578.7 788.2Q1570.6 778.5 1559.8 771.8M1575.3 792.1Q1567.2 782.4 1556.4 775.7M1571.9 796Q1563.8 786.3 1553 779.7M1568.5 800Q1560.4 790.3 1549.6 783.6M1565.1 803.9Q1557 794.2 1546.2 787.5M1561.7 807.8Q1553.6 798.1 1542.8 791.5M1558.3 811.7Q1550.2 802.1 1539.4 795.4M1554.9 815.7Q1546.8 806 1536 799.3M1551.5 819.6Q1543.4 809.9 1532.6 803.3M1548.1 823.5Q1540 813.9 1529.2 807.2M1544.7 827.5Q1536.6 817.8 1525.8 811.1M1541.3 831.4Q1533.2 821.7 1522.4 815M1537.9 835.3Q1529.8 825.6 1519 819M1534.5 839.3Q1526.4 829.6 1515.6 822.9M1531.1 843.2Q1523 833.5 1512.2 826.8M1527.7 847.1Q1519.5 837.4 1508.8 830.8M1524.3 851.1Q1516.1 841.4 1505.4 834.7M1520.9 855Q1512.7 845.3 1502 838.6M1517.5 858.9Q1509.3 849.2 1498.6 842.6M1514.1 862.9Q1505.9 853.2 1495.2 846.5M1510.7 866.8Q1502.5 857.1 1491.8 850.4M1507.3 870.7Q1499.1 861 1488.4 854.4M1503.9 874.7Q1495.7 865 1485 858.3M1500.5 878.6Q1492.3 868.9 1481.6 862.2M1497.1 882.5Q1488.9 872.8 1478.2 866.2M1493.7 886.5Q1485.5 876.8 1474.8 870.1M1490.3 890.4Q1482.1 880.7 1471.4 874M1486.9 894.3Q1478.7 884.6 1468 878M1483.5 898.3Q1475.3 888.6 1464.6 881.9M1480.1 902.2Q1471.9 892.5 1461.1 885.8M1476.6 906.1Q1468.5 896.4 1457.7 889.8M1473.2 910Q1465.1 900.4 1454.3 893.7M1469.8 914Q1461.7 904.3 1450.9 897.6M1466.4 917.9Q1458.3 908.2 1447.5 901.6M1463 921.8Q1454.9 912.2 1444.1 905.5M1459.6 925.8Q1451.5 916.1 1440.7 909.4M1456.2 929.7Q1448.1 920 1437.3 913.4M1452.8 933.6Q1444.7 923.9 1433.9 917.3M1449.4 937.6Q1441.3 927.9 1430.5 921.2M1446 941.5Q1437.9 931.8 1427.1 925.1M1442.6 945.4Q1434.5 935.7 1423.7 929.1M1439.2 949.4Q1431.1 939.7 1420.3 933M1435.8 953.3Q1427.7 943.6 1416.9 936.9M1432.4 957.2Q1424.3 947.5 1413.5 940.9M1429 961.2Q1420.9 951.5 1410.1 944.8M1425.6 965.1Q1417.5 955.4 1406.7 948.7M1422.2 969Q1414.1 959.3 1403.3 952.7M1418.8 973Q1410.7 963.3 1399.9 956.6M1415.4 976.9Q1407.3 967.2 1396.5 960.5M1412 980.8Q1403.9 971.1 1393.1 964.5M1408.6 984.8Q1400.5 975.1 1389.7 968.4M1405.2 988.7Q1397 979 1386.3 972.3M1401.8 992.6Q1393.6 982.9 1382.9 976.3M1398.4 996.6Q1390.2 986.9 1379.5 980.2M1395 1000.5Q1386.8 990.8 1376.1 984.1M1391.6 1004.4Q1383.4 994.7 1372.7 988.1" stroke="#000" stroke-width="0.9" fill="none"/></g></g>
<g clip-path="url(#dh)"><circle cx="1678.2" cy="947" r="190.8" fill="none" stroke="#000" stroke-width="1.1"/></g>
<text x="1658.2" y="1010.5" font-size="19" font-weight="normal" text-anchor="middle" fill="#000" textLength="85.5" lengthAdjust="spacingAndGlyphs" stroke="#e6e6da" stroke-width="0.5">DETAIL A</text>
<text x="1658" y="1031.7" font-size="19" font-weight="normal" text-anchor="middle" fill="#000" textLength="107.5" lengthAdjust="spacingAndGlyphs" stroke="#e6e6da" stroke-width="0.5">SCALE 2 : 1</text>
<rect x="1195" y="979" width="125" height="3" fill="#7e7e7e"/>
<rect x="1195" y="1229" width="125" height="3" fill="#7e7e7e"/>
<rect x="1303" y="981" width="3" height="109" fill="#7e7e7e"/>
<rect x="1303" y="1130" width="3" height="100" fill="#7e7e7e"/>
<path d="M1304.5 982L1301.5 997L1307.5 997Z" fill="#7e7e7e"/>
<path d="M1304.5 1229L1301.5 1214L1307.5 1214Z" fill="#7e7e7e"/>
<text x="1304" y="1124.3" font-size="33.5" font-weight="normal" text-anchor="middle" fill="#7e7e7e" textLength="17.5" lengthAdjust="spacingAndGlyphs" stroke="#e6e6da" stroke-width="0.7">2</text>
<path d="M1505.5 1408V1197.5H2008" stroke="#0000ff" stroke-width="3" fill="none"/>
<text x="1557.5" y="1264" font-size="34" font-weight="bold" fill="#000" textLength="128.14" lengthAdjust="spacingAndGlyphs">Product</text>
<text x="1694.7" y="1264" font-size="34" font-weight="bold" fill="#000" textLength="114.06" lengthAdjust="spacingAndGlyphs">Name:</text>
<text x="1815.4" y="1264" font-size="34" font-weight="bold" fill="#000" textLength="161.95" lengthAdjust="spacingAndGlyphs">Earrings-6</text>
<text x="1557.5" y="1303" font-size="34" font-weight="bold" fill="#000" textLength="186.45" lengthAdjust="spacingAndGlyphs">Dimension-</text>
<text x="1754.6" y="1303" font-size="34" font-weight="bold" fill="#000" textLength="28.49" lengthAdjust="spacingAndGlyphs">L-</text>
<text x="1792.6" y="1303" font-size="34" font-weight="bold" fill="#000" textLength="19.37" lengthAdjust="spacingAndGlyphs">2</text>
<text x="1821.1" y="1303" font-size="34" font-weight="bold" fill="#000" textLength="72.24" lengthAdjust="spacingAndGlyphs">inch</text>
<text x="1557.9" y="1341.7" font-size="34" font-weight="bold" fill="#000" textLength="104.30" lengthAdjust="spacingAndGlyphs">Code:</text>
<text x="1670.3" y="1341.7" font-size="34" font-weight="bold" fill="#000" textLength="94.86" lengthAdjust="spacingAndGlyphs">ER003</text>
<text x="1558" y="1381.3" font-size="34" font-weight="bold" fill="#000" textLength="84.66" lengthAdjust="spacingAndGlyphs">Cost:</text>
<text x="1654.8" y="1381.3" font-size="34" font-weight="bold" fill="#000" textLength="33.42" lengthAdjust="spacingAndGlyphs">19</text>
<path d="M65 1336.5H536V1408" stroke="#0000ff" stroke-width="3" fill="none"/>
<text x="103.1" y="1389.5" font-size="34.5" font-weight="bold" fill="#000" textLength="188.74" lengthAdjust="spacingAndGlyphs">Dimensions</text>
<text x="301" y="1389.5" font-size="34.5" font-weight="bold" fill="#000" textLength="55.13" lengthAdjust="spacingAndGlyphs">are</text>
<text x="364.4" y="1389.5" font-size="34.5" font-weight="bold" fill="#000" textLength="30.92" lengthAdjust="spacingAndGlyphs">in</text>
<text x="403.5" y="1389.5" font-size="34.5" font-weight="bold" fill="#000" textLength="111.44" lengthAdjust="spacingAndGlyphs">Inches</text>
<g font-size="62" font-weight="bold" fill="#000"><text x="827.5" y="140" transform="translate(827.5 0) scale(0.986 1) translate(-827.5 0)">I</text><text x="844.8" y="140" transform="translate(844.8 0) scale(0.766 1) translate(-844.8 0)">s</text><text x="872.2" y="140" transform="translate(872.2 0) scale(1.003 1) translate(-872.2 0)">o</text><text x="911.5" y="140" transform="translate(911.5 0) scale(1.011 1) translate(-911.5 0)">m</text><text x="969.2" y="140" transform="translate(969.2 0) scale(1.116 1) translate(-969.2 0)">e</text><text x="1008.2" y="140" transform="translate(1008.2 0) scale(0.928 1) translate(-1008.2 0)">t</text><text x="1025.5" y="140" transform="translate(1025.5 0) scale(0.905 1) translate(-1025.5 0)">r</text><text x="1045" y="140" transform="translate(1045 0) scale(1.161 1) translate(-1045 0)">i</text><text x="1061.9" y="140" transform="translate(1061.9 0) scale(1.045 1) translate(-1061.9 0)">c</text><text x="1119.7" y="140" transform="translate(1119.7 0) scale(0.942 1) translate(-1119.7 0)">V</text><text x="1159.1" y="140" transform="translate(1159.1 0) scale(1.255 1) translate(-1159.1 0)">i</text><text x="1176.4" y="140" transform="translate(1176.4 0) scale(1.116 1) translate(-1176.4 0)">e</text><text x="1215.8" y="140" transform="translate(1215.8 0) scale(0.956 1) translate(-1215.8 0)">w</text><text x="1265.6" y="140" transform="translate(1265.6 0) scale(0.769 1) translate(-1265.6 0)">s</text></g>
</svg>
</body></html>
